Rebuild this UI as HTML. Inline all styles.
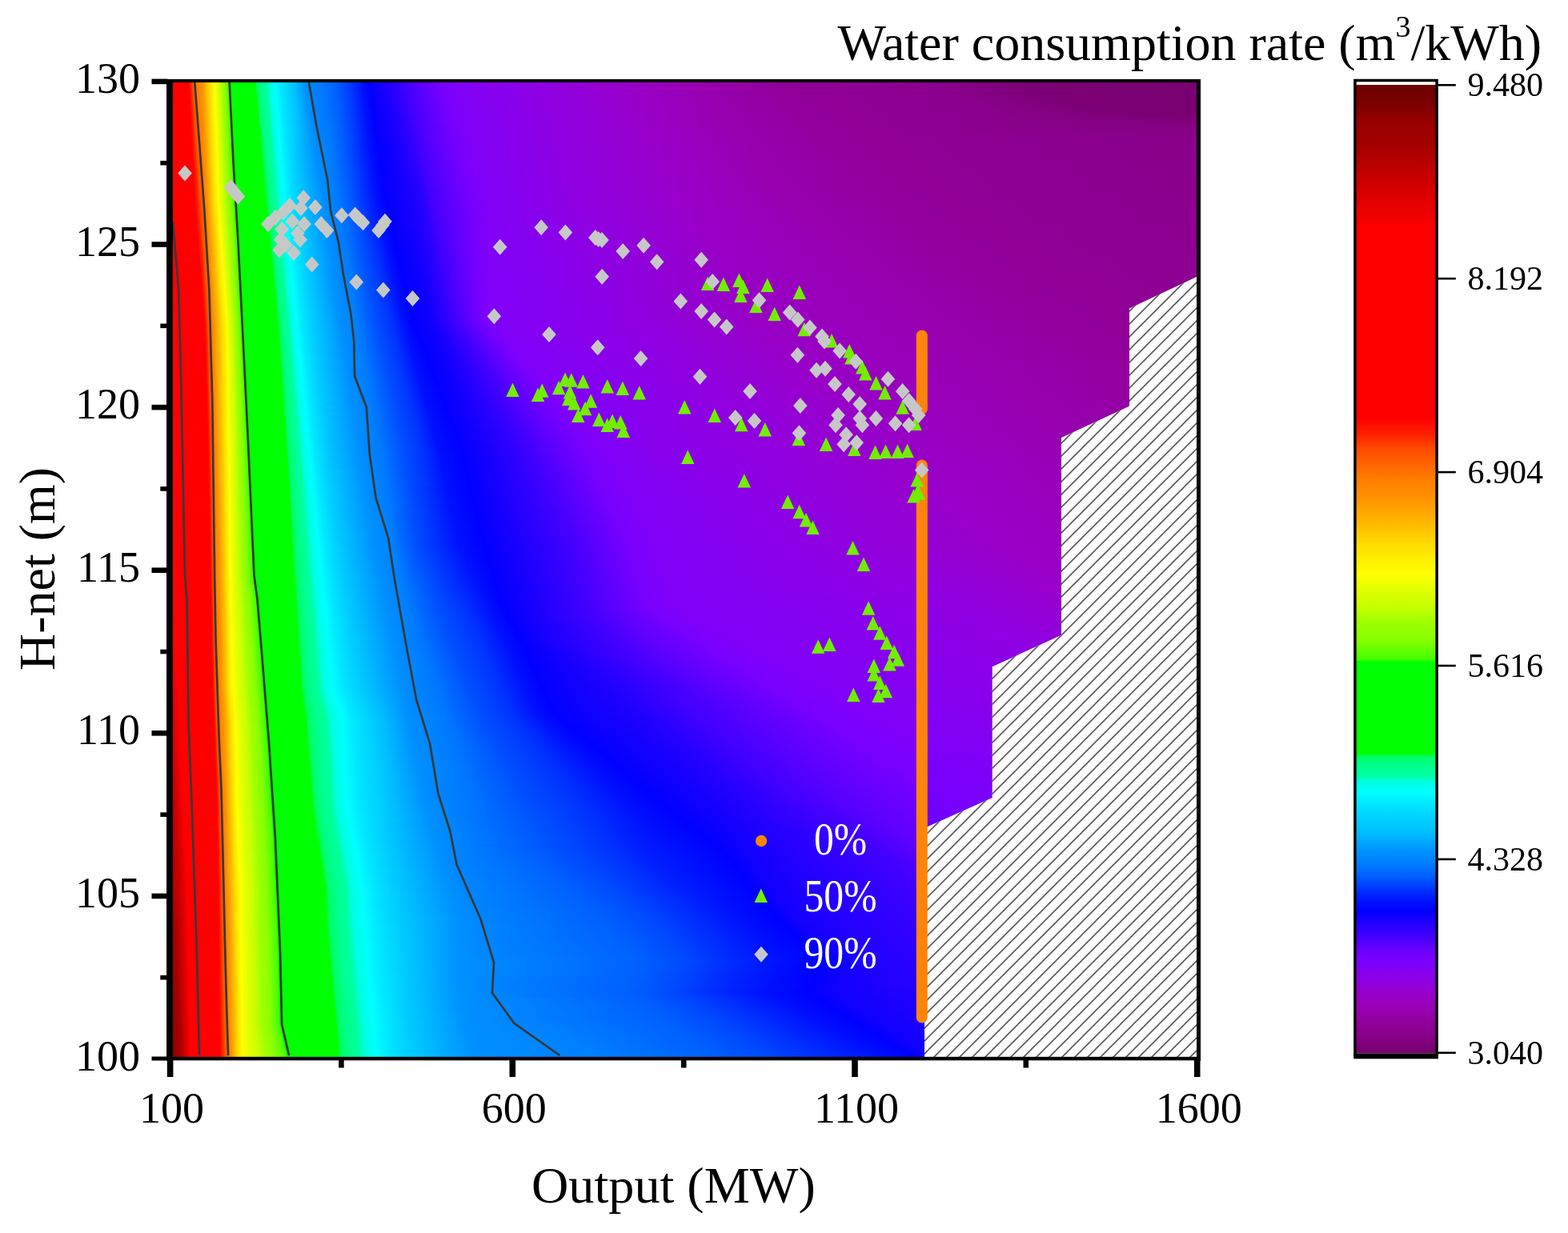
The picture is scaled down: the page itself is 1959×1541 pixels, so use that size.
<!DOCTYPE html>
<html><head><meta charset="utf-8"><title>Water consumption rate contour</title>
<style>
html,body{margin:0;padding:0;background:#fff}
body{width:1959px;height:1541px;position:relative;overflow:hidden}
#fld{position:absolute;left:216px;top:103px;width:1279px;height:1218px}
#fld div{width:100%}
#cb{position:absolute;left:1694px;top:106px;width:100px;height:1210px;background:linear-gradient(180deg,#6c0000 0px,#7c0000 24px,#960000 44px,#a50000 74px,#be0000 104px,#d80000 134px,#ff0000 182px,#ff0000 417px,#ff2000 437px,#ff4800 454px,#ff6600 476px,#ff8000 495px,#ff9000 515px,#ffa800 534px,#ffc000 554px,#ffdd00 575px,#ffff00 612px,#e0ff00 631px,#c8ff00 651px,#a0ff00 670px,#88ff00 693px,#40ff00 719px,#00ff00 721px,#00ff00 836px,#00ff60 839px,#00ff88 849px,#00ffa0 863px,#00ffe0 871px,#00ffff 885px,#00e8ff 898px,#00d0ff 917px,#00c0ff 933px,#00a8ff 946px,#0090ff 958px,#0080ff 972px,#0060ff 989px,#0030ff 1007px,#0010ff 1021px,#0000ff 1033px,#2000ff 1047px,#4000ff 1063px,#6000ff 1077px,#7800ff 1091px,#8000f8 1103px,#9000e0 1121px,#9800c8 1138px,#9800b0 1156px,#900098 1173px,#880088 1191px,#780070 1205px)}
#cbw{position:absolute;left:1694px;top:102px;width:100px;height:4px;background:#fff}
svg{position:absolute;left:0;top:0}
</style></head><body>
<div id="fld">
<div style="height:4px;background:linear-gradient(90deg,#ff0000 0px,#ff0000 19.5px,#ff1900 21.5px,#ff4e00 24.5px,#ff7100 27.5px,#ff8000 30.5px,#ff9300 36.5px,#ffdf00 46.5px,#feff00 52.5px,#e0ff00 55.5px,#c9ff00 58.5px,#a3ff00 61.5px,#87ff00 65.5px,#42ff00 69.5px,#00ff00 70.5px,#00ff00 102.5px,#00ff11 103.5px,#00ff50 104.5px,#00ff66 105.5px,#00ff86 109.5px,#00ff9f 116.5px,#00ffaa 117.5px,#00ffd9 120.5px,#00ffe3 121.5px,#00fdff 128.5px,#00e6ff 135.5px,#00c0ff 152.5px,#0090ff 165.5px,#0087ff 169.5px,#0078ff 186.5px,#0061ff 203.5px,#0034ff 223.5px,#0010ff 236.5px,#0000ff 245.5px,#2e00ff 279.5px,#4000ff 289.5px,#7800ff 334.5px,#8000f8 354.5px,#9000e0 474.5px,#9800c8 575.5px,#9800b0 655.5px,#900098 772.5px,#8b008e 939.5px,#7b0075 1059.5px,#77006f 1279px)"></div>
<div style="height:4px;background:linear-gradient(90deg,#ff0000 0px,#ff0000 19.5px,#ff0800 20.5px,#ff1500 21.5px,#ff2400 22.5px,#ff4b00 24.5px,#ff6e00 27.5px,#ff7f00 30.5px,#ff9200 36.5px,#ffde00 46.5px,#ffff00 52.5px,#e1ff00 55.5px,#caff00 58.5px,#a5ff00 61.5px,#89ff00 65.5px,#46ff00 69.5px,#00ff00 70.5px,#00ff00 103.5px,#00ff39 104.5px,#00ff63 105.5px,#00ff89 110.5px,#00ff9e 116.5px,#00ffa4 117.5px,#00ffe1 121.5px,#00feff 128.5px,#00e7ff 135.5px,#00c1ff 152.5px,#0092ff 165.5px,#0086ff 170.5px,#0079ff 186.5px,#0060ff 204.5px,#0033ff 224.5px,#0011ff 236.5px,#0100ff 246.5px,#2e00ff 280.5px,#4000ff 290.5px,#7800ff 335.5px,#8000f8 355.5px,#9000e0 475.5px,#9800c8 577.5px,#9800b0 658.5px,#900098 777.5px,#8b008e 947.5px,#7b0075 1068.5px,#780070 1279px)"></div>
<div style="height:4px;background:linear-gradient(90deg,#ff0000 0px,#ff0000 19.5px,#ff0500 20.5px,#ff2000 22.5px,#ff4700 24.5px,#ff7300 28.5px,#ff8100 31.5px,#ff9000 36.5px,#ffdd00 46.5px,#fffe00 52.5px,#f6ff00 53.5px,#e2ff00 55.5px,#cbff00 58.5px,#9dff00 62.5px,#8aff00 65.5px,#7cff00 66.5px,#49ff00 69.5px,#00ff00 70.5px,#00ff00 103.5px,#00ff22 104.5px,#00ff60 105.5px,#00ff88 110.5px,#00ffa0 117.5px,#00ffdf 121.5px,#00fffe 128.5px,#00fcff 129.5px,#00e7ff 135.5px,#00beff 153.5px,#0090ff 166.5px,#0085ff 171.5px,#0078ff 187.5px,#0060ff 204.5px,#0034ff 224.5px,#0010ff 237.5px,#0000ff 246.5px,#2e00ff 281.5px,#4000ff 291.5px,#7800ff 337.5px,#8000f8 356.5px,#9000e0 476.5px,#9800c8 579.5px,#9800b0 661.5px,#900098 781.5px,#8b008e 956.5px,#7b0075 1077.5px,#780070 1279px)"></div>
<div style="height:4px;background:linear-gradient(90deg,#ff0000 0px,#ff0200 20.5px,#ff1d00 22.5px,#ff4200 24.5px,#ff7200 28.5px,#ff8100 31.5px,#ff9000 36.5px,#ffdc00 46.5px,#fffe00 52.5px,#f7ff00 53.5px,#c3ff00 59.5px,#9eff00 62.5px,#8bff00 65.5px,#7fff00 66.5px,#4cff00 69.5px,#07ff00 70.5px,#00ff00 71.5px,#00ff00 103.5px,#00ff0a 104.5px,#00ff4a 105.5px,#00ff65 106.5px,#00ff85 110.5px,#00ff9f 117.5px,#00ffa9 118.5px,#00ffd9 121.5px,#00ffe3 122.5px,#00fdff 129.5px,#00e8ff 135.5px,#00bfff 153.5px,#008fff 167.5px,#0085ff 172.5px,#0079ff 187.5px,#0061ff 204.5px,#0033ff 225.5px,#0011ff 237.5px,#0100ff 247.5px,#2e00ff 282.5px,#4000ff 292.5px,#7800ff 338.5px,#8000f8 357.5px,#9000e0 477.5px,#9800c8 581.5px,#9800b0 664.5px,#900098 786.5px,#8b008e 964.5px,#7b0075 1086.5px,#780070 1279px)"></div>
<div style="height:4px;background:linear-gradient(90deg,#ff0000 0px,#ff0000 20.5px,#ff1900 22.5px,#ff4d00 25.5px,#ff6f00 28.5px,#ff8000 31.5px,#ff8f00 36.5px,#ffdb00 46.5px,#fffd00 52.5px,#f8ff00 53.5px,#e5ff00 55.5px,#c5ff00 59.5px,#9fff00 62.5px,#8cff00 65.5px,#82ff00 66.5px,#4fff00 69.5px,#2dff00 70.5px,#00ff00 71.5px,#00ff00 104.5px,#00ff62 106.5px,#00ff89 111.5px,#00ff9d 117.5px,#00ffa4 118.5px,#00ffe1 122.5px,#00feff 129.5px,#00e6ff 136.5px,#00c0ff 153.5px,#008eff 168.5px,#0084ff 173.5px,#0079ff 188.5px,#0060ff 205.5px,#0034ff 225.5px,#0010ff 238.5px,#0000ff 247.5px,#2100ff 274.5px,#4100ff 293.5px,#7800ff 339.5px,#8000f8 358.5px,#9000e0 478.5px,#9800c8 583.5px,#9800b0 667.5px,#900098 790.5px,#8b008e 973.5px,#7b0075 1095.5px,#780070 1279px)"></div>
<div style="height:4px;background:linear-gradient(90deg,#ff0000 0px,#ff0000 20.5px,#ff0900 21.5px,#ff2500 23.5px,#ff4a00 25.5px,#ff7400 29.5px,#ff7e00 31.5px,#ff9400 37.5px,#ffda00 46.5px,#fffc00 52.5px,#faff00 53.5px,#ddff00 56.5px,#c7ff00 59.5px,#a0ff00 62.5px,#85ff00 66.5px,#42ff00 70.5px,#00ff00 71.5px,#00ff00 104.5px,#00ff1b 105.5px,#00ff5b 106.5px,#00ff67 107.5px,#00ff87 111.5px,#00ffa0 118.5px,#00ffde 122.5px,#00ffff 129.5px,#00fcff 130.5px,#00e7ff 136.5px,#00beff 154.5px,#0090ff 168.5px,#0085ff 173.5px,#0078ff 189.5px,#0061ff 205.5px,#0032ff 226.5px,#0011ff 238.5px,#0100ff 248.5px,#2100ff 275.5px,#4100ff 294.5px,#7800ff 340.5px,#8000f8 359.5px,#9000e0 479.5px,#9800c8 585.5px,#9800b0 670.5px,#900098 794.5px,#8b008e 981.5px,#7b0075 1104.5px,#780070 1279px)"></div>
<div style="height:4px;background:linear-gradient(90deg,#ff0000 0px,#ff0000 20.5px,#ff0700 21.5px,#ff2100 23.5px,#ff4600 25.5px,#ff7200 29.5px,#ff8100 32.5px,#ff9200 37.5px,#ffe000 47.5px,#fffc00 52.5px,#fbff00 53.5px,#deff00 56.5px,#c8ff00 59.5px,#a2ff00 62.5px,#88ff00 66.5px,#45ff00 70.5px,#00ff00 71.5px,#00ff00 104.5px,#00ff03 105.5px,#00ff43 106.5px,#00ff64 107.5px,#00ff8a 112.5px,#00ff9e 118.5px,#00ffa9 119.5px,#00ffd9 122.5px,#00ffe3 123.5px,#00fdff 130.5px,#00e8ff 136.5px,#00bfff 154.5px,#008fff 169.5px,#0085ff 174.5px,#0079ff 189.5px,#0060ff 206.5px,#0033ff 226.5px,#0010ff 239.5px,#0000ff 248.5px,#2000ff 275.5px,#4100ff 295.5px,#7800ff 341.5px,#8000f8 360.5px,#9000e0 481.5px,#9800c8 586.5px,#9800b0 673.5px,#900098 799.5px,#8b008e 990.5px,#7b0075 1113.5px,#780070 1279px)"></div>
<div style="height:4px;background:linear-gradient(90deg,#ff0000 0px,#ff0000 20.5px,#ff0400 21.5px,#ff1d00 23.5px,#ff4200 25.5px,#ff4f00 26.5px,#ff7000 29.5px,#ff8000 32.5px,#ff9100 37.5px,#ffdf00 47.5px,#fffb00 52.5px,#fcff00 53.5px,#dfff00 56.5px,#c9ff00 59.5px,#a4ff00 62.5px,#89ff00 66.5px,#48ff00 70.5px,#00ff00 71.5px,#00ff00 105.5px,#00ff2c 106.5px,#00ff61 107.5px,#00ff89 112.5px,#00ffa4 119.5px,#00ffe1 123.5px,#00feff 130.5px,#00e6ff 137.5px,#00c0ff 154.5px,#0090ff 169.5px,#0084ff 175.5px,#0078ff 190.5px,#0061ff 206.5px,#0034ff 226.5px,#0011ff 239.5px,#0000ff 249.5px,#2000ff 276.5px,#4100ff 296.5px,#7800ff 342.5px,#8000f8 361.5px,#9000e0 482.5px,#9800c8 589.5px,#9800b0 676.5px,#900098 803.5px,#8b008e 998.5px,#7b0075 1135.5px,#790071 1279px)"></div>
<div style="height:4px;background:linear-gradient(90deg,#ff0000 0px,#ff0100 21.5px,#ff1a00 23.5px,#ff4c00 26.5px,#ff6c00 29.5px,#ff7f00 32.5px,#ff9000 37.5px,#ffde00 47.5px,#fdff00 53.5px,#e0ff00 56.5px,#caff00 59.5px,#9dff00 63.5px,#8aff00 66.5px,#7dff00 67.5px,#4bff00 70.5px,#00ff00 71.5px,#00ff00 105.5px,#00ff14 106.5px,#00ff54 107.5px,#00ff67 108.5px,#00ff87 112.5px,#00ffa0 119.5px,#00ffde 123.5px,#00ffff 130.5px,#00fcff 131.5px,#00e7ff 137.5px,#00beff 155.5px,#008fff 170.5px,#0084ff 176.5px,#0078ff 191.5px,#0060ff 207.5px,#0033ff 227.5px,#0010ff 240.5px,#0100ff 250.5px,#2000ff 277.5px,#2e00ff 287.5px,#4000ff 296.5px,#7800ff 343.5px,#8000f8 362.5px,#9000e0 483.5px,#9800c8 590.5px,#9800b0 679.5px,#900098 808.5px,#8b008e 1007.5px,#7b0075 1158.5px,#790071 1279px)"></div>
<div style="height:4px;background:linear-gradient(90deg,#ff0000 0px,#ff0000 21.5px,#ff2600 24.5px,#ff4900 26.5px,#ff7300 30.5px,#ff8200 33.5px,#ff8f00 37.5px,#ffdd00 47.5px,#feff00 53.5px,#e1ff00 56.5px,#cbff00 59.5px,#9eff00 63.5px,#8bff00 66.5px,#80ff00 67.5px,#4eff00 70.5px,#24ff00 71.5px,#00ff00 72.5px,#00ff00 106.5px,#00ff3c 107.5px,#00ff64 108.5px,#00ff8a 113.5px,#00ff9e 119.5px,#00ffa9 120.5px,#00ffd9 123.5px,#00ffe2 124.5px,#00fdff 131.5px,#00e8ff 137.5px,#00bfff 155.5px,#008eff 171.5px,#0085ff 176.5px,#0078ff 191.5px,#0060ff 207.5px,#0034ff 227.5px,#0011ff 240.5px,#0000ff 250.5px,#2000ff 278.5px,#2e00ff 288.5px,#4000ff 297.5px,#7800ff 344.5px,#8000f8 363.5px,#9000e0 484.5px,#9800c8 592.5px,#9800b0 682.5px,#900098 812.5px,#8b008e 1015.5px,#7b0075 1182.5px,#790072 1279px)"></div>
<div style="height:4px;background:linear-gradient(90deg,#ff0000 0px,#ff0000 21.5px,#ff0800 22.5px,#ff2100 24.5px,#ff4600 26.5px,#ff7100 30.5px,#ff8100 33.5px,#ff8f00 37.5px,#ffdc00 47.5px,#ffff00 53.5px,#f6ff00 54.5px,#e2ff00 56.5px,#c3ff00 60.5px,#9fff00 63.5px,#8cff00 66.5px,#83ff00 67.5px,#41ff00 71.5px,#00ff00 72.5px,#00ff00 106.5px,#00ff25 107.5px,#00ff61 108.5px,#00ff88 113.5px,#00ffa3 120.5px,#00ffe1 124.5px,#00feff 131.5px,#00e9ff 137.5px,#00bfff 155.5px,#0090ff 171.5px,#0084ff 177.5px,#0078ff 192.5px,#0061ff 207.5px,#0032ff 228.5px,#0010ff 241.5px,#0100ff 251.5px,#2000ff 279.5px,#2e00ff 289.5px,#4000ff 298.5px,#7800ff 345.5px,#8000f8 364.5px,#9000e0 485.5px,#9800c8 594.5px,#9800b0 685.5px,#900098 817.5px,#8b008e 1024.5px,#7b0075 1217.5px,#7a0073 1279px)"></div>
<div style="height:4px;background:linear-gradient(90deg,#ff0000 0px,#ff0000 21.5px,#ff0600 22.5px,#ff1e00 24.5px,#ff4100 26.5px,#ff4e00 27.5px,#ff6d00 30.5px,#ff8000 33.5px,#ff9300 38.5px,#ffdb00 47.5px,#fffe00 53.5px,#f7ff00 54.5px,#e4ff00 56.5px,#c5ff00 60.5px,#a0ff00 63.5px,#85ff00 67.5px,#44ff00 71.5px,#00ff00 72.5px,#00ff00 106.5px,#00ff0d 107.5px,#00ff4e 108.5px,#00ff66 109.5px,#00ff86 113.5px,#00ff9f 120.5px,#00ffde 124.5px,#00ffff 131.5px,#00fcff 132.5px,#00e7ff 138.5px,#00c0ff 155.5px,#008fff 172.5px,#0084ff 178.5px,#0079ff 192.5px,#0060ff 208.5px,#0033ff 228.5px,#0011ff 241.5px,#0000ff 251.5px,#2000ff 280.5px,#2e00ff 290.5px,#4000ff 299.5px,#7800ff 346.5px,#8000f8 365.5px,#9000e0 486.5px,#9800c8 596.5px,#9800b0 688.5px,#900098 821.5px,#8b008e 1032.5px,#850083 1112.5px,#7e0078 1279px)"></div>
<div style="height:4px;background:linear-gradient(90deg,#ff0000 0px,#ff0000 21.5px,#ff0300 22.5px,#ff1b00 24.5px,#ff4c00 27.5px,#ff7300 31.5px,#ff7f00 33.5px,#ff9200 38.5px,#ffda00 47.5px,#fffd00 53.5px,#f8ff00 54.5px,#dcff00 57.5px,#c7ff00 60.5px,#a1ff00 63.5px,#88ff00 67.5px,#47ff00 71.5px,#00ff00 72.5px,#00ff00 107.5px,#00ff36 108.5px,#00ff63 109.5px,#00ff89 114.5px,#00ff9e 120.5px,#00ffa8 121.5px,#00ffd9 124.5px,#00ffe2 125.5px,#00fdff 132.5px,#00e8ff 138.5px,#00beff 156.5px,#0090ff 172.5px,#0085ff 178.5px,#0078ff 193.5px,#0061ff 208.5px,#0034ff 228.5px,#0010ff 242.5px,#0100ff 252.5px,#2000ff 281.5px,#2e00ff 291.5px,#4100ff 300.5px,#7800ff 347.5px,#8000f8 366.5px,#9000e0 487.5px,#9800c8 598.5px,#9800b0 691.5px,#900098 826.5px,#8b008e 1040.5px,#850083 1153.5px,#81007d 1279px)"></div>
<div style="height:4px;background:linear-gradient(90deg,#ff0000 0px,#ff0100 22.5px,#ff2600 25.5px,#ff4900 27.5px,#ff7100 31.5px,#ff8200 34.5px,#ff9000 38.5px,#ffe000 48.5px,#fffd00 53.5px,#f9ff00 54.5px,#ddff00 57.5px,#c8ff00 60.5px,#a3ff00 63.5px,#89ff00 67.5px,#4aff00 71.5px,#00ff00 72.5px,#00ff00 107.5px,#00ff1e 108.5px,#00ff5f 109.5px,#00ff88 114.5px,#00ffa3 121.5px,#00ffe1 125.5px,#00feff 132.5px,#00e9ff 138.5px,#00bfff 156.5px,#008fff 173.5px,#0085ff 179.5px,#0079ff 193.5px,#0060ff 209.5px,#0033ff 229.5px,#0010ff 242.5px,#0000ff 252.5px,#2000ff 282.5px,#2e00ff 292.5px,#4100ff 301.5px,#7800ff 349.5px,#8000f8 367.5px,#9000e0 488.5px,#9800c8 600.5px,#9800b0 694.5px,#900098 830.5px,#82007f 1279px)"></div>
<div style="height:4px;background:linear-gradient(90deg,#ff0000 0px,#ff0000 22.5px,#ff2200 25.5px,#ff4500 27.5px,#ff6e00 31.5px,#ff8100 34.5px,#ff9000 38.5px,#ffdf00 48.5px,#fffc00 53.5px,#faff00 54.5px,#deff00 57.5px,#c9ff00 60.5px,#a5ff00 63.5px,#8aff00 67.5px,#7eff00 68.5px,#4dff00 71.5px,#1bff00 72.5px,#00ff00 73.5px,#00ff00 107.5px,#00ff06 108.5px,#00ff47 109.5px,#00ff65 110.5px,#00ff86 114.5px,#00ff9f 121.5px,#00ffde 125.5px,#00ffff 132.5px,#00e7ff 139.5px,#00c0ff 156.5px,#0090ff 173.5px,#0084ff 180.5px,#0078ff 194.5px,#0061ff 209.5px,#0034ff 229.5px,#000fff 243.5px,#0100ff 253.5px,#2000ff 283.5px,#2e00ff 293.5px,#4100ff 302.5px,#7800ff 350.5px,#8000f8 368.5px,#9000e0 489.5px,#9800c8 602.5px,#9800b0 697.5px,#900098 835.5px,#830081 1279px)"></div>
<div style="height:4px;background:linear-gradient(90deg,#ff0000 0px,#ff0000 22.5px,#ff0700 23.5px,#ff1f00 25.5px,#ff4e00 28.5px,#ff7400 32.5px,#ff8000 34.5px,#ff8f00 38.5px,#ffde00 48.5px,#fffb00 53.5px,#fbff00 54.5px,#dfff00 57.5px,#caff00 60.5px,#9dff00 64.5px,#8bff00 67.5px,#80ff00 68.5px,#3fff00 72.5px,#00ff00 73.5px,#00ff00 108.5px,#00ff62 110.5px,#00ff89 115.5px,#00ff9e 121.5px,#00ffa8 122.5px,#00ffd9 125.5px,#00ffe2 126.5px,#00fffe 132.5px,#00fdff 133.5px,#00e7ff 139.5px,#00c0ff 156.5px,#0090ff 174.5px,#0084ff 181.5px,#0079ff 194.5px,#005fff 210.5px,#0032ff 230.5px,#0010ff 243.5px,#0000ff 253.5px,#2000ff 284.5px,#2e00ff 294.5px,#4000ff 302.5px,#7800ff 351.5px,#8000f8 369.5px,#9000e0 490.5px,#9800c8 604.5px,#9800b0 700.5px,#900098 839.5px,#850084 1279px)"></div>
<div style="height:4px;background:linear-gradient(90deg,#ff0000 0px,#ff0000 22.5px,#ff0500 23.5px,#ff1c00 25.5px,#ff4b00 28.5px,#ff7200 32.5px,#ff7f00 34.5px,#ff9400 39.5px,#ffdd00 48.5px,#fdff00 54.5px,#e0ff00 57.5px,#cbff00 60.5px,#9eff00 64.5px,#83ff00 68.5px,#43ff00 72.5px,#00ff00 73.5px,#00ff00 108.5px,#00ff17 109.5px,#00ff58 110.5px,#00ff67 111.5px,#00ff88 115.5px,#00ffa2 122.5px,#00ffe1 126.5px,#00feff 133.5px,#00e8ff 139.5px,#00bfff 157.5px,#0091ff 174.5px,#0085ff 181.5px,#0078ff 195.5px,#0060ff 210.5px,#0033ff 230.5px,#0012ff 243.5px,#0000ff 254.5px,#2000ff 285.5px,#2e00ff 295.5px,#4000ff 303.5px,#6100ff 330.5px,#7800ff 352.5px,#8000f8 370.5px,#9000e0 492.5px,#9800c8 605.5px,#9800b0 703.5px,#900098 844.5px,#870087 1279px)"></div>
<div style="height:4px;background:linear-gradient(90deg,#ff0000 0px,#ff0200 23.5px,#ff2700 26.5px,#ff4800 28.5px,#ff6f00 32.5px,#ff8200 35.5px,#ff9300 39.5px,#ffdc00 48.5px,#feff00 54.5px,#e1ff00 57.5px,#c3ff00 61.5px,#9fff00 64.5px,#86ff00 68.5px,#46ff00 72.5px,#00ff00 73.5px,#00ff00 109.5px,#00ff40 110.5px,#00ff64 111.5px,#00ff85 115.5px,#00ff9f 122.5px,#00ffde 126.5px,#00ffff 133.5px,#00e6ff 140.5px,#00bfff 157.5px,#0090ff 175.5px,#0085ff 182.5px,#0078ff 196.5px,#0061ff 210.5px,#0034ff 230.5px,#0010ff 244.5px,#0000ff 254.5px,#2000ff 286.5px,#2f00ff 296.5px,#4000ff 304.5px,#6100ff 331.5px,#7800ff 353.5px,#8000f8 371.5px,#9000e0 493.5px,#9800c8 607.5px,#9800b0 706.5px,#900098 848.5px,#880089 1279px)"></div>
<div style="height:4px;background:linear-gradient(90deg,#ff0000 0px,#ff0000 23.5px,#ff2300 26.5px,#ff4400 28.5px,#ff6c00 32.5px,#ff8100 35.5px,#ff9100 39.5px,#ffdb00 48.5px,#ffff00 54.5px,#e3ff00 57.5px,#c5ff00 61.5px,#a1ff00 64.5px,#88ff00 68.5px,#49ff00 72.5px,#00ff00 73.5px,#00ff00 109.5px,#00ff28 110.5px,#00ff61 111.5px,#00ff89 116.5px,#00ff9e 122.5px,#00ffa7 123.5px,#00ffd9 126.5px,#00ffe2 127.5px,#00fffe 133.5px,#00fcff 134.5px,#00e7ff 140.5px,#008fff 176.5px,#0085ff 183.5px,#0079ff 196.5px,#0060ff 211.5px,#0012ff 244.5px,#0000ff 255.5px,#2000ff 287.5px,#2f00ff 297.5px,#4000ff 305.5px,#6100ff 332.5px,#7800ff 354.5px,#8000f8 372.5px,#9000e0 494.5px,#9800c8 609.5px,#9800b0 709.5px,#900098 852.5px,#89008a 1279px)"></div>
<div style="height:4px;background:linear-gradient(90deg,#ff0000 0px,#ff0000 23.5px,#ff1f00 26.5px,#ff4d00 29.5px,#ff7200 33.5px,#ff8000 35.5px,#ff9000 39.5px,#ffe100 49.5px,#fffe00 54.5px,#f7ff00 55.5px,#e4ff00 57.5px,#c7ff00 61.5px,#a3ff00 64.5px,#89ff00 68.5px,#4cff00 72.5px,#13ff00 73.5px,#00ff00 74.5px,#00ff00 109.5px,#00ff10 110.5px,#00ff51 111.5px,#00ff66 112.5px,#00ff87 116.5px,#00ffa2 123.5px,#00ffe1 127.5px,#00feff 134.5px,#00e8ff 140.5px,#0090ff 176.5px,#0084ff 184.5px,#0078ff 197.5px,#0061ff 211.5px,#0010ff 245.5px,#0100ff 256.5px,#2000ff 288.5px,#2f00ff 298.5px,#4000ff 306.5px,#6000ff 332.5px,#7800ff 355.5px,#8000f8 373.5px,#9000e0 495.5px,#9800c8 611.5px,#9800b0 712.5px,#900098 857.5px,#89008a 1279px)"></div>
<div style="height:4px;background:linear-gradient(90deg,#ff0000 0px,#ff0000 23.5px,#ff0600 24.5px,#ff1d00 26.5px,#ff4a00 29.5px,#ff7000 33.5px,#ff7e00 35.5px,#ff8f00 39.5px,#ffe000 49.5px,#fffe00 54.5px,#f8ff00 55.5px,#ddff00 58.5px,#c8ff00 61.5px,#a4ff00 64.5px,#8aff00 68.5px,#7eff00 69.5px,#4fff00 72.5px,#36ff00 73.5px,#00ff00 74.5px,#00ff00 110.5px,#00ff39 111.5px,#00ff63 112.5px,#00ff8a 117.5px,#00ff9f 123.5px,#00ffde 127.5px,#00ffff 134.5px,#00e6ff 141.5px,#0090ff 177.5px,#0079ff 197.5px,#0060ff 212.5px,#0012ff 245.5px,#0000ff 256.5px,#2000ff 289.5px,#2f00ff 299.5px,#4100ff 307.5px,#6000ff 333.5px,#7800ff 356.5px,#8000f8 374.5px,#9000e0 496.5px,#9800c8 613.5px,#9800b0 715.5px,#900098 861.5px,#89008a 1279px)"></div>
<div style="height:4px;background:linear-gradient(90deg,#ff0000 0px,#ff0000 23.5px,#ff0400 24.5px,#ff2700 27.5px,#ff4800 29.5px,#ff6d00 33.5px,#ff7c00 35.5px,#ff9500 40.5px,#ffdf00 49.5px,#fffd00 54.5px,#f9ff00 55.5px,#deff00 58.5px,#c9ff00 61.5px,#9dff00 65.5px,#8bff00 68.5px,#81ff00 69.5px,#42ff00 73.5px,#00ff00 74.5px,#00ff00 110.5px,#00ff21 111.5px,#00ff60 112.5px,#00ff89 117.5px,#00ff9e 123.5px,#00ffa7 124.5px,#00ffd8 127.5px,#00ffe2 128.5px,#00fffe 134.5px,#00fcff 135.5px,#00e7ff 141.5px,#00d0ff 150.5px,#0091ff 177.5px,#0078ff 198.5px,#0061ff 212.5px,#0010ff 246.5px,#0100ff 257.5px,#2000ff 290.5px,#2f00ff 300.5px,#4100ff 308.5px,#6000ff 334.5px,#7800ff 357.5px,#8000f8 375.5px,#9000e0 497.5px,#9800c8 615.5px,#9800b0 718.5px,#900098 866.5px,#89008a 1279px)"></div>
<div style="height:4px;background:linear-gradient(90deg,#ff0000 0px,#ff0200 24.5px,#ff2400 27.5px,#ff4400 29.5px,#ff7300 34.5px,#ff8100 36.5px,#ff9400 40.5px,#ffde00 49.5px,#fffc00 54.5px,#faff00 55.5px,#dfff00 58.5px,#caff00 61.5px,#9eff00 65.5px,#84ff00 69.5px,#45ff00 73.5px,#00ff00 74.5px,#00ff00 110.5px,#00ff08 111.5px,#00ff4b 112.5px,#00ff66 113.5px,#00ff87 117.5px,#00ffa1 124.5px,#00ffe1 128.5px,#00fdff 135.5px,#00e8ff 141.5px,#00d1ff 150.5px,#0090ff 178.5px,#0079ff 198.5px,#005fff 213.5px,#0011ff 246.5px,#0000ff 257.5px,#2000ff 291.5px,#2f00ff 301.5px,#4000ff 308.5px,#6000ff 335.5px,#7800ff 358.5px,#8000f8 376.5px,#9000e0 498.5px,#9800c8 617.5px,#9800b0 721.5px,#900098 870.5px,#89008b 1279px)"></div>
<div style="height:4px;background:linear-gradient(90deg,#ff0000 0px,#ff0000 24.5px,#ff2000 27.5px,#ff4c00 30.5px,#ff7100 34.5px,#ff8000 36.5px,#ff9200 40.5px,#ffde00 49.5px,#fffc00 54.5px,#fbff00 55.5px,#e0ff00 58.5px,#cbff00 61.5px,#9fff00 65.5px,#87ff00 69.5px,#48ff00 73.5px,#00ff00 74.5px,#00ff00 111.5px,#00ff63 113.5px,#00ff8a 118.5px,#00ff9f 124.5px,#00ffac 125.5px,#00ffde 128.5px,#00ffff 135.5px,#00e9ff 141.5px,#00d1ff 150.5px,#0091ff 178.5px,#0078ff 199.5px,#0060ff 213.5px,#0010ff 247.5px,#0100ff 258.5px,#2000ff 292.5px,#2f00ff 302.5px,#4000ff 309.5px,#6000ff 336.5px,#7800ff 359.5px,#8000f8 376.5px,#9000e0 499.5px,#9800c8 619.5px,#9800b0 724.5px,#900098 875.5px,#89008b 1279px)"></div>
<div style="height:4px;background:linear-gradient(90deg,#ff0000 0px,#ff0000 24.5px,#ff1d00 27.5px,#ff4a00 30.5px,#ff6e00 34.5px,#ff7e00 36.5px,#ff9100 40.5px,#ffdd00 49.5px,#fcff00 55.5px,#e1ff00 58.5px,#c3ff00 62.5px,#a0ff00 65.5px,#89ff00 69.5px,#4bff00 73.5px,#0dff00 74.5px,#00ff00 75.5px,#00ff00 111.5px,#00ff1a 112.5px,#00ff5c 113.5px,#00ff68 114.5px,#00ff88 118.5px,#00ff9e 124.5px,#00ffa6 125.5px,#00ffd8 128.5px,#00ffe2 129.5px,#00fffe 135.5px,#00fcff 136.5px,#00e7ff 142.5px,#00d0ff 151.5px,#0090ff 179.5px,#0079ff 199.5px,#0061ff 213.5px,#0011ff 247.5px,#0000ff 258.5px,#2000ff 293.5px,#2f00ff 303.5px,#4000ff 310.5px,#6000ff 337.5px,#7800ff 360.5px,#8000f8 377.5px,#9000e0 500.5px,#9800c8 620.5px,#9800b0 727.5px,#900098 879.5px,#89008b 1279px)"></div>
<div style="height:4px;background:linear-gradient(90deg,#ff0000 0px,#ff0000 24.5px,#ff0600 25.5px,#ff1b00 27.5px,#ff4700 30.5px,#ff7400 35.5px,#ff8200 37.5px,#ff9000 40.5px,#ffdb00 49.5px,#fdff00 55.5px,#e2ff00 58.5px,#c5ff00 62.5px,#a2ff00 65.5px,#8aff00 69.5px,#7dff00 70.5px,#4fff00 73.5px,#36ff00 74.5px,#00ff00 75.5px,#00ff01 112.5px,#00ff44 113.5px,#00ff65 114.5px,#00ff86 118.5px,#00ffa1 125.5px,#00ffe1 129.5px,#00fdff 136.5px,#00e8ff 142.5px,#00d0ff 151.5px,#0092ff 179.5px,#0079ff 200.5px,#0060ff 214.5px,#0010ff 248.5px,#0000ff 259.5px,#2000ff 294.5px,#2f00ff 304.5px,#4000ff 311.5px,#6000ff 338.5px,#7800ff 361.5px,#8000f8 378.5px,#9000e0 501.5px,#9800c8 622.5px,#9800b0 730.5px,#900098 884.5px,#89008b 1279px)"></div>
<div style="height:4px;background:linear-gradient(90deg,#ff0000 0px,#ff0000 24.5px,#ff0300 25.5px,#ff2400 28.5px,#ff4300 30.5px,#ff7200 35.5px,#ff8100 37.5px,#ff8f00 40.5px,#ffda00 49.5px,#feff00 55.5px,#e3ff00 58.5px,#c7ff00 62.5px,#a4ff00 65.5px,#8bff00 69.5px,#80ff00 70.5px,#43ff00 74.5px,#00ff00 75.5px,#00ff00 112.5px,#00ff2b 113.5px,#00ff62 114.5px,#00ff89 119.5px,#00ff9f 125.5px,#00ffac 126.5px,#00ffde 129.5px,#00feff 136.5px,#00e9ff 142.5px,#00d1ff 151.5px,#0091ff 180.5px,#0079ff 200.5px,#0061ff 214.5px,#0011ff 248.5px,#0000ff 259.5px,#2000ff 295.5px,#2d00ff 304.5px,#4000ff 312.5px,#6000ff 339.5px,#7800ff 362.5px,#8000f8 379.5px,#9000e0 503.5px,#9800c8 624.5px,#9800b0 733.5px,#900098 888.5px,#8a008b 1279px)"></div>
<div style="height:4px;background:linear-gradient(90deg,#ff0000 0px,#ff0100 25.5px,#ff2100 28.5px,#ff4c00 31.5px,#ff6f00 35.5px,#ff8000 37.5px,#ff9500 41.5px,#ffe000 50.5px,#ffff00 55.5px,#f6ff00 56.5px,#ddff00 59.5px,#c9ff00 62.5px,#9dff00 66.5px,#83ff00 70.5px,#46ff00 74.5px,#00ff00 75.5px,#00ff00 112.5px,#00ff13 113.5px,#00ff55 114.5px,#00ff67 115.5px,#00ff88 119.5px,#00ff9e 125.5px,#00ffa6 126.5px,#00ffd8 129.5px,#00ffe2 130.5px,#00fffe 136.5px,#00fcff 137.5px,#00e7ff 143.5px,#00cfff 152.5px,#0090ff 181.5px,#0079ff 201.5px,#0060ff 215.5px,#0010ff 249.5px,#0000ff 260.5px,#2000ff 296.5px,#2d00ff 305.5px,#4100ff 313.5px,#6000ff 340.5px,#7700ff 363.5px,#8000f8 380.5px,#9000e0 504.5px,#9800c8 626.5px,#9800b0 736.5px,#900098 893.5px,#8a008b 1279px)"></div>
<div style="height:4px;background:linear-gradient(90deg,#ff0000 0px,#ff0000 25.5px,#ff1e00 28.5px,#ff4a00 31.5px,#ff7500 36.5px,#ff9300 41.5px,#ffdf00 50.5px,#fffe00 55.5px,#f7ff00 56.5px,#ddff00 59.5px,#caff00 62.5px,#9eff00 66.5px,#87ff00 70.5px,#4aff00 74.5px,#01ff00 75.5px,#00ff00 113.5px,#00ff3d 114.5px,#00ff64 115.5px,#00ff85 119.5px,#00ffa0 126.5px,#00ffe1 130.5px,#00fdff 137.5px,#00e8ff 143.5px,#00d0ff 152.5px,#0091ff 181.5px,#007aff 201.5px,#0061ff 215.5px,#0011ff 249.5px,#0000ff 260.5px,#2000ff 297.5px,#2d00ff 306.5px,#4100ff 314.5px,#6000ff 341.5px,#7800ff 365.5px,#8000f8 381.5px,#9000e0 505.5px,#9800c8 628.5px,#9800b0 739.5px,#900098 897.5px,#8a008c 1279px)"></div>
<div style="height:4px;background:linear-gradient(90deg,#ff0000 0px,#ff0000 25.5px,#ff1c00 28.5px,#ff4700 31.5px,#ff7b00 37.5px,#ff9200 41.5px,#ffdf00 50.5px,#fffd00 55.5px,#f8ff00 56.5px,#deff00 59.5px,#cbff00 62.5px,#9fff00 66.5px,#89ff00 70.5px,#4dff00 74.5px,#29ff00 75.5px,#00ff00 76.5px,#00ff00 113.5px,#00ff24 114.5px,#00ff61 115.5px,#00ff89 120.5px,#00ff9f 126.5px,#00ffab 127.5px,#00ffde 130.5px,#00feff 137.5px,#00e8ff 143.5px,#00d1ff 152.5px,#0090ff 182.5px,#0077ff 203.5px,#005fff 216.5px,#0010ff 250.5px,#0000ff 261.5px,#2000ff 298.5px,#2d00ff 307.5px,#4100ff 315.5px,#6000ff 342.5px,#7800ff 366.5px,#8000f8 382.5px,#9000e0 506.5px,#9800c8 630.5px,#9800b0 742.5px,#900098 901.5px,#8a008c 1279px)"></div>
<div style="height:4px;background:linear-gradient(90deg,#ff0000 0px,#ff0000 25.5px,#ff0500 26.5px,#ff1900 28.5px,#ff4e00 32.5px,#ff7900 37.5px,#ff9000 41.5px,#ffde00 50.5px,#fffd00 55.5px,#faff00 56.5px,#dfff00 59.5px,#c3ff00 63.5px,#a1ff00 66.5px,#8aff00 70.5px,#7eff00 71.5px,#42ff00 75.5px,#00ff00 76.5px,#00ff00 113.5px,#00ff0b 114.5px,#00ff4f 115.5px,#00ff66 116.5px,#00ff88 120.5px,#00ff9e 126.5px,#00ffa6 127.5px,#00ffd8 130.5px,#00ffe2 131.5px,#00fffe 137.5px,#00fcff 138.5px,#00e7ff 144.5px,#00d2ff 152.5px,#0091ff 182.5px,#0078ff 203.5px,#0060ff 216.5px,#0011ff 250.5px,#0100ff 262.5px,#2000ff 299.5px,#2d00ff 308.5px,#4000ff 315.5px,#6000ff 343.5px,#7800ff 367.5px,#8000f8 383.5px,#9000e0 507.5px,#9800c8 632.5px,#9800b0 745.5px,#900098 906.5px,#8a008c 1279px)"></div>
<div style="height:4px;background:linear-gradient(90deg,#ff0000 0px,#ff0000 25.5px,#ff0300 26.5px,#ff2100 29.5px,#ff4b00 32.5px,#ff7f00 38.5px,#ff8f00 41.5px,#ffdd00 50.5px,#fffc00 55.5px,#fbff00 56.5px,#e0ff00 59.5px,#c5ff00 63.5px,#a3ff00 66.5px,#8bff00 70.5px,#81ff00 71.5px,#45ff00 75.5px,#00ff00 76.5px,#00ff00 114.5px,#00ff36 115.5px,#00ff63 116.5px,#00ff85 120.5px,#00ffa0 127.5px,#00ffe1 131.5px,#00fdff 138.5px,#00e7ff 144.5px,#00d0ff 153.5px,#0091ff 183.5px,#0078ff 204.5px,#005fff 217.5px,#0010ff 251.5px,#0000ff 262.5px,#2000ff 300.5px,#2d00ff 309.5px,#4000ff 316.5px,#6000ff 344.5px,#7800ff 368.5px,#8000f8 384.5px,#9000e0 508.5px,#9800c8 634.5px,#9800b0 748.5px,#900098 910.5px,#8a008c 1279px)"></div>
<div style="height:4px;background:linear-gradient(90deg,#ff0000 0px,#ff0100 26.5px,#ff1f00 29.5px,#ff4900 32.5px,#ff7d00 38.5px,#ff9600 42.5px,#ffdb00 50.5px,#fffb00 55.5px,#fcff00 56.5px,#e1ff00 59.5px,#c7ff00 63.5px,#9dff00 67.5px,#84ff00 71.5px,#48ff00 75.5px,#00ff00 76.5px,#00ff00 114.5px,#00ff1d 115.5px,#00ff60 116.5px,#00ff89 121.5px,#00ff9f 127.5px,#00ffab 128.5px,#00ffde 131.5px,#00feff 138.5px,#00e8ff 144.5px,#00d1ff 153.5px,#0092ff 183.5px,#0079ff 204.5px,#0060ff 217.5px,#0011ff 251.5px,#0100ff 263.5px,#2000ff 301.5px,#2d00ff 310.5px,#4000ff 317.5px,#6000ff 345.5px,#7800ff 369.5px,#8000f8 385.5px,#9000e0 509.5px,#9800c8 636.5px,#9800b0 751.5px,#900098 915.5px,#8a008c 1279px)"></div>
<div style="height:4px;background:linear-gradient(90deg,#ff0000 0px,#ff0000 26.5px,#ff1c00 29.5px,#ff4600 32.5px,#ff7b00 38.5px,#ff9400 42.5px,#ffda00 50.5px,#fdff00 56.5px,#e3ff00 59.5px,#c8ff00 63.5px,#9eff00 67.5px,#87ff00 71.5px,#4cff00 75.5px,#1dff00 76.5px,#00ff00 77.5px,#00ff00 114.5px,#00ff04 115.5px,#00ff48 116.5px,#00ff65 117.5px,#00ff87 121.5px,#00ff9d 127.5px,#00ffa5 128.5px,#00ffd8 131.5px,#00ffe2 132.5px,#00ffff 138.5px,#00fcff 139.5px,#00e9ff 144.5px,#00d1ff 153.5px,#0091ff 184.5px,#0078ff 205.5px,#005fff 218.5px,#0010ff 252.5px,#0000ff 263.5px,#2000ff 302.5px,#2d00ff 311.5px,#4000ff 318.5px,#6000ff 346.5px,#7800ff 370.5px,#8000f8 386.5px,#9000e0 510.5px,#9800c8 638.5px,#9800b0 754.5px,#900098 919.5px,#8a008c 1279px)"></div>
<div style="height:4px;background:linear-gradient(90deg,#ff0000 0px,#ff0000 26.5px,#ff1a00 29.5px,#ff4d00 33.5px,#ff8100 39.5px,#ff9200 42.5px,#ffe000 51.5px,#feff00 56.5px,#e4ff00 59.5px,#c9ff00 63.5px,#9fff00 67.5px,#89ff00 71.5px,#40ff00 76.5px,#00ff00 77.5px,#00ff00 115.5px,#00ff2f 116.5px,#00ff62 117.5px,#00ff8a 122.5px,#00ffa0 128.5px,#00ffe1 132.5px,#00fdff 139.5px,#00e7ff 145.5px,#00d0ff 154.5px,#0090ff 185.5px,#0079ff 205.5px,#0060ff 218.5px,#0011ff 252.5px,#0000ff 264.5px,#2000ff 303.5px,#2d00ff 312.5px,#4000ff 319.5px,#6100ff 347.5px,#7800ff 371.5px,#8000f8 387.5px,#9000e0 511.5px,#9800c8 639.5px,#9800b0 757.5px,#900098 924.5px,#8a008d 1279px)"></div>
<div style="height:4px;background:linear-gradient(90deg,#ff0000 0px,#ff0000 26.5px,#ff0400 27.5px,#ff2200 30.5px,#ff4b00 33.5px,#ff7f00 39.5px,#ff9100 42.5px,#ffe000 51.5px,#ffff00 56.5px,#ddff00 60.5px,#caff00 63.5px,#a0ff00 67.5px,#8aff00 71.5px,#7eff00 72.5px,#44ff00 76.5px,#00ff00 77.5px,#00ff00 115.5px,#00ff16 116.5px,#00ff5a 117.5px,#00ff68 118.5px,#00ff89 122.5px,#00ff9f 128.5px,#00ffaa 129.5px,#00ffdd 132.5px,#00feff 139.5px,#00e8ff 145.5px,#00c0ff 162.5px,#0090ff 186.5px,#0078ff 206.5px,#005eff 219.5px,#0010ff 253.5px,#0000ff 264.5px,#2000ff 304.5px,#2d00ff 313.5px,#4100ff 320.5px,#6100ff 348.5px,#7800ff 372.5px,#8000f8 388.5px,#9000e0 512.5px,#9800c8 641.5px,#9800b0 760.5px,#900098 928.5px,#8a008d 1279px)"></div>
<div style="height:4px;background:linear-gradient(90deg,#ff0000 0px,#ff0200 27.5px,#ff1f00 30.5px,#ff4900 33.5px,#ff7c00 39.5px,#ff9000 42.5px,#ffdf00 51.5px,#fffe00 56.5px,#f7ff00 57.5px,#deff00 60.5px,#cbff00 63.5px,#a2ff00 67.5px,#8bff00 71.5px,#81ff00 72.5px,#47ff00 76.5px,#00ff00 77.5px,#00ff00 116.5px,#00ff40 117.5px,#00ff65 118.5px,#00ff87 122.5px,#00ff9d 128.5px,#00ffa5 129.5px,#00ffd8 132.5px,#00ffe2 133.5px,#00ffff 139.5px,#00fcff 140.5px,#00e6ff 146.5px,#00c0ff 162.5px,#0090ff 186.5px,#0077ff 207.5px,#005fff 219.5px,#0011ff 253.5px,#0000ff 265.5px,#2000ff 305.5px,#2d00ff 314.5px,#4100ff 321.5px,#7800ff 373.5px,#8000f8 389.5px,#9000e0 513.5px,#9800c8 643.5px,#9800b0 763.5px,#900098 933.5px,#8a008d 1279px)"></div>
<div style="height:4px;background:linear-gradient(90deg,#ff0000 0px,#ff0000 27.5px,#ff1c00 30.5px,#ff4500 33.5px,#ff8200 40.5px,#ff9600 43.5px,#ffdd00 51.5px,#fffd00 56.5px,#f9ff00 57.5px,#e0ff00 60.5px,#c6ff00 64.5px,#a4ff00 67.5px,#85ff00 72.5px,#4bff00 76.5px,#13ff00 77.5px,#00ff00 78.5px,#00ff00 116.5px,#00ff26 117.5px,#00ff61 118.5px,#00ff8a 123.5px,#00ffa0 129.5px,#00ffe1 133.5px,#00fdff 140.5px,#00e7ff 146.5px,#00c1ff 162.5px,#0090ff 187.5px,#0079ff 207.5px,#005fff 220.5px,#0011ff 254.5px,#0100ff 266.5px,#2000ff 306.5px,#2e00ff 315.5px,#4100ff 322.5px,#7700ff 373.5px,#8000f8 389.5px,#9000e0 515.5px,#9800c8 645.5px,#9800b0 768.5px,#900098 938.5px,#8b008d 1279px)"></div>
<div style="height:4px;background:linear-gradient(90deg,#ff0000 0px,#ff0000 27.5px,#ff0600 28.5px,#ff1900 30.5px,#ff4c00 34.5px,#ff8100 40.5px,#ff9400 43.5px,#ffdb00 51.5px,#fffb00 56.5px,#fcff00 57.5px,#e2ff00 60.5px,#c8ff00 64.5px,#9eff00 68.5px,#88ff00 72.5px,#4eff00 76.5px,#3bff00 77.5px,#00ff00 78.5px,#00ff00 116.5px,#00ff0c 117.5px,#00ff50 118.5px,#00ff67 119.5px,#00ff88 123.5px,#00ff9e 129.5px,#00ffa9 130.5px,#00ffdc 133.5px,#00ffe4 134.5px,#00feff 140.5px,#00e6ff 147.5px,#00c0ff 163.5px,#008fff 188.5px,#0078ff 208.5px,#0060ff 220.5px,#0010ff 255.5px,#0100ff 267.5px,#2000ff 307.5px,#2e00ff 316.5px,#4000ff 322.5px,#5f00ff 349.5px,#7800ff 374.5px,#8000f8 390.5px,#9000e0 517.5px,#9800c8 647.5px,#9800b0 772.5px,#900098 943.5px,#8b008d 1279px)"></div>
<div style="height:4px;background:linear-gradient(90deg,#ff0000 0px,#ff0000 27.5px,#ff0300 28.5px,#ff2000 31.5px,#ff4a00 34.5px,#ff7e00 40.5px,#ff9200 43.5px,#ffe000 52.5px,#feff00 57.5px,#ddff00 61.5px,#caff00 64.5px,#a0ff00 68.5px,#8aff00 72.5px,#7eff00 73.5px,#43ff00 77.5px,#00ff00 78.5px,#00ff00 117.5px,#00ff36 118.5px,#00ff63 119.5px,#00ff85 123.5px,#00ffa2 130.5px,#00ffd5 133.5px,#00ffe2 134.5px,#00fffe 140.5px,#00fcff 141.5px,#00e7ff 147.5px,#00c1ff 163.5px,#0090ff 188.5px,#0077ff 209.5px,#0010ff 256.5px,#0000ff 267.5px,#1f00ff 307.5px,#2f00ff 317.5px,#4000ff 323.5px,#6000ff 350.5px,#7800ff 374.5px,#8000f8 390.5px,#9000e0 520.5px,#9800c8 649.5px,#9800b0 777.5px,#900098 949.5px,#8b008e 1279px)"></div>
<div style="height:4px;background:linear-gradient(90deg,#ff0000 0px,#ff0000 28.5px,#ff1d00 31.5px,#ff4700 34.5px,#ff7c00 40.5px,#ff9000 43.5px,#ffde00 52.5px,#fffe00 57.5px,#f8ff00 58.5px,#dfff00 61.5px,#c3ff00 65.5px,#a2ff00 68.5px,#8bff00 72.5px,#81ff00 73.5px,#47ff00 77.5px,#00ff00 78.5px,#00ff00 117.5px,#00ff1c 118.5px,#00ff60 119.5px,#00ff89 124.5px,#00ff9f 130.5px,#00ffad 131.5px,#00ffe0 134.5px,#00feff 141.5px,#00e8ff 147.5px,#00c0ff 164.5px,#008fff 189.5px,#0079ff 209.5px,#0010ff 257.5px,#0000ff 268.5px,#2000ff 308.5px,#2d00ff 317.5px,#4000ff 324.5px,#5f00ff 350.5px,#7800ff 375.5px,#8000f8 390.5px,#9000e0 522.5px,#9800c8 651.5px,#9800b0 781.5px,#900098 954.5px,#8b008e 1279px)"></div>
<div style="height:4px;background:linear-gradient(90deg,#ff0000 0px,#ff0000 28.5px,#ff1a00 31.5px,#ff4d00 35.5px,#ff8200 41.5px,#ff9700 44.5px,#ffdd00 52.5px,#fffc00 57.5px,#fbff00 58.5px,#e1ff00 61.5px,#c6ff00 65.5px,#9dff00 69.5px,#85ff00 73.5px,#4aff00 77.5px,#0dff00 78.5px,#00ff00 79.5px,#00ff02 118.5px,#00ff46 119.5px,#00ff65 120.5px,#00ff87 124.5px,#00ff9e 130.5px,#00ffa6 131.5px,#00ffd9 134.5px,#00ffe3 135.5px,#00ffff 141.5px,#00e6ff 148.5px,#00c1ff 164.5px,#0090ff 189.5px,#0078ff 210.5px,#0010ff 258.5px,#0000ff 269.5px,#2000ff 309.5px,#2e00ff 318.5px,#4100ff 325.5px,#5f00ff 351.5px,#7800ff 375.5px,#8000f8 390.5px,#9000e0 524.5px,#9800c8 653.5px,#9800b0 786.5px,#900098 960.5px,#8b008e 1279px)"></div>
<div style="height:4px;background:linear-gradient(90deg,#ff0000 0px,#ff0000 28.5px,#ff0300 29.5px,#ff2200 32.5px,#ff4b00 35.5px,#ff8100 41.5px,#ff9500 44.5px,#ffda00 52.5px,#fdff00 58.5px,#e3ff00 61.5px,#c9ff00 65.5px,#9eff00 69.5px,#88ff00 73.5px,#4eff00 77.5px,#36ff00 78.5px,#00ff00 79.5px,#00ff00 118.5px,#00ff2c 119.5px,#00ff62 120.5px,#00ff8a 125.5px,#00ffa0 131.5px,#00ffe1 135.5px,#00fffd 141.5px,#00fdff 142.5px,#00e7ff 148.5px,#00c0ff 165.5px,#0090ff 190.5px,#0077ff 211.5px,#0012ff 258.5px,#0000ff 270.5px,#2000ff 310.5px,#2e00ff 319.5px,#4100ff 326.5px,#6000ff 352.5px,#7800ff 375.5px,#8000f8 391.5px,#9000e0 526.5px,#9800c8 655.5px,#9800b0 790.5px,#900098 965.5px,#8b008e 1279px)"></div>
<div style="height:4px;background:linear-gradient(90deg,#ff0000 0px,#ff0000 29.5px,#ff1e00 32.5px,#ff4900 35.5px,#ff7f00 41.5px,#ff9300 44.5px,#ffe000 53.5px,#ffff00 58.5px,#f7ff00 59.5px,#deff00 62.5px,#cbff00 65.5px,#a0ff00 69.5px,#8aff00 73.5px,#7eff00 74.5px,#43ff00 78.5px,#00ff00 79.5px,#00ff00 118.5px,#00ff11 119.5px,#00ff55 120.5px,#00ff67 121.5px,#00ff89 125.5px,#00ff9e 131.5px,#00ffaa 132.5px,#00ffdd 135.5px,#00feff 142.5px,#00e6ff 149.5px,#00c1ff 165.5px,#0091ff 190.5px,#0079ff 211.5px,#0034ff 244.5px,#0011ff 259.5px,#0000ff 271.5px,#1f00ff 310.5px,#2f00ff 320.5px,#3f00ff 326.5px,#5f00ff 352.5px,#7700ff 375.5px,#8000f8 391.5px,#9000e0 528.5px,#9800c8 656.5px,#9800b0 795.5px,#900098 971.5px,#8b008f 1279px)"></div>
<div style="height:4px;background:linear-gradient(90deg,#ff0000 0px,#ff0000 29.5px,#ff1b00 32.5px,#ff4500 35.5px,#ff7c00 41.5px,#ff9100 44.5px,#ffde00 53.5px,#fffd00 58.5px,#f9ff00 59.5px,#dfff00 62.5px,#c4ff00 66.5px,#a3ff00 69.5px,#8bff00 73.5px,#81ff00 74.5px,#46ff00 78.5px,#00ff00 79.5px,#00ff00 119.5px,#00ff3b 120.5px,#00ff64 121.5px,#00ff86 125.5px,#00ffa3 132.5px,#00ffd6 135.5px,#00ffe2 136.5px,#00fffe 142.5px,#00fcff 143.5px,#00e7ff 149.5px,#00c0ff 166.5px,#0090ff 191.5px,#0078ff 212.5px,#0034ff 245.5px,#0011ff 260.5px,#0000ff 272.5px,#2000ff 311.5px,#2d00ff 320.5px,#4000ff 327.5px,#6000ff 353.5px,#7800ff 376.5px,#8000f8 391.5px,#9000e0 530.5px,#9800c8 658.5px,#9800b0 799.5px,#900098 976.5px,#8c008f 1279px)"></div>
<div style="height:4px;background:linear-gradient(90deg,#ff0000 0px,#ff0000 29.5px,#ff0400 30.5px,#ff2300 33.5px,#ff4d00 36.5px,#ff8300 42.5px,#ff9000 44.5px,#ffdc00 53.5px,#fffb00 58.5px,#fcff00 59.5px,#e2ff00 62.5px,#c7ff00 66.5px,#9dff00 70.5px,#85ff00 74.5px,#4aff00 78.5px,#07ff00 79.5px,#00ff00 80.5px,#00ff00 119.5px,#00ff21 120.5px,#00ff61 121.5px,#00ff89 126.5px,#00ff9f 132.5px,#00ffe0 136.5px,#00fdff 143.5px,#00e8ff 149.5px,#00c1ff 166.5px,#008fff 192.5px,#0079ff 212.5px,#0034ff 246.5px,#0011ff 261.5px,#0000ff 273.5px,#2000ff 312.5px,#2e00ff 321.5px,#4000ff 328.5px,#6000ff 354.5px,#7800ff 376.5px,#8000f8 392.5px,#9000e0 532.5px,#9800c8 660.5px,#9800b0 804.5px,#900098 982.5px,#8c008f 1279px)"></div>
<div style="height:4px;background:linear-gradient(90deg,#ff0000 0px,#ff0100 30.5px,#ff1f00 33.5px,#ff4a00 36.5px,#ff8100 42.5px,#ff9600 45.5px,#ffda00 53.5px,#feff00 59.5px,#e4ff00 62.5px,#c9ff00 66.5px,#9fff00 70.5px,#88ff00 74.5px,#4dff00 78.5px,#30ff00 79.5px,#00ff00 80.5px,#00ff00 119.5px,#00ff07 120.5px,#00ff4b 121.5px,#00ff66 122.5px,#00ff88 126.5px,#00ff9e 132.5px,#00ffa7 133.5px,#00ffda 136.5px,#00ffe3 137.5px,#00ffff 143.5px,#00e7ff 150.5px,#00c0ff 167.5px,#0090ff 192.5px,#0079ff 213.5px,#0034ff 247.5px,#0010ff 262.5px,#0000ff 274.5px,#1000ff 296.5px,#2000ff 313.5px,#2e00ff 322.5px,#4000ff 329.5px,#5f00ff 354.5px,#7800ff 376.5px,#8000f8 392.5px,#9000e0 534.5px,#9800c8 662.5px,#9800b0 808.5px,#900098 987.5px,#8c0090 1279px)"></div>
<div style="height:4px;background:linear-gradient(90deg,#ff0000 0px,#ff0000 30.5px,#ff1c00 33.5px,#ff4800 36.5px,#ff7f00 42.5px,#ff9400 45.5px,#ffdf00 54.5px,#fffe00 59.5px,#f8ff00 60.5px,#deff00 63.5px,#cbff00 66.5px,#a0ff00 70.5px,#8aff00 74.5px,#7eff00 75.5px,#42ff00 79.5px,#00ff00 80.5px,#00ff00 120.5px,#00ff63 122.5px,#00ff85 126.5px,#00ffa1 133.5px,#00ffd4 136.5px,#00ffe1 137.5px,#00fffe 143.5px,#00fdff 144.5px,#00e8ff 150.5px,#00c1ff 167.5px,#0090ff 193.5px,#0078ff 214.5px,#0033ff 248.5px,#0010ff 263.5px,#0000ff 275.5px,#1000ff 297.5px,#1f00ff 313.5px,#2d00ff 322.5px,#4100ff 330.5px,#6000ff 355.5px,#7800ff 377.5px,#8000f8 392.5px,#9000e0 536.5px,#9800c8 664.5px,#9800b0 813.5px,#900098 992.5px,#8c0090 1279px)"></div>
<div style="height:4px;background:linear-gradient(90deg,#ff0000 0px,#ff0000 30.5px,#ff0400 31.5px,#ff1900 33.5px,#ff4400 36.5px,#ff7d00 42.5px,#ff9200 45.5px,#ffde00 54.5px,#fffc00 59.5px,#faff00 60.5px,#e0ff00 63.5px,#c5ff00 67.5px,#a3ff00 70.5px,#8bff00 74.5px,#81ff00 75.5px,#46ff00 79.5px,#00ff00 80.5px,#00ff00 120.5px,#00ff16 121.5px,#00ff5b 122.5px,#00ff68 123.5px,#00ff89 127.5px,#00ff9f 133.5px,#00ffab 134.5px,#00ffde 137.5px,#00feff 144.5px,#00e6ff 151.5px,#00c0ff 168.5px,#0091ff 193.5px,#0079ff 214.5px,#0033ff 249.5px,#0010ff 264.5px,#0100ff 276.5px,#1000ff 298.5px,#2000ff 314.5px,#2d00ff 323.5px,#4100ff 331.5px,#5f00ff 355.5px,#7800ff 377.5px,#8000f8 392.5px,#9000e0 538.5px,#9800c8 666.5px,#9800b0 817.5px,#900098 998.5px,#8c0090 1279px)"></div>
<div style="height:4px;background:linear-gradient(90deg,#ff0000 0px,#ff0100 31.5px,#ff2100 34.5px,#ff4c00 37.5px,#ff8300 43.5px,#ff9000 45.5px,#ffdc00 54.5px,#fdff00 60.5px,#e3ff00 63.5px,#c8ff00 67.5px,#9dff00 71.5px,#85ff00 75.5px,#49ff00 79.5px,#00ff00 80.5px,#00ff00 121.5px,#00ff40 122.5px,#00ff65 123.5px,#00ff87 127.5px,#00ff9d 133.5px,#00ffa5 134.5px,#00ffd8 137.5px,#00ffe2 138.5px,#00ffff 144.5px,#00fcff 145.5px,#00e7ff 151.5px,#00bfff 169.5px,#0090ff 194.5px,#0079ff 215.5px,#0033ff 250.5px,#0010ff 265.5px,#0100ff 277.5px,#1000ff 299.5px,#2000ff 315.5px,#2e00ff 324.5px,#4000ff 331.5px,#5f00ff 356.5px,#7800ff 377.5px,#8000f8 393.5px,#9000e0 540.5px,#9800c8 668.5px,#9800b0 822.5px,#900098 1003.5px,#8c0090 1279px)"></div>
<div style="height:4px;background:linear-gradient(90deg,#ff0000 0px,#ff0000 31.5px,#ff1d00 34.5px,#ff4900 37.5px,#ff8200 43.5px,#ff8f00 45.5px,#ffe100 55.5px,#ffff00 60.5px,#f7ff00 61.5px,#ddff00 64.5px,#caff00 67.5px,#9fff00 71.5px,#88ff00 75.5px,#4cff00 79.5px,#23ff00 80.5px,#00ff00 81.5px,#00ff00 121.5px,#00ff26 122.5px,#00ff61 123.5px,#00ff8a 128.5px,#00ffa0 134.5px,#00ffe1 138.5px,#00fdff 145.5px,#00e6ff 152.5px,#00c0ff 169.5px,#0091ff 194.5px,#007aff 215.5px,#0033ff 251.5px,#0010ff 266.5px,#0000ff 277.5px,#1000ff 300.5px,#2000ff 316.5px,#2e00ff 325.5px,#4000ff 332.5px,#6000ff 357.5px,#7800ff 378.5px,#8000f8 393.5px,#9000e0 542.5px,#9800c8 669.5px,#9800b0 826.5px,#900098 1009.5px,#8c0090 1279px)"></div>
<div style="height:4px;background:linear-gradient(90deg,#ff0000 0px,#ff0000 31.5px,#ff0500 32.5px,#ff1a00 34.5px,#ff4600 37.5px,#ff8000 43.5px,#ff9500 46.5px,#ffdf00 55.5px,#fffd00 60.5px,#f9ff00 61.5px,#dfff00 64.5px,#c3ff00 68.5px,#a0ff00 71.5px,#89ff00 75.5px,#41ff00 80.5px,#00ff00 81.5px,#00ff00 121.5px,#00ff0c 122.5px,#00ff50 123.5px,#00ff67 124.5px,#00ff88 128.5px,#00ff9e 134.5px,#00ffa9 135.5px,#00ffdc 138.5px,#00ffe4 139.5px,#00feff 145.5px,#00e7ff 152.5px,#00c1ff 169.5px,#0090ff 195.5px,#0079ff 216.5px,#0033ff 252.5px,#0011ff 266.5px,#0000ff 278.5px,#1000ff 301.5px,#1f00ff 316.5px,#2f00ff 326.5px,#4000ff 333.5px,#5f00ff 357.5px,#7800ff 378.5px,#8000f8 393.5px,#9000e0 545.5px,#9800c8 671.5px,#9800b0 831.5px,#900098 1014.5px,#8c0091 1279px)"></div>
<div style="height:4px;background:linear-gradient(90deg,#ff0000 0px,#ff0200 32.5px,#ff2200 35.5px,#ff4200 37.5px,#ff4d00 38.5px,#ff7d00 43.5px,#ffbb00 51.5px,#ffde00 55.5px,#fffb00 60.5px,#fcff00 61.5px,#e1ff00 64.5px,#c5ff00 68.5px,#a3ff00 71.5px,#8bff00 75.5px,#80ff00 76.5px,#44ff00 80.5px,#00ff00 81.5px,#00ff00 122.5px,#00ff36 123.5px,#00ff63 124.5px,#00ff85 128.5px,#00ffa2 135.5px,#00ffd5 138.5px,#00ffe2 139.5px,#00fffe 145.5px,#00fcff 146.5px,#00e8ff 152.5px,#00c0ff 170.5px,#0090ff 196.5px,#0079ff 217.5px,#0032ff 253.5px,#0011ff 267.5px,#0000ff 279.5px,#1000ff 302.5px,#2000ff 317.5px,#2d00ff 326.5px,#4000ff 334.5px,#6000ff 358.5px,#7800ff 378.5px,#8000f8 394.5px,#9000e0 547.5px,#9800c8 673.5px,#9800b0 835.5px,#900098 1020.5px,#8c0091 1279px)"></div>
<div style="height:4px;background:linear-gradient(90deg,#ff0000 0px,#ff0000 32.5px,#ff1f00 35.5px,#ff4b00 38.5px,#ff8400 44.5px,#ffc100 52.5px,#ffdc00 55.5px,#feff00 61.5px,#e3ff00 64.5px,#c8ff00 68.5px,#9dff00 72.5px,#84ff00 76.5px,#47ff00 80.5px,#00ff00 81.5px,#00ff00 122.5px,#00ff1b 123.5px,#00ff60 124.5px,#00ff89 129.5px,#00ff9f 135.5px,#00ffac 136.5px,#00ffe0 139.5px,#00feff 146.5px,#00e7ff 153.5px,#00c1ff 170.5px,#0091ff 196.5px,#007aff 217.5px,#0032ff 254.5px,#0011ff 268.5px,#0000ff 280.5px,#1000ff 303.5px,#2000ff 318.5px,#2e00ff 327.5px,#4100ff 335.5px,#6000ff 359.5px,#7700ff 378.5px,#8000f8 394.5px,#8800ec 481.5px,#9800c8 675.5px,#9800b0 840.5px,#900098 1025.5px,#8d0091 1279px)"></div>
<div style="height:4px;background:linear-gradient(90deg,#ff0000 0px,#ff0000 32.5px,#ff0600 33.5px,#ff1b00 35.5px,#ff4800 38.5px,#ff8200 44.5px,#ffe000 56.5px,#fffe00 61.5px,#f8ff00 62.5px,#deff00 65.5px,#caff00 68.5px,#9fff00 72.5px,#87ff00 76.5px,#4aff00 80.5px,#05ff00 81.5px,#00ff00 82.5px,#00ff01 123.5px,#00ff45 124.5px,#00ff65 125.5px,#00ff87 129.5px,#00ff9e 135.5px,#00ffa6 136.5px,#00ffd9 139.5px,#00ffe3 140.5px,#00ffff 146.5px,#00e8ff 153.5px,#00c0ff 171.5px,#0090ff 197.5px,#0079ff 218.5px,#004eff 239.5px,#0032ff 255.5px,#0011ff 269.5px,#0000ff 281.5px,#1000ff 304.5px,#1f00ff 318.5px,#2e00ff 328.5px,#4100ff 336.5px,#6100ff 360.5px,#7800ff 379.5px,#8000f8 394.5px,#8800ec 482.5px,#9800c8 677.5px,#9800b0 845.5px,#900098 1031.5px,#8d0091 1279px)"></div>
<div style="height:4px;background:linear-gradient(90deg,#ff0000 0px,#ff0200 33.5px,#ff2400 36.5px,#ff4400 38.5px,#ff8000 44.5px,#ffdf00 56.5px,#fffc00 61.5px,#faff00 62.5px,#dfff00 65.5px,#c3ff00 69.5px,#a0ff00 72.5px,#89ff00 76.5px,#4dff00 80.5px,#29ff00 81.5px,#00ff00 82.5px,#00ff00 123.5px,#00ff2b 124.5px,#00ff62 125.5px,#00ff8a 130.5px,#00ffa0 136.5px,#00ffe1 140.5px,#00fffd 146.5px,#00fdff 147.5px,#00e6ff 154.5px,#00c1ff 171.5px,#0091ff 197.5px,#0079ff 219.5px,#004eff 240.5px,#0034ff 255.5px,#0010ff 270.5px,#0000ff 282.5px,#1000ff 305.5px,#1f00ff 319.5px,#2f00ff 329.5px,#4000ff 336.5px,#6000ff 360.5px,#7800ff 379.5px,#8000f8 394.5px,#8800ec 484.5px,#9800c8 679.5px,#9800b0 849.5px,#900098 1036.5px,#8d0092 1279px)"></div>
<div style="height:4px;background:linear-gradient(90deg,#ff0000 0px,#ff0000 33.5px,#ff2000 36.5px,#ff4d00 39.5px,#ff7e00 44.5px,#ffbb00 52.5px,#ffdd00 56.5px,#fdff00 62.5px,#e2ff00 65.5px,#c6ff00 69.5px,#a3ff00 72.5px,#8aff00 76.5px,#7fff00 77.5px,#41ff00 81.5px,#00ff00 82.5px,#00ff00 123.5px,#00ff11 124.5px,#00ff55 125.5px,#00ff67 126.5px,#00ff89 130.5px,#00ff9e 136.5px,#00ffaa 137.5px,#00ffdd 140.5px,#00feff 147.5px,#00e7ff 154.5px,#00c0ff 172.5px,#0090ff 198.5px,#007aff 219.5px,#004dff 241.5px,#0034ff 256.5px,#0010ff 271.5px,#0000ff 283.5px,#1000ff 306.5px,#2000ff 320.5px,#2d00ff 329.5px,#4000ff 337.5px,#7800ff 379.5px,#8000f8 395.5px,#8800ec 486.5px,#9800c8 681.5px,#9800b0 854.5px,#900098 1042.5px,#8d0092 1279px)"></div>
<div style="height:4px;background:linear-gradient(90deg,#ff0000 0px,#ff0000 33.5px,#ff0600 34.5px,#ff1c00 36.5px,#ff4a00 39.5px,#ff8400 45.5px,#ffc100 53.5px,#ffdb00 56.5px,#ffff00 62.5px,#f6ff00 63.5px,#dcff00 66.5px,#c8ff00 69.5px,#9dff00 73.5px,#8cff00 76.5px,#82ff00 77.5px,#44ff00 81.5px,#00ff00 82.5px,#00ff00 124.5px,#00ff3b 125.5px,#00ff64 126.5px,#00ff86 130.5px,#00ffa3 137.5px,#00ffd6 140.5px,#00ffe2 141.5px,#00fffe 147.5px,#00fcff 148.5px,#00e8ff 154.5px,#00c1ff 172.5px,#0090ff 199.5px,#0079ff 220.5px,#004dff 242.5px,#0033ff 257.5px,#0010ff 272.5px,#0000ff 284.5px,#1000ff 307.5px,#2000ff 321.5px,#2e00ff 330.5px,#4000ff 338.5px,#7700ff 379.5px,#8000f8 395.5px,#8800ec 487.5px,#9800c8 683.5px,#9800b0 858.5px,#900098 1047.5px,#8d0092 1279px)"></div>
<div style="height:4px;background:linear-gradient(90deg,#ff0000 0px,#ff0000 33.5px,#ff0300 34.5px,#ff2600 37.5px,#ff4700 39.5px,#ff8200 45.5px,#ffe000 57.5px,#fffd00 62.5px,#f9ff00 63.5px,#deff00 66.5px,#caff00 69.5px,#9eff00 73.5px,#86ff00 77.5px,#48ff00 81.5px,#00ff00 82.5px,#00ff00 124.5px,#00ff21 125.5px,#00ff61 126.5px,#00ff89 131.5px,#00ff9f 137.5px,#00ffe0 141.5px,#00fdff 148.5px,#00e7ff 155.5px,#00c0ff 173.5px,#0090ff 199.5px,#0079ff 221.5px,#004eff 242.5px,#0033ff 258.5px,#0010ff 273.5px,#0000ff 285.5px,#1100ff 309.5px,#2d00ff 330.5px,#4100ff 339.5px,#7700ff 379.5px,#8000f8 395.5px,#8800ec 489.5px,#9800c8 684.5px,#9800b0 863.5px,#900098 1052.5px,#8d0092 1279px)"></div>
<div style="height:4px;background:linear-gradient(90deg,#ff0000 0px,#ff0000 34.5px,#ff2200 37.5px,#ff4300 39.5px,#ff4e00 40.5px,#ff8100 45.5px,#ffdf00 57.5px,#fffb00 62.5px,#fcff00 63.5px,#e0ff00 66.5px,#c3ff00 70.5px,#a0ff00 73.5px,#88ff00 77.5px,#4bff00 81.5px,#0aff00 82.5px,#00ff00 83.5px,#00ff00 124.5px,#00ff06 125.5px,#00ff4b 126.5px,#00ff66 127.5px,#00ff88 131.5px,#00ff9e 137.5px,#00ffa7 138.5px,#00ffda 141.5px,#00ffe3 142.5px,#00ffff 148.5px,#00e8ff 155.5px,#00c1ff 173.5px,#0090ff 200.5px,#007aff 221.5px,#004dff 243.5px,#0033ff 259.5px,#0010ff 274.5px,#0100ff 286.5px,#1100ff 310.5px,#2d00ff 331.5px,#4100ff 340.5px,#7800ff 380.5px,#8000f8 396.5px,#8800ec 491.5px,#9800c8 686.5px,#9800b0 867.5px,#900098 1058.5px,#8d0092 1279px)"></div>
<div style="height:4px;background:linear-gradient(90deg,#ff0000 0px,#ff0000 34.5px,#ff0700 35.5px,#ff1e00 37.5px,#ff4c00 40.5px,#ff7f00 45.5px,#ffdd00 57.5px,#feff00 63.5px,#e3ff00 66.5px,#c6ff00 70.5px,#a2ff00 73.5px,#8aff00 77.5px,#4eff00 81.5px,#30ff00 82.5px,#00ff00 83.5px,#00ff00 125.5px,#00ff63 127.5px,#00ff85 131.5px,#00ffa1 138.5px,#00ffd4 141.5px,#00ffe1 142.5px,#00fffe 148.5px,#00fdff 149.5px,#00e6ff 156.5px,#00c1ff 174.5px,#0091ff 200.5px,#0079ff 222.5px,#004dff 244.5px,#0033ff 260.5px,#0011ff 274.5px,#0000ff 286.5px,#1000ff 310.5px,#2100ff 324.5px,#2d00ff 332.5px,#4100ff 341.5px,#7700ff 380.5px,#8000f8 396.5px,#8800ec 492.5px,#9800c8 688.5px,#9800b0 872.5px,#900098 1064.5px,#8d0093 1279px)"></div>
<div style="height:4px;background:linear-gradient(90deg,#ff0000 0px,#ff0000 34.5px,#ff0300 35.5px,#ff1a00 37.5px,#ff4900 40.5px,#ff8500 46.5px,#ffdb00 57.5px,#fffe00 63.5px,#f8ff00 64.5px,#ddff00 67.5px,#c9ff00 70.5px,#9dff00 74.5px,#8bff00 77.5px,#80ff00 78.5px,#42ff00 82.5px,#00ff00 83.5px,#00ff00 125.5px,#00ff16 126.5px,#00ff5a 127.5px,#00ff68 128.5px,#00ff89 132.5px,#00ff9f 138.5px,#00ffab 139.5px,#00ffde 142.5px,#00feff 149.5px,#00e7ff 156.5px,#00ceff 167.5px,#0090ff 201.5px,#0079ff 223.5px,#004eff 244.5px,#0033ff 261.5px,#0011ff 275.5px,#0000ff 287.5px,#1000ff 311.5px,#2000ff 324.5px,#2e00ff 333.5px,#4000ff 341.5px,#7700ff 380.5px,#8000f8 396.5px,#8800ec 494.5px,#9800c8 690.5px,#9800b0 876.5px,#900098 1069.5px,#8d0093 1279px)"></div>
<div style="height:4px;background:linear-gradient(90deg,#ff0000 0px,#ff0000 35.5px,#ff2300 38.5px,#ff4500 40.5px,#ff8300 46.5px,#ffe000 58.5px,#fffc00 63.5px,#faff00 64.5px,#dfff00 67.5px,#caff00 70.5px,#9eff00 74.5px,#84ff00 78.5px,#45ff00 82.5px,#00ff00 83.5px,#00ff00 126.5px,#00ff40 127.5px,#00ff65 128.5px,#00ff87 132.5px,#00ff9d 138.5px,#00ffa5 139.5px,#00ffd8 142.5px,#00ffe2 143.5px,#00ffff 149.5px,#00fcff 150.5px,#00e6ff 157.5px,#00c1ff 175.5px,#0090ff 202.5px,#007aff 223.5px,#004eff 245.5px,#0033ff 262.5px,#0011ff 276.5px,#0000ff 288.5px,#1000ff 312.5px,#2000ff 325.5px,#2e00ff 334.5px,#4000ff 342.5px,#7800ff 381.5px,#8000f8 396.5px,#8800ec 495.5px,#9800c8 692.5px,#9800b0 881.5px,#900098 1074.5px,#8d0093 1279px)"></div>
<div style="height:4px;background:linear-gradient(90deg,#ff0000 0px,#ff0000 35.5px,#ff0800 36.5px,#ff1f00 38.5px,#ff4100 40.5px,#ff4e00 41.5px,#ff8100 46.5px,#ffde00 58.5px,#fdff00 64.5px,#e1ff00 67.5px,#c3ff00 71.5px,#a0ff00 74.5px,#88ff00 78.5px,#48ff00 82.5px,#00ff00 83.5px,#00ff00 126.5px,#00ff26 127.5px,#00ff61 128.5px,#00ff8a 133.5px,#00ffa0 139.5px,#00ffe1 143.5px,#00fdff 150.5px,#00e7ff 157.5px,#00ceff 168.5px,#0090ff 202.5px,#0079ff 224.5px,#004dff 246.5px,#0032ff 263.5px,#0010ff 277.5px,#0000ff 289.5px,#1000ff 313.5px,#2100ff 326.5px,#2f00ff 335.5px,#4000ff 343.5px,#7700ff 381.5px,#8000f8 397.5px,#8800ec 497.5px,#9800c8 694.5px,#9800b0 885.5px,#900098 1080.5px,#8e0093 1279px)"></div>
<div style="height:4px;background:linear-gradient(90deg,#ff0000 0px,#ff0000 35.5px,#ff0400 36.5px,#ff1c00 38.5px,#ff4b00 41.5px,#ff7f00 46.5px,#ffdd00 58.5px,#ffff00 64.5px,#f6ff00 65.5px,#e3ff00 67.5px,#c6ff00 71.5px,#a2ff00 74.5px,#89ff00 78.5px,#4cff00 82.5px,#10ff00 83.5px,#00ff00 84.5px,#00ff00 126.5px,#00ff0b 127.5px,#00ff50 128.5px,#00ff66 129.5px,#00ff88 133.5px,#00ff9e 139.5px,#00ffa8 140.5px,#00ffdc 143.5px,#00ffe3 144.5px,#00feff 150.5px,#00e8ff 157.5px,#00cfff 168.5px,#0090ff 203.5px,#0081ff 220.5px,#0079ff 225.5px,#004dff 247.5px,#0032ff 264.5px,#0010ff 278.5px,#0000ff 290.5px,#1000ff 314.5px,#2100ff 327.5px,#4100ff 344.5px,#7700ff 381.5px,#8000f8 397.5px,#8800ec 499.5px,#9800c8 696.5px,#9800b0 890.5px,#900098 1086.5px,#8e0093 1279px)"></div>
<div style="height:4px;background:linear-gradient(90deg,#ff0000 0px,#ff0000 36.5px,#ff2600 39.5px,#ff4900 41.5px,#ff7e00 46.5px,#ffda00 58.5px,#fffd00 64.5px,#f9ff00 65.5px,#ddff00 68.5px,#c9ff00 71.5px,#a5ff00 74.5px,#8bff00 78.5px,#7fff00 79.5px,#4fff00 82.5px,#36ff00 83.5px,#00ff00 84.5px,#00ff00 127.5px,#00ff35 128.5px,#00ff63 129.5px,#00ff85 133.5px,#00ffa2 140.5px,#00ffd5 143.5px,#00ffe2 144.5px,#00fffe 150.5px,#00fdff 151.5px,#00e7ff 158.5px,#00d0ff 168.5px,#0091ff 203.5px,#007fff 222.5px,#004eff 247.5px,#0034ff 264.5px,#0010ff 279.5px,#0000ff 291.5px,#1000ff 315.5px,#2100ff 328.5px,#4100ff 345.5px,#7800ff 382.5px,#8000f8 397.5px,#8800ec 500.5px,#9800c8 698.5px,#9800b0 894.5px,#900098 1092.5px,#8e0093 1279px)"></div>
<div style="height:4px;background:linear-gradient(90deg,#ff0000 0px,#ff0000 36.5px,#ff0900 37.5px,#ff2200 39.5px,#ff4600 41.5px,#ff7c00 46.5px,#ffdf00 59.5px,#fffc00 64.5px,#fbff00 65.5px,#dfff00 68.5px,#cbff00 71.5px,#9eff00 75.5px,#8cff00 78.5px,#82ff00 79.5px,#42ff00 83.5px,#00ff00 84.5px,#00ff00 127.5px,#00ff1b 128.5px,#00ff5f 129.5px,#00ff89 134.5px,#00ff9f 140.5px,#00ffac 141.5px,#00ffdf 144.5px,#00feff 151.5px,#00e8ff 158.5px,#00cfff 169.5px,#0090ff 204.5px,#0080ff 222.5px,#004dff 248.5px,#0034ff 265.5px,#0010ff 280.5px,#0000ff 292.5px,#1000ff 316.5px,#2d00ff 336.5px,#4000ff 345.5px,#7800ff 382.5px,#8000f8 398.5px,#8800ec 502.5px,#9800c8 700.5px,#9800b0 899.5px,#900098 1099.5px,#8e0094 1279px)"></div>
<div style="height:4px;background:linear-gradient(90deg,#ff0000 0px,#ff0000 36.5px,#ff0500 37.5px,#ff1e00 39.5px,#ff4200 41.5px,#ff4f00 42.5px,#ff8300 47.5px,#ffde00 59.5px,#feff00 65.5px,#e2ff00 68.5px,#c3ff00 72.5px,#9fff00 75.5px,#86ff00 79.5px,#46ff00 83.5px,#00ff00 84.5px,#00ff01 128.5px,#00ff45 129.5px,#00ff65 130.5px,#00ff87 134.5px,#00ff9e 140.5px,#00ffa6 141.5px,#00ffd9 144.5px,#00ffe3 145.5px,#00ffff 151.5px,#00e9ff 158.5px,#00d0ff 169.5px,#0091ff 204.5px,#007fff 223.5px,#004dff 249.5px,#0033ff 266.5px,#0010ff 281.5px,#0000ff 293.5px,#1000ff 317.5px,#2d00ff 337.5px,#4000ff 346.5px,#7700ff 382.5px,#8000f8 398.5px,#8800ec 503.5px,#9800c8 701.5px,#9800b0 903.5px,#900098 1106.5px,#8e0094 1279px)"></div>
<div style="height:4px;background:linear-gradient(90deg,#ff0000 0px,#ff0100 37.5px,#ff1b00 39.5px,#ff4d00 42.5px,#ff8200 47.5px,#ffbb00 55.5px,#ffdc00 59.5px,#fffe00 65.5px,#f7ff00 66.5px,#dcff00 69.5px,#c7ff00 72.5px,#a2ff00 75.5px,#89ff00 79.5px,#49ff00 83.5px,#00ff00 84.5px,#00ff00 128.5px,#00ff2b 129.5px,#00ff62 130.5px,#00ff8a 135.5px,#00ffa0 141.5px,#00ffe1 145.5px,#00fffd 151.5px,#00fdff 152.5px,#00e7ff 159.5px,#00d1ff 169.5px,#0090ff 205.5px,#007fff 224.5px,#004eff 249.5px,#0033ff 267.5px,#000fff 282.5px,#0000ff 294.5px,#1000ff 318.5px,#2e00ff 338.5px,#4000ff 347.5px,#7800ff 383.5px,#8000f8 398.5px,#8800ec 505.5px,#9800c8 703.5px,#9800b0 908.5px,#900098 1112.5px,#8e0094 1279px)"></div>
<div style="height:4px;background:linear-gradient(90deg,#ff0000 0px,#ff0000 37.5px,#ff1700 39.5px,#ff4b00 42.5px,#ff8100 47.5px,#ff9400 50.5px,#ffda00 59.5px,#fffc00 65.5px,#faff00 66.5px,#deff00 69.5px,#c9ff00 72.5px,#a5ff00 75.5px,#8aff00 79.5px,#7dff00 80.5px,#4dff00 83.5px,#16ff00 84.5px,#00ff00 85.5px,#00ff00 128.5px,#00ff11 129.5px,#00ff55 130.5px,#00ff67 131.5px,#00ff89 135.5px,#00ff9e 141.5px,#00ffaa 142.5px,#00ffdd 145.5px,#00feff 152.5px,#00e8ff 159.5px,#00d0ff 170.5px,#0091ff 205.5px,#0080ff 224.5px,#004eff 250.5px,#0033ff 268.5px,#0011ff 282.5px,#0000ff 295.5px,#1000ff 319.5px,#2e00ff 339.5px,#4000ff 348.5px,#7800ff 383.5px,#8000f8 398.5px,#8800ec 507.5px,#9800c8 705.5px,#9800b0 913.5px,#900098 1119.5px,#8e0094 1279px)"></div>
<div style="height:4px;background:linear-gradient(90deg,#ff0000 0px,#ff0000 37.5px,#ff0600 38.5px,#ff2200 40.5px,#ff4900 42.5px,#ff8000 47.5px,#ff9300 50.5px,#ffdf00 60.5px,#fdff00 66.5px,#e0ff00 69.5px,#cbff00 72.5px,#9eff00 76.5px,#8bff00 79.5px,#81ff00 80.5px,#3dff00 84.5px,#00ff00 85.5px,#00ff00 129.5px,#00ff3b 130.5px,#00ff64 131.5px,#00ff86 135.5px,#00ffa3 142.5px,#00ffd6 145.5px,#00ffe2 146.5px,#00fffe 152.5px,#00fcff 153.5px,#00e7ff 160.5px,#00d1ff 170.5px,#0091ff 206.5px,#0080ff 225.5px,#004dff 251.5px,#0033ff 269.5px,#0011ff 283.5px,#0100ff 296.5px,#1000ff 320.5px,#7700ff 383.5px,#8000f8 399.5px,#8800ec 508.5px,#9800c8 707.5px,#9800b0 917.5px,#900098 1126.5px,#8e0094 1279px)"></div>
<div style="height:4px;background:linear-gradient(90deg,#ff0000 0px,#ff0200 38.5px,#ff1e00 40.5px,#ff4500 42.5px,#ff7f00 47.5px,#ff9100 50.5px,#ffde00 60.5px,#ffff00 66.5px,#f6ff00 67.5px,#e3ff00 69.5px,#c4ff00 73.5px,#9fff00 76.5px,#84ff00 80.5px,#43ff00 84.5px,#00ff00 85.5px,#00ff00 129.5px,#00ff20 130.5px,#00ff61 131.5px,#00ff89 136.5px,#00ff9f 142.5px,#00ffe0 146.5px,#00feff 153.5px,#00e8ff 160.5px,#00d0ff 171.5px,#0090ff 207.5px,#007fff 226.5px,#0065ff 238.5px,#004dff 252.5px,#0033ff 270.5px,#0010ff 284.5px,#0000ff 296.5px,#1000ff 321.5px,#7700ff 383.5px,#8000f8 399.5px,#8800ec 510.5px,#9800c8 709.5px,#9800b0 922.5px,#900098 1132.5px,#8e0094 1279px)"></div>
<div style="height:4px;background:linear-gradient(90deg,#ff0000 0px,#ff0000 38.5px,#ff1a00 40.5px,#ff4100 42.5px,#ff5000 43.5px,#ff7d00 47.5px,#ff9000 50.5px,#ffdc00 60.5px,#fffd00 66.5px,#f8ff00 67.5px,#ddff00 70.5px,#c7ff00 73.5px,#a2ff00 76.5px,#88ff00 80.5px,#47ff00 84.5px,#00ff00 85.5px,#00ff00 129.5px,#00ff06 130.5px,#00ff4a 131.5px,#00ff66 132.5px,#00ff88 136.5px,#00ff9e 142.5px,#00ffa7 143.5px,#00ffda 146.5px,#00ffe3 147.5px,#00ffff 153.5px,#00e9ff 160.5px,#00cfff 172.5px,#0091ff 207.5px,#007fff 227.5px,#004eff 252.5px,#0033ff 271.5px,#0010ff 285.5px,#0000ff 297.5px,#1000ff 322.5px,#7800ff 384.5px,#8000f8 399.5px,#8800ec 511.5px,#9800c8 711.5px,#9800b0 926.5px,#900098 1139.5px,#8e0094 1279px)"></div>
<div style="height:4px;background:linear-gradient(90deg,#ff0000 0px,#ff0000 38.5px,#ff0700 39.5px,#ff1600 40.5px,#ff4e00 43.5px,#ff7c00 47.5px,#ff9500 51.5px,#ffda00 60.5px,#fffc00 66.5px,#fbff00 67.5px,#dfff00 70.5px,#c9ff00 73.5px,#a5ff00 76.5px,#89ff00 80.5px,#4aff00 84.5px,#00ff00 85.5px,#00ff00 130.5px,#00ff63 132.5px,#00ff85 136.5px,#00ffa1 143.5px,#00ffd4 146.5px,#00ffe1 147.5px,#00fffe 153.5px,#00fdff 154.5px,#00e8ff 161.5px,#00cfff 172.5px,#0090ff 208.5px,#0080ff 227.5px,#0066ff 239.5px,#004dff 253.5px,#0032ff 272.5px,#0010ff 286.5px,#0000ff 298.5px,#1000ff 323.5px,#7700ff 384.5px,#8000f8 400.5px,#8800ec 513.5px,#9800c8 713.5px,#9800b0 931.5px,#900098 1146.5px,#8e0095 1279px)"></div>
<div style="height:4px;background:linear-gradient(90deg,#ff0000 0px,#ff0000 38.5px,#ff0300 39.5px,#ff2100 41.5px,#ff4b00 43.5px,#ff7100 46.5px,#ff7b00 47.5px,#ff9400 51.5px,#ffdf00 61.5px,#feff00 67.5px,#e1ff00 70.5px,#cbff00 73.5px,#9eff00 77.5px,#8bff00 80.5px,#7fff00 81.5px,#4dff00 84.5px,#1dff00 85.5px,#00ff00 86.5px,#00ff00 130.5px,#00ff16 131.5px,#00ff5a 132.5px,#00ff68 133.5px,#00ff89 137.5px,#00ff9f 143.5px,#00ffab 144.5px,#00ffde 147.5px,#00feff 154.5px,#00e9ff 161.5px,#00cfff 173.5px,#0090ff 209.5px,#007fff 228.5px,#0065ff 240.5px,#004dff 254.5px,#0032ff 273.5px,#0010ff 287.5px,#0000ff 299.5px,#1000ff 324.5px,#7700ff 385.5px,#8000f8 401.5px,#8800ec 515.5px,#9800c8 716.5px,#9800b0 935.5px,#900098 1152.5px,#8e0095 1279px)"></div>
<div style="height:4px;background:linear-gradient(90deg,#ff0000 0px,#ff0000 39.5px,#ff1d00 41.5px,#ff4900 43.5px,#ff7000 46.5px,#ff7900 47.5px,#ff9200 51.5px,#ffdd00 61.5px,#fffe00 67.5px,#f7ff00 68.5px,#e3ff00 70.5px,#c4ff00 74.5px,#9fff00 77.5px,#83ff00 81.5px,#40ff00 85.5px,#00ff00 86.5px,#00ff00 131.5px,#00ff40 132.5px,#00ff64 133.5px,#00ff87 137.5px,#00ff9d 143.5px,#00ffa4 144.5px,#00ffd8 147.5px,#00ffe2 148.5px,#00ffff 154.5px,#00fcff 155.5px,#00e7ff 162.5px,#00cfff 173.5px,#0091ff 209.5px,#0080ff 228.5px,#004dff 255.5px,#0032ff 274.5px,#0010ff 288.5px,#0000ff 301.5px,#1100ff 326.5px,#7800ff 389.5px,#8000f8 405.5px,#9000e0 596.5px,#9800c8 721.5px,#9800b0 940.5px,#900098 1159.5px,#8e0095 1279px)"></div>
<div style="height:4px;background:linear-gradient(90deg,#ff0000 0px,#ff0000 39.5px,#ff0900 40.5px,#ff1900 41.5px,#ff4400 43.5px,#ff5300 44.5px,#ff6f00 46.5px,#ff7800 47.5px,#ff9000 51.5px,#ffdc00 61.5px,#fffc00 67.5px,#faff00 68.5px,#ddff00 71.5px,#c7ff00 74.5px,#a1ff00 77.5px,#87ff00 81.5px,#44ff00 85.5px,#00ff00 86.5px,#00ff00 131.5px,#00ff25 132.5px,#00ff61 133.5px,#00ff8a 138.5px,#00ffa0 144.5px,#00ffe1 148.5px,#00fdff 155.5px,#00e8ff 162.5px,#00d0ff 173.5px,#0090ff 210.5px,#007fff 229.5px,#004eff 255.5px,#0032ff 275.5px,#0010ff 289.5px,#0000ff 302.5px,#1000ff 327.5px,#7800ff 392.5px,#8000f8 408.5px,#9000e0 600.5px,#9800c8 726.5px,#9800b0 945.5px,#900098 1166.5px,#8f0095 1279px)"></div>
<div style="height:4px;background:linear-gradient(90deg,#ff0000 0px,#ff0000 39.5px,#ff0700 40.5px,#ff1700 41.5px,#ff4100 43.5px,#ff5200 44.5px,#ff6d00 46.5px,#ff8000 48.5px,#ff9000 51.5px,#ffdb00 61.5px,#fffc00 67.5px,#fbff00 68.5px,#deff00 71.5px,#c8ff00 74.5px,#a3ff00 77.5px,#89ff00 81.5px,#47ff00 85.5px,#00ff00 86.5px,#00ff00 131.5px,#00ff12 132.5px,#00ff56 133.5px,#00ff67 134.5px,#00ff88 138.5px,#00ff9e 144.5px,#00ffa9 145.5px,#00ffdc 148.5px,#00ffe4 149.5px,#00ffff 155.5px,#00e7ff 163.5px,#00d1ff 173.5px,#0091ff 210.5px,#007fff 230.5px,#004eff 256.5px,#0032ff 276.5px,#0011ff 290.5px,#0000ff 304.5px,#1100ff 329.5px,#7700ff 395.5px,#8000f8 412.5px,#9000e0 603.5px,#9800c8 731.5px,#9800b0 950.5px,#900098 1172.5px,#8f0095 1279px)"></div>
<div style="height:4px;background:linear-gradient(90deg,#ff0000 0px,#ff0000 39.5px,#ff0500 40.5px,#ff1500 41.5px,#ff5000 44.5px,#ff6c00 46.5px,#ff7f00 48.5px,#ff8f00 51.5px,#ffda00 61.5px,#fffc00 67.5px,#fbff00 68.5px,#dfff00 71.5px,#c9ff00 74.5px,#a5ff00 77.5px,#89ff00 81.5px,#4aff00 85.5px,#00ff00 86.5px,#00ff00 132.5px,#00ff43 133.5px,#00ff65 134.5px,#00ff87 138.5px,#00ffa3 145.5px,#00ffd6 148.5px,#00ffe2 149.5px,#00fffe 155.5px,#00fdff 156.5px,#00e8ff 163.5px,#00d0ff 174.5px,#0090ff 211.5px,#0079ff 234.5px,#0066ff 243.5px,#004eff 257.5px,#0032ff 277.5px,#0011ff 291.5px,#0000ff 305.5px,#1000ff 330.5px,#7700ff 398.5px,#8000f8 415.5px,#9000e0 607.5px,#9800c8 736.5px,#9800b0 955.5px,#900098 1179.5px,#8f0095 1279px)"></div>
<div style="height:4px;background:linear-gradient(90deg,#ff0000 0px,#ff0000 39.5px,#ff0300 40.5px,#ff2500 42.5px,#ff4f00 44.5px,#ff7500 47.5px,#ff9600 52.5px,#ffda00 61.5px,#fffb00 67.5px,#fcff00 68.5px,#dfff00 71.5px,#caff00 74.5px,#9dff00 78.5px,#8aff00 81.5px,#7eff00 82.5px,#4dff00 85.5px,#1dff00 86.5px,#00ff00 87.5px,#00ff00 132.5px,#00ff63 134.5px,#00ff8a 139.5px,#00ffa0 145.5px,#00ffe0 149.5px,#00feff 156.5px,#00e9ff 163.5px,#00d1ff 174.5px,#0091ff 211.5px,#0079ff 235.5px,#0065ff 244.5px,#004eff 258.5px,#0032ff 278.5px,#0011ff 292.5px,#0000ff 307.5px,#1000ff 331.5px,#2d00ff 353.5px,#7800ff 402.5px,#8000f8 419.5px,#9000e0 610.5px,#9800c8 741.5px,#9800b0 960.5px,#900098 1186.5px,#8f0096 1279px)"></div>
<div style="height:4px;background:linear-gradient(90deg,#ff0000 0px,#ff0100 40.5px,#ff2200 42.5px,#ff4d00 44.5px,#ff7400 47.5px,#ff9500 52.5px,#ffe000 62.5px,#fcff00 68.5px,#e0ff00 71.5px,#cbff00 74.5px,#9eff00 78.5px,#8bff00 81.5px,#81ff00 82.5px,#40ff00 86.5px,#00ff00 87.5px,#00ff00 132.5px,#00ff1f 133.5px,#00ff60 134.5px,#00ff89 139.5px,#00ff9e 145.5px,#00ffa9 146.5px,#00ffdb 149.5px,#00ffe3 150.5px,#00ffff 156.5px,#00e7ff 164.5px,#00cfff 175.5px,#0091ff 212.5px,#0078ff 236.5px,#0067ff 244.5px,#004dff 259.5px,#0032ff 279.5px,#000fff 294.5px,#0000ff 308.5px,#1000ff 333.5px,#2d00ff 355.5px,#7800ff 405.5px,#8000f8 422.5px,#9000e0 614.5px,#9800c8 746.5px,#9800b0 965.5px,#900098 1192.5px,#8f0096 1279px)"></div>
<div style="height:4px;background:linear-gradient(90deg,#ff0000 0px,#ff0000 40.5px,#ff2000 42.5px,#ff4c00 44.5px,#ff7300 47.5px,#ff8300 49.5px,#ff9400 52.5px,#ffe000 62.5px,#fdff00 68.5px,#e0ff00 71.5px,#cbff00 74.5px,#9eff00 78.5px,#83ff00 82.5px,#43ff00 86.5px,#00ff00 87.5px,#00ff00 132.5px,#00ff0d 133.5px,#00ff50 134.5px,#00ff66 135.5px,#00ff87 139.5px,#00ffa3 146.5px,#00ffd5 149.5px,#00ffe2 150.5px,#00fdff 157.5px,#00e8ff 164.5px,#00d0ff 175.5px,#0090ff 213.5px,#0079ff 236.5px,#004dff 260.5px,#0034ff 279.5px,#0010ff 295.5px,#0000ff 310.5px,#1100ff 335.5px,#2d00ff 357.5px,#7800ff 408.5px,#8000f8 426.5px,#9000e0 617.5px,#9800c8 751.5px,#9800b0 970.5px,#900098 1199.5px,#8f0096 1279px)"></div>
<div style="height:4px;background:linear-gradient(90deg,#ff0000 0px,#ff0000 40.5px,#ff1e00 42.5px,#ff4a00 44.5px,#ff7200 47.5px,#ff8300 49.5px,#ff9400 52.5px,#ffdf00 62.5px,#fdff00 68.5px,#e1ff00 71.5px,#c3ff00 75.5px,#9fff00 78.5px,#86ff00 82.5px,#46ff00 86.5px,#00ff00 87.5px,#00ff00 133.5px,#00ff3e 134.5px,#00ff64 135.5px,#00ff85 139.5px,#00ff9f 146.5px,#00ffe0 150.5px,#00feff 157.5px,#00e9ff 164.5px,#00d1ff 175.5px,#0091ff 213.5px,#0079ff 237.5px,#004dff 261.5px,#0034ff 280.5px,#0010ff 296.5px,#0000ff 311.5px,#1000ff 336.5px,#2d00ff 359.5px,#7700ff 411.5px,#8000f8 429.5px,#9000e0 621.5px,#9800c8 756.5px,#9800b0 975.5px,#900098 1206.5px,#8f0096 1279px)"></div>
<div style="height:4px;background:linear-gradient(90deg,#ff0000 0px,#ff0000 40.5px,#ff1c00 42.5px,#ff4900 44.5px,#ff7100 47.5px,#ff7a00 48.5px,#ff9300 52.5px,#ffdf00 62.5px,#feff00 68.5px,#e2ff00 71.5px,#c4ff00 75.5px,#a0ff00 78.5px,#88ff00 82.5px,#49ff00 86.5px,#00ff00 87.5px,#00ff00 133.5px,#00ff2c 134.5px,#00ff62 135.5px,#00ff89 140.5px,#00ff9e 146.5px,#00ffa9 147.5px,#00ffda 150.5px,#00ffe3 151.5px,#00fffe 157.5px,#00fdff 158.5px,#00e7ff 165.5px,#00d0ff 176.5px,#0090ff 214.5px,#0079ff 238.5px,#0066ff 247.5px,#004dff 262.5px,#0034ff 281.5px,#0010ff 297.5px,#0000ff 313.5px,#1000ff 337.5px,#2d00ff 361.5px,#7800ff 415.5px,#8000f8 433.5px,#9000e0 625.5px,#9800c8 761.5px,#9800b0 980.5px,#900098 1212.5px,#8f0096 1279px)"></div>
<div style="height:4px;background:linear-gradient(90deg,#ff0000 0px,#ff0000 40.5px,#ff0a00 41.5px,#ff1a00 42.5px,#ff4700 44.5px,#ff7000 47.5px,#ff7900 48.5px,#ff9200 52.5px,#ffde00 62.5px,#feff00 68.5px,#e2ff00 71.5px,#c5ff00 75.5px,#a2ff00 78.5px,#89ff00 82.5px,#4cff00 86.5px,#15ff00 87.5px,#00ff00 88.5px,#00ff00 133.5px,#00ff1a 134.5px,#00ff5c 135.5px,#00ff68 136.5px,#00ff88 140.5px,#00ffa3 147.5px,#00ffe1 151.5px,#00feff 158.5px,#00e8ff 165.5px,#00d0ff 176.5px,#0091ff 214.5px,#0078ff 239.5px,#004dff 263.5px,#0033ff 282.5px,#0010ff 298.5px,#0000ff 314.5px,#1100ff 339.5px,#2d00ff 363.5px,#7800ff 418.5px,#8000f8 436.5px,#9000e0 628.5px,#9800c8 766.5px,#9800b0 985.5px,#900098 1219.5px,#8f0096 1279px)"></div>
<div style="height:4px;background:linear-gradient(90deg,#ff0000 0px,#ff0000 40.5px,#ff0900 41.5px,#ff1900 42.5px,#ff4400 44.5px,#ff5300 45.5px,#ff7800 48.5px,#ff9200 52.5px,#ffde00 62.5px,#ffff00 68.5px,#e3ff00 71.5px,#c7ff00 75.5px,#a3ff00 78.5px,#8aff00 82.5px,#7eff00 83.5px,#4fff00 86.5px,#37ff00 87.5px,#00ff00 88.5px,#00ff00 133.5px,#00ff09 134.5px,#00ff4a 135.5px,#00ff65 136.5px,#00ff86 140.5px,#00ff9f 147.5px,#00ffdf 151.5px,#00ffff 158.5px,#00e7ff 166.5px,#00cfff 177.5px,#0091ff 215.5px,#0079ff 239.5px,#004eff 263.5px,#0033ff 283.5px,#0010ff 299.5px,#0000ff 316.5px,#1000ff 340.5px,#2f00ff 366.5px,#7800ff 421.5px,#8000f8 440.5px,#9000e0 632.5px,#9800c8 771.5px,#9800b0 990.5px,#900098 1226.5px,#8f0097 1279px)"></div>
<div style="height:4px;background:linear-gradient(90deg,#ff0000 0px,#ff0000 40.5px,#ff0700 41.5px,#ff1700 42.5px,#ff4100 44.5px,#ff5200 45.5px,#ff6d00 47.5px,#ff8000 49.5px,#ff9100 52.5px,#ffde00 62.5px,#ffff00 68.5px,#f6ff00 69.5px,#dcff00 72.5px,#c8ff00 75.5px,#a5ff00 78.5px,#8bff00 82.5px,#80ff00 83.5px,#42ff00 87.5px,#00ff00 88.5px,#00ff00 134.5px,#00ff38 135.5px,#00ff63 136.5px,#00ff8a 141.5px,#00ff9e 147.5px,#00ffa8 148.5px,#00ffd9 151.5px,#00ffe2 152.5px,#00fdff 159.5px,#00e8ff 166.5px,#00d0ff 177.5px,#0090ff 216.5px,#0079ff 240.5px,#004eff 264.5px,#0033ff 284.5px,#0011ff 300.5px,#0000ff 317.5px,#1100ff 342.5px,#2f00ff 368.5px,#7800ff 424.5px,#8000f8 443.5px,#9000e0 635.5px,#9800c8 776.5px,#9800b0 995.5px,#900098 1232.5px,#8f0097 1279px)"></div>
<div style="height:4px;background:linear-gradient(90deg,#ff0000 0px,#ff0000 40.5px,#ff0500 41.5px,#ff1500 42.5px,#ff5000 45.5px,#ff6b00 47.5px,#ff8000 49.5px,#ff9000 52.5px,#ffdd00 62.5px,#ffff00 68.5px,#f7ff00 69.5px,#ddff00 72.5px,#c9ff00 75.5px,#9dff00 79.5px,#83ff00 83.5px,#45ff00 87.5px,#00ff00 88.5px,#00ff00 134.5px,#00ff27 135.5px,#00ff61 136.5px,#00ff88 141.5px,#00ffa3 148.5px,#00ffe1 152.5px,#00feff 159.5px,#00e9ff 166.5px,#00d1ff 177.5px,#0091ff 216.5px,#0078ff 241.5px,#004eff 265.5px,#0033ff 285.5px,#0011ff 301.5px,#0000ff 319.5px,#1000ff 343.5px,#2f00ff 370.5px,#7700ff 427.5px,#8000f8 447.5px,#9000e0 639.5px,#9800c8 781.5px,#9800b0 1000.5px,#8f0097 1279px)"></div>
<div style="height:4px;background:linear-gradient(90deg,#ff0000 0px,#ff0000 40.5px,#ff0400 41.5px,#ff2500 43.5px,#ff4f00 45.5px,#ff6a00 47.5px,#ff7f00 49.5px,#ff9000 52.5px,#ffdd00 62.5px,#fffe00 68.5px,#f7ff00 69.5px,#ddff00 72.5px,#c9ff00 75.5px,#9eff00 79.5px,#85ff00 83.5px,#48ff00 87.5px,#00ff00 88.5px,#00ff00 134.5px,#00ff15 135.5px,#00ff55 136.5px,#00ff67 137.5px,#00ff87 141.5px,#00ff9f 148.5px,#00ffdd 152.5px,#00fffe 159.5px,#00fcff 160.5px,#00e7ff 167.5px,#00cfff 178.5px,#0090ff 217.5px,#0079ff 241.5px,#004dff 266.5px,#0033ff 286.5px,#0011ff 302.5px,#0000ff 320.5px,#1100ff 345.5px,#2f00ff 372.5px,#7800ff 431.5px,#8000f8 450.5px,#9000e0 642.5px,#9800c8 786.5px,#9800b0 1005.5px,#900097 1279px)"></div>
<div style="height:4px;background:linear-gradient(90deg,#ff0000 0px,#ff0200 41.5px,#ff2200 43.5px,#ff4d00 45.5px,#ff6800 47.5px,#ff7e00 49.5px,#ff8f00 52.5px,#ffdc00 62.5px,#fffe00 68.5px,#f8ff00 69.5px,#deff00 72.5px,#caff00 75.5px,#9fff00 79.5px,#88ff00 83.5px,#4bff00 87.5px,#0eff00 88.5px,#00ff00 89.5px,#00ff00 134.5px,#00ff04 135.5px,#00ff44 136.5px,#00ff64 137.5px,#00ff8a 142.5px,#00ff9e 148.5px,#00ffa8 149.5px,#00ffd8 152.5px,#00ffe2 153.5px,#00feff 160.5px,#00e8ff 167.5px,#00d0ff 178.5px,#0091ff 217.5px,#0085ff 226.5px,#0079ff 242.5px,#004dff 267.5px,#0033ff 287.5px,#0010ff 304.5px,#0000ff 322.5px,#1000ff 346.5px,#2e00ff 374.5px,#7800ff 434.5px,#8000f8 454.5px,#9000e0 646.5px,#9800c8 791.5px,#9800b0 1010.5px,#900097 1279px)"></div>
<div style="height:4px;background:linear-gradient(90deg,#ff0000 0px,#ff0000 41.5px,#ff2000 43.5px,#ff4c00 45.5px,#ff7300 48.5px,#ff7d00 49.5px,#ff9600 53.5px,#ffdc00 62.5px,#fffe00 68.5px,#f8ff00 69.5px,#deff00 72.5px,#cbff00 75.5px,#9fff00 79.5px,#89ff00 83.5px,#4eff00 87.5px,#2fff00 88.5px,#00ff00 89.5px,#00ff00 135.5px,#00ff62 137.5px,#00ff89 142.5px,#00ffa3 149.5px,#00ffe1 153.5px,#00ffff 160.5px,#00e7ff 168.5px,#00cfff 179.5px,#0091ff 218.5px,#0084ff 227.5px,#0078ff 243.5px,#004dff 268.5px,#0033ff 288.5px,#0010ff 305.5px,#0000ff 323.5px,#1100ff 348.5px,#2e00ff 376.5px,#7800ff 437.5px,#8000f8 457.5px,#9000e0 650.5px,#9800c8 796.5px,#9800b0 1015.5px,#900097 1279px)"></div>
<div style="height:4px;background:linear-gradient(90deg,#ff0000 0px,#ff0000 41.5px,#ff1e00 43.5px,#ff4a00 45.5px,#ff7200 48.5px,#ff7c00 49.5px,#ff9500 53.5px,#ffdb00 62.5px,#fffd00 68.5px,#f9ff00 69.5px,#dfff00 72.5px,#cbff00 75.5px,#a0ff00 79.5px,#8aff00 83.5px,#7dff00 84.5px,#41ff00 88.5px,#00ff00 89.5px,#00ff00 135.5px,#00ff22 136.5px,#00ff60 137.5px,#00ff88 142.5px,#00ff9f 149.5px,#00ffdc 153.5px,#00ffe3 154.5px,#00fffe 160.5px,#00fdff 161.5px,#00e8ff 168.5px,#00d0ff 179.5px,#0090ff 219.5px,#0084ff 227.5px,#0078ff 244.5px,#004dff 269.5px,#0033ff 289.5px,#0010ff 306.5px,#0000ff 325.5px,#1000ff 349.5px,#2d00ff 377.5px,#7700ff 440.5px,#8000f8 461.5px,#9000e0 653.5px,#9800c8 801.5px,#9800b0 1020.5px,#900098 1279px)"></div>
<div style="height:4px;background:linear-gradient(90deg,#ff0000 0px,#ff0000 41.5px,#ff1c00 43.5px,#ff4900 45.5px,#ff7100 48.5px,#ff7b00 49.5px,#ff9500 53.5px,#ffdb00 62.5px,#fffd00 68.5px,#f9ff00 69.5px,#dfff00 72.5px,#c4ff00 76.5px,#a2ff00 79.5px,#8aff00 83.5px,#80ff00 84.5px,#44ff00 88.5px,#00ff00 89.5px,#00ff00 135.5px,#00ff11 136.5px,#00ff4f 137.5px,#00ff66 138.5px,#00ff85 142.5px,#00ff9e 149.5px,#00ffa8 150.5px,#00ffd7 153.5px,#00ffe2 154.5px,#00feff 161.5px,#00e9ff 168.5px,#00d0ff 179.5px,#0091ff 219.5px,#0085ff 228.5px,#0079ff 244.5px,#004dff 270.5px,#0033ff 290.5px,#0010ff 307.5px,#0000ff 326.5px,#1000ff 350.5px,#2d00ff 379.5px,#5f00ff 420.5px,#7700ff 443.5px,#8000f8 464.5px,#9000e0 657.5px,#9800c8 806.5px,#9800b0 1025.5px,#900098 1279px)"></div>
<div style="height:4px;background:linear-gradient(90deg,#ff0000 0px,#ff0000 41.5px,#ff1b00 43.5px,#ff4700 45.5px,#ff7000 48.5px,#ff7a00 49.5px,#ff9400 53.5px,#ffda00 62.5px,#fffd00 68.5px,#faff00 69.5px,#e0ff00 72.5px,#c5ff00 76.5px,#a3ff00 79.5px,#8bff00 83.5px,#82ff00 84.5px,#47ff00 88.5px,#00ff00 89.5px,#00ff00 136.5px,#00ff3e 137.5px,#00ff64 138.5px,#00ff89 143.5px,#00ffa3 150.5px,#00ffe0 154.5px,#00ffff 161.5px,#00fcff 162.5px,#00e7ff 169.5px,#00cfff 180.5px,#0090ff 220.5px,#0085ff 229.5px,#0079ff 245.5px,#004eff 270.5px,#0033ff 291.5px,#0010ff 308.5px,#0000ff 328.5px,#1000ff 352.5px,#2e00ff 382.5px,#6000ff 423.5px,#7800ff 447.5px,#8000f8 468.5px,#9000e0 660.5px,#9800c8 811.5px,#9800b0 1030.5px,#900098 1279px)"></div>
<div style="height:4px;background:linear-gradient(90deg,#ff0000 0px,#ff0000 41.5px,#ff0900 42.5px,#ff1900 43.5px,#ff4400 45.5px,#ff6e00 48.5px,#ff7900 49.5px,#ff9300 53.5px,#ffe000 63.5px,#fffc00 68.5px,#faff00 69.5px,#e0ff00 72.5px,#c6ff00 76.5px,#a5ff00 79.5px,#84ff00 84.5px,#4aff00 88.5px,#07ff00 89.5px,#00ff00 90.5px,#00ff00 136.5px,#00ff2e 137.5px,#00ff61 138.5px,#00ff88 143.5px,#00ff9f 150.5px,#00ffdb 154.5px,#00ffe3 155.5px,#00fdff 162.5px,#00e8ff 169.5px,#00d0ff 180.5px,#0091ff 220.5px,#0078ff 246.5px,#004eff 271.5px,#0033ff 292.5px,#0010ff 309.5px,#0000ff 329.5px,#1000ff 353.5px,#2e00ff 384.5px,#6000ff 426.5px,#7800ff 450.5px,#8000f8 471.5px,#9000e0 664.5px,#9800c8 815.5px,#9800b0 1035.5px,#900099 1279px)"></div>
<div style="height:4px;background:linear-gradient(90deg,#ff0000 0px,#ff0000 41.5px,#ff0800 42.5px,#ff1700 43.5px,#ff4200 45.5px,#ff5200 46.5px,#ff6c00 48.5px,#ff8100 50.5px,#ff9300 53.5px,#ffe000 63.5px,#fffc00 68.5px,#fbff00 69.5px,#e1ff00 72.5px,#c7ff00 76.5px,#9dff00 80.5px,#87ff00 84.5px,#4cff00 88.5px,#00ff00 90.5px,#00ff00 136.5px,#00ff1d 137.5px,#00ff5b 138.5px,#00ff67 139.5px,#00ff86 143.5px,#00ff9e 150.5px,#00ffa8 151.5px,#00ffd6 154.5px,#00ffe1 155.5px,#00ffff 162.5px,#00e7ff 170.5px,#00cfff 181.5px,#0091ff 221.5px,#0079ff 246.5px,#004eff 272.5px,#0033ff 293.5px,#0011ff 310.5px,#0000ff 331.5px,#1000ff 354.5px,#2e00ff 386.5px,#5f00ff 428.5px,#7800ff 453.5px,#8000f8 475.5px,#9000e0 667.5px,#9800c8 820.5px,#9800b0 1040.5px,#900099 1279px)"></div>
<div style="height:4px;background:linear-gradient(90deg,#ff0000 0px,#ff0000 41.5px,#ff0600 42.5px,#ff1600 43.5px,#ff5000 46.5px,#ff6b00 48.5px,#ff8000 50.5px,#ff9200 53.5px,#ffe000 63.5px,#fffc00 68.5px,#fbff00 69.5px,#e2ff00 72.5px,#c8ff00 76.5px,#9eff00 80.5px,#88ff00 84.5px,#41ff00 89.5px,#00ff00 90.5px,#00ff00 136.5px,#00ff0c 137.5px,#00ff4a 138.5px,#00ff65 139.5px,#00ff89 144.5px,#00ffa2 151.5px,#00ffe0 155.5px,#00fffe 162.5px,#00fdff 163.5px,#00e8ff 170.5px,#00cfff 181.5px,#0090ff 222.5px,#0079ff 247.5px,#004dff 273.5px,#0033ff 294.5px,#000fff 312.5px,#0000ff 332.5px,#1000ff 356.5px,#2e00ff 388.5px,#6000ff 431.5px,#7700ff 456.5px,#8000f8 478.5px,#9000e0 671.5px,#9800c8 825.5px,#9800b0 1045.5px,#91009a 1279px)"></div>
<div style="height:4px;background:linear-gradient(90deg,#ff0000 0px,#ff0000 41.5px,#ff0400 42.5px,#ff2500 44.5px,#ff4f00 46.5px,#ff7f00 50.5px,#ff9100 53.5px,#ffdf00 63.5px,#fffc00 68.5px,#fcff00 69.5px,#e2ff00 72.5px,#c9ff00 76.5px,#9fff00 80.5px,#89ff00 84.5px,#43ff00 89.5px,#00ff00 90.5px,#00ff00 137.5px,#00ff39 138.5px,#00ff63 139.5px,#00ff88 144.5px,#00ff9f 151.5px,#00ffda 155.5px,#00ffe3 156.5px,#00feff 163.5px,#00e8ff 170.5px,#00d0ff 181.5px,#0091ff 222.5px,#0078ff 248.5px,#004dff 274.5px,#0033ff 295.5px,#000fff 313.5px,#0000ff 334.5px,#1000ff 357.5px,#2e00ff 390.5px,#6000ff 434.5px,#7800ff 460.5px,#8000f8 482.5px,#9000e0 674.5px,#9800c8 830.5px,#9800b0 1050.5px,#91009a 1279px)"></div>
<div style="height:4px;background:linear-gradient(90deg,#ff0000 0px,#ff0000 41.5px,#ff0300 42.5px,#ff2300 44.5px,#ff4d00 46.5px,#ff7e00 50.5px,#ff9100 53.5px,#ffdf00 63.5px,#fcff00 69.5px,#e3ff00 72.5px,#c9ff00 76.5px,#a0ff00 80.5px,#8aff00 84.5px,#7fff00 85.5px,#46ff00 89.5px,#00ff00 90.5px,#00ff00 137.5px,#00ff29 138.5px,#00ff61 139.5px,#00ff87 144.5px,#00ff9e 151.5px,#00ffa7 152.5px,#00ffe1 156.5px,#00ffff 163.5px,#00fcff 164.5px,#00e7ff 171.5px,#00cfff 182.5px,#0090ff 223.5px,#0079ff 248.5px,#004dff 275.5px,#0033ff 296.5px,#0010ff 314.5px,#0000ff 335.5px,#1000ff 359.5px,#2e00ff 392.5px,#6000ff 437.5px,#7800ff 463.5px,#8000f8 485.5px,#9000e0 678.5px,#9800c8 835.5px,#9800b0 1055.5px,#91009b 1279px)"></div>
<div style="height:4px;background:linear-gradient(90deg,#ff0000 0px,#ff0100 42.5px,#ff2000 44.5px,#ff4c00 46.5px,#ff7d00 50.5px,#ff9000 53.5px,#ffdf00 63.5px,#fdff00 69.5px,#e4ff00 72.5px,#caff00 76.5px,#a0ff00 80.5px,#8bff00 84.5px,#81ff00 85.5px,#49ff00 89.5px,#01ff00 90.5px,#00ff00 91.5px,#00ff00 137.5px,#00ff18 138.5px,#00ff55 139.5px,#00ff66 140.5px,#00ff8a 145.5px,#00ffa2 152.5px,#00ffdf 156.5px,#00fdff 164.5px,#00e8ff 171.5px,#00d0ff 182.5px,#0091ff 223.5px,#0079ff 249.5px,#004dff 276.5px,#0033ff 297.5px,#0010ff 315.5px,#0000ff 337.5px,#1000ff 360.5px,#2e00ff 394.5px,#6000ff 439.5px,#7800ff 466.5px,#8000f8 489.5px,#9000e0 681.5px,#9800c8 840.5px,#9800b0 1060.5px,#91009c 1279px)"></div>
<div style="height:4px;background:linear-gradient(90deg,#ff0000 0px,#ff0000 42.5px,#ff1f00 44.5px,#ff4b00 46.5px,#ff7c00 50.5px,#ff8f00 53.5px,#ffde00 63.5px,#fdff00 69.5px,#ddff00 73.5px,#cbff00 76.5px,#a2ff00 80.5px,#84ff00 85.5px,#4bff00 89.5px,#20ff00 90.5px,#00ff00 91.5px,#00ff00 137.5px,#00ff08 138.5px,#00ff44 139.5px,#00ff64 140.5px,#00ff89 145.5px,#00ff9f 152.5px,#00ffd9 156.5px,#00ffe2 157.5px,#00ffff 164.5px,#00e7ff 172.5px,#00bfff 192.5px,#0090ff 224.5px,#0080ff 245.5px,#004dff 277.5px,#0033ff 298.5px,#0010ff 316.5px,#0000ff 338.5px,#1000ff 362.5px,#2e00ff 396.5px,#6000ff 442.5px,#7800ff 469.5px,#8000f8 492.5px,#9000e0 685.5px,#9800c8 845.5px,#9800b0 1065.5px,#91009c 1279px)"></div>
<div style="height:4px;background:linear-gradient(90deg,#ff0000 0px,#ff0000 42.5px,#ff1d00 44.5px,#ff4a00 46.5px,#ff7200 49.5px,#ff7c00 50.5px,#ff9600 54.5px,#ffde00 63.5px,#feff00 69.5px,#ddff00 73.5px,#c3ff00 77.5px,#a3ff00 80.5px,#86ff00 85.5px,#3fff00 90.5px,#00ff00 91.5px,#00ff00 138.5px,#00ff34 139.5px,#00ff62 140.5px,#00ff88 145.5px,#00ff9e 152.5px,#00ffa7 153.5px,#00ffe1 157.5px,#00fffe 164.5px,#00fdff 165.5px,#00e7ff 172.5px,#00cfff 183.5px,#0090ff 225.5px,#0080ff 246.5px,#004eff 277.5px,#0033ff 299.5px,#0010ff 317.5px,#0000ff 340.5px,#1000ff 363.5px,#2e00ff 398.5px,#6000ff 445.5px,#7700ff 472.5px,#8000f8 496.5px,#9000e0 688.5px,#9800c8 850.5px,#9800b0 1070.5px,#92009d 1279px)"></div>
<div style="height:4px;background:linear-gradient(90deg,#ff0000 0px,#ff0000 42.5px,#ff1c00 44.5px,#ff4900 46.5px,#ff7100 49.5px,#ff7b00 50.5px,#ff9600 54.5px,#ffdd00 63.5px,#feff00 69.5px,#deff00 73.5px,#c4ff00 77.5px,#9dff00 81.5px,#88ff00 85.5px,#43ff00 90.5px,#00ff00 91.5px,#00ff00 138.5px,#00ff24 139.5px,#00ff60 140.5px,#00ff85 145.5px,#00ffa2 153.5px,#00ffde 157.5px,#00feff 165.5px,#00e6ff 173.5px,#00c0ff 192.5px,#0091ff 225.5px,#007fff 247.5px,#004eff 278.5px,#0033ff 300.5px,#0010ff 318.5px,#0000ff 341.5px,#2e00ff 400.5px,#6000ff 447.5px,#7800ff 476.5px,#8000f8 499.5px,#9000e0 692.5px,#9800c8 855.5px,#9800b0 1075.5px,#92009d 1279px)"></div>
<div style="height:4px;background:linear-gradient(90deg,#ff0000 0px,#ff0000 42.5px,#ff0a00 43.5px,#ff1a00 44.5px,#ff4700 46.5px,#ff7100 49.5px,#ff7b00 50.5px,#ff9500 54.5px,#ffdd00 63.5px,#feff00 69.5px,#deff00 73.5px,#c5ff00 77.5px,#9eff00 81.5px,#89ff00 85.5px,#45ff00 90.5px,#00ff00 91.5px,#00ff00 138.5px,#00ff14 139.5px,#00ff4f 140.5px,#00ff65 141.5px,#00ff89 146.5px,#00ff9f 153.5px,#00ffd9 157.5px,#00ffe2 158.5px,#00ffff 165.5px,#00fcff 166.5px,#00e7ff 173.5px,#00cfff 184.5px,#0090ff 226.5px,#0080ff 247.5px,#004eff 279.5px,#0033ff 301.5px,#0010ff 319.5px,#0000ff 343.5px,#2e00ff 402.5px,#6000ff 450.5px,#7800ff 479.5px,#8000f8 503.5px,#9000e0 695.5px,#9800c8 860.5px,#9800b0 1080.5px,#92009e 1279px)"></div>
<div style="height:4px;background:linear-gradient(90deg,#ff0000 0px,#ff0000 42.5px,#ff0900 43.5px,#ff1900 44.5px,#ff4500 46.5px,#ff7000 49.5px,#ff7a00 50.5px,#ff9400 54.5px,#ffdc00 63.5px,#ffff00 69.5px,#dfff00 73.5px,#c6ff00 77.5px,#9eff00 81.5px,#8aff00 85.5px,#7fff00 86.5px,#48ff00 90.5px,#00ff00 91.5px,#00ff00 138.5px,#00ff04 139.5px,#00ff3f 140.5px,#00ff63 141.5px,#00ff88 146.5px,#00ff9e 153.5px,#00ffa7 154.5px,#00ffe1 158.5px,#00fdff 166.5px,#00e8ff 173.5px,#00c0ff 193.5px,#0090ff 227.5px,#007fff 248.5px,#004dff 280.5px,#0033ff 302.5px,#0010ff 320.5px,#0000ff 344.5px,#2e00ff 404.5px,#6000ff 453.5px,#7800ff 482.5px,#8000f8 506.5px,#8800ec 582.5px,#9000e0 699.5px,#9800c8 865.5px,#9800b0 1085.5px,#92009e 1279px)"></div>
<div style="height:4px;background:linear-gradient(90deg,#ff0000 0px,#ff0000 42.5px,#ff0700 43.5px,#ff2b00 45.5px,#ff4400 46.5px,#ff7000 49.5px,#ff7a00 50.5px,#ff9400 54.5px,#ffdc00 63.5px,#ffff00 69.5px,#f7ff00 70.5px,#dfff00 73.5px,#c8ff00 77.5px,#9fff00 81.5px,#8aff00 85.5px,#81ff00 86.5px,#4aff00 90.5px,#19ff00 91.5px,#00ff00 92.5px,#00ff00 139.5px,#00ff61 141.5px,#00ff86 146.5px,#00ffa2 154.5px,#00ffdd 158.5px,#00feff 166.5px,#00e6ff 174.5px,#00bfff 194.5px,#0090ff 227.5px,#0080ff 248.5px,#004dff 281.5px,#0033ff 303.5px,#0011ff 321.5px,#0000ff 346.5px,#2e00ff 406.5px,#6000ff 455.5px,#7700ff 485.5px,#8000f8 510.5px,#8800ec 584.5px,#9000e0 702.5px,#9800c8 870.5px,#9800b0 1090.5px,#92009f 1279px)"></div>
<div style="height:4px;background:linear-gradient(90deg,#ff0000 0px,#ff0000 42.5px,#ff0500 43.5px,#ff1600 44.5px,#ff4200 46.5px,#ff5200 47.5px,#ff6f00 49.5px,#ff7900 50.5px,#ff9300 54.5px,#ffdb00 63.5px,#fffe00 69.5px,#f8ff00 70.5px,#e0ff00 73.5px,#c8ff00 77.5px,#a0ff00 81.5px,#83ff00 86.5px,#4dff00 90.5px,#37ff00 91.5px,#00ff00 92.5px,#00ff00 139.5px,#00ff1f 140.5px,#00ff5a 141.5px,#00ff67 142.5px,#00ff89 147.5px,#00ff9f 154.5px,#00ffd8 158.5px,#00ffe2 159.5px,#00fffe 166.5px,#00fdff 167.5px,#00e7ff 174.5px,#00c0ff 194.5px,#0090ff 228.5px,#0079ff 254.5px,#004dff 282.5px,#0033ff 304.5px,#0010ff 323.5px,#0000ff 347.5px,#2e00ff 408.5px,#6000ff 458.5px,#7700ff 488.5px,#8000f8 513.5px,#8800ec 586.5px,#9000e0 706.5px,#9800c8 875.5px,#9800b0 1095.5px,#92009f 1279px)"></div>
<div style="height:4px;background:linear-gradient(90deg,#ff0000 0px,#ff0000 42.5px,#ff0300 43.5px,#ff2700 45.5px,#ff4000 46.5px,#ff5100 47.5px,#ff6e00 49.5px,#ff7800 50.5px,#ff9200 54.5px,#ffdb00 63.5px,#fffe00 69.5px,#f8ff00 70.5px,#e0ff00 73.5px,#c9ff00 77.5px,#a1ff00 81.5px,#85ff00 86.5px,#42ff00 91.5px,#00ff00 92.5px,#00ff00 139.5px,#00ff10 140.5px,#00ff4a 141.5px,#00ff65 142.5px,#00ff88 147.5px,#00ff9e 154.5px,#00ffa7 155.5px,#00ffe0 159.5px,#00feff 167.5px,#00e8ff 174.5px,#00c0ff 194.5px,#0091ff 228.5px,#0078ff 255.5px,#004dff 283.5px,#0033ff 305.5px,#0010ff 324.5px,#0000ff 349.5px,#2e00ff 410.5px,#6000ff 461.5px,#7800ff 492.5px,#8000f8 517.5px,#8800ec 589.5px,#9000e0 709.5px,#9800c8 880.5px,#9800b0 1100.5px,#9300a0 1279px)"></div>
<div style="height:4px;background:linear-gradient(90deg,#ff0000 0px,#ff0200 43.5px,#ff2500 45.5px,#ff3e00 46.5px,#ff5000 47.5px,#ff7800 50.5px,#ff9200 54.5px,#ffda00 63.5px,#fffe00 69.5px,#f9ff00 70.5px,#e1ff00 73.5px,#caff00 77.5px,#a2ff00 81.5px,#87ff00 86.5px,#44ff00 91.5px,#00ff00 92.5px,#00ff00 140.5px,#00ff3a 141.5px,#00ff63 142.5px,#00ff87 147.5px,#00ffa2 155.5px,#00ffdc 159.5px,#00ffe3 160.5px,#00ffff 167.5px,#00e7ff 175.5px,#00bfff 195.5px,#0090ff 229.5px,#0079ff 255.5px,#004dff 284.5px,#0033ff 306.5px,#0010ff 325.5px,#0000ff 350.5px,#2e00ff 412.5px,#6000ff 464.5px,#7800ff 495.5px,#8000f8 520.5px,#8800ec 591.5px,#9000e0 714.5px,#9800c8 885.5px,#9800b0 1105.5px,#9300a0 1279px)"></div>
<div style="height:4px;background:linear-gradient(90deg,#ff0000 0px,#ff0000 43.5px,#ff2300 45.5px,#ff3c00 46.5px,#ff4f00 47.5px,#ff7700 50.5px,#ff8000 51.5px,#ff9100 54.5px,#ffe100 64.5px,#fffe00 69.5px,#f9ff00 70.5px,#e2ff00 73.5px,#caff00 77.5px,#a3ff00 81.5px,#89ff00 86.5px,#47ff00 91.5px,#00ff00 92.5px,#00ff00 140.5px,#00ff2a 141.5px,#00ff61 142.5px,#00ff8a 148.5px,#00ff9f 155.5px,#00ffd7 159.5px,#00ffe1 160.5px,#00fdff 168.5px,#00e8ff 175.5px,#00c0ff 195.5px,#0090ff 230.5px,#0079ff 256.5px,#004eff 284.5px,#0033ff 307.5px,#0010ff 326.5px,#0000ff 352.5px,#2e00ff 414.5px,#6100ff 467.5px,#7800ff 499.5px,#8000f8 524.5px,#8800ec 594.5px,#9000e0 717.5px,#9800c8 890.5px,#9800b0 1110.5px,#9300a1 1279px)"></div>
<div style="height:4px;background:linear-gradient(90deg,#ff0000 0px,#ff0000 43.5px,#ff2100 45.5px,#ff4e00 47.5px,#ff7700 50.5px,#ff8000 51.5px,#ff9000 54.5px,#ffe000 64.5px,#fffd00 69.5px,#faff00 70.5px,#e2ff00 73.5px,#cbff00 77.5px,#9dff00 82.5px,#89ff00 86.5px,#49ff00 91.5px,#10ff00 92.5px,#00ff00 93.5px,#00ff00 140.5px,#00ff1b 141.5px,#00ff54 142.5px,#00ff66 143.5px,#00ff89 148.5px,#00ff9e 155.5px,#00ffa7 156.5px,#00ffe0 160.5px,#00feff 168.5px,#00e6ff 176.5px,#00bfff 196.5px,#0090ff 230.5px,#0078ff 257.5px,#004eff 285.5px,#0033ff 308.5px,#0010ff 327.5px,#0000ff 353.5px,#2e00ff 416.5px,#6000ff 469.5px,#7800ff 502.5px,#8000f8 527.5px,#8800ec 596.5px,#9000e0 721.5px,#9800c8 895.5px,#9800b0 1115.5px,#9300a1 1279px)"></div>
<div style="height:4px;background:linear-gradient(90deg,#ff0000 0px,#ff0000 43.5px,#ff1f00 45.5px,#ff4d00 47.5px,#ff7600 50.5px,#ff7f00 51.5px,#ff9000 54.5px,#ffe000 64.5px,#fffd00 69.5px,#faff00 70.5px,#e3ff00 73.5px,#c4ff00 78.5px,#9eff00 82.5px,#8aff00 86.5px,#80ff00 87.5px,#4bff00 91.5px,#2bff00 92.5px,#00ff00 93.5px,#00ff00 140.5px,#00ff0b 141.5px,#00ff45 142.5px,#00ff64 143.5px,#00ff88 148.5px,#00ffa2 156.5px,#00ffdb 160.5px,#00ffe3 161.5px,#00fffe 168.5px,#00fcff 169.5px,#00e7ff 176.5px,#00bfff 196.5px,#0090ff 231.5px,#0078ff 258.5px,#004eff 286.5px,#0033ff 309.5px,#0010ff 328.5px,#0000ff 355.5px,#2e00ff 418.5px,#6000ff 472.5px,#7800ff 505.5px,#8000f8 531.5px,#8800ec 598.5px,#9000e0 724.5px,#9800c8 900.5px,#9800b0 1120.5px,#9300a2 1279px)"></div>
<div style="height:4px;background:linear-gradient(90deg,#ff0000 0px,#ff0000 43.5px,#ff0c00 44.5px,#ff1d00 45.5px,#ff4c00 47.5px,#ff7600 50.5px,#ff7f00 51.5px,#ff8f00 54.5px,#ffdf00 64.5px,#fffd00 69.5px,#faff00 70.5px,#e3ff00 73.5px,#c5ff00 78.5px,#9eff00 82.5px,#8bff00 86.5px,#82ff00 87.5px,#40ff00 92.5px,#00ff00 93.5px,#00ff00 141.5px,#00ff35 142.5px,#00ff62 143.5px,#00ff85 148.5px,#00ff9f 156.5px,#00ffe1 161.5px,#00feff 169.5px,#00e8ff 176.5px,#00c0ff 196.5px,#0090ff 232.5px,#0079ff 258.5px,#004dff 287.5px,#0032ff 310.5px,#0010ff 329.5px,#0000ff 356.5px,#2e00ff 420.5px,#6100ff 475.5px,#7800ff 508.5px,#8000f8 534.5px,#8800ec 600.5px,#9000e0 728.5px,#9800c8 905.5px,#9800b0 1125.5px,#9300a2 1279px)"></div>
<div style="height:4px;background:linear-gradient(90deg,#ff0000 0px,#ff0000 43.5px,#ff0a00 44.5px,#ff1c00 45.5px,#ff4b00 47.5px,#ff7500 50.5px,#ff9600 55.5px,#ffdf00 64.5px,#fffc00 69.5px,#fbff00 70.5px,#ddff00 74.5px,#c6ff00 78.5px,#9fff00 82.5px,#84ff00 87.5px,#43ff00 92.5px,#00ff00 93.5px,#00ff00 141.5px,#00ff26 142.5px,#00ff5f 143.5px,#00ff89 149.5px,#00ff9e 156.5px,#00ffa6 157.5px,#00ffdf 161.5px,#00ffff 169.5px,#00e7ff 177.5px,#00bfff 197.5px,#0090ff 232.5px,#0079ff 259.5px,#004dff 288.5px,#0032ff 311.5px,#0010ff 330.5px,#0009ff 338.5px,#0000ff 358.5px,#2e00ff 422.5px,#6000ff 477.5px,#7800ff 511.5px,#8000f8 538.5px,#8800ec 603.5px,#9000e0 731.5px,#9800c8 910.5px,#9800b0 1130.5px,#9400a3 1279px)"></div>
<div style="height:4px;background:linear-gradient(90deg,#ff0000 0px,#ff0000 43.5px,#ff0800 44.5px,#ff1a00 45.5px,#ff4a00 47.5px,#ff7500 50.5px,#ff9500 55.5px,#ffdf00 64.5px,#fffc00 69.5px,#fbff00 70.5px,#deff00 74.5px,#c7ff00 78.5px,#a0ff00 82.5px,#86ff00 87.5px,#45ff00 92.5px,#00ff00 93.5px,#00ff00 141.5px,#00ff17 142.5px,#00ff50 143.5px,#00ff65 144.5px,#00ff88 149.5px,#00ffa2 157.5px,#00ffda 161.5px,#00ffe2 162.5px,#00fdff 170.5px,#00e7ff 177.5px,#00c0ff 197.5px,#0090ff 233.5px,#0078ff 260.5px,#004dff 289.5px,#0033ff 311.5px,#0011ff 331.5px,#0009ff 339.5px,#0000ff 359.5px,#2e00ff 424.5px,#6100ff 480.5px,#7800ff 514.5px,#8000f8 541.5px,#8800ec 605.5px,#9000e0 735.5px,#9800c8 915.5px,#9800b0 1135.5px,#9400a3 1279px)"></div>
<div style="height:4px;background:linear-gradient(90deg,#ff0000 0px,#ff0000 43.5px,#ff0700 44.5px,#ff1900 45.5px,#ff4900 47.5px,#ff7400 50.5px,#ff9500 55.5px,#ffde00 64.5px,#fffc00 69.5px,#fcff00 70.5px,#deff00 74.5px,#c7ff00 78.5px,#a0ff00 82.5px,#88ff00 87.5px,#47ff00 92.5px,#00ff00 93.5px,#00ff00 141.5px,#00ff0a 142.5px,#00ff42 143.5px,#00ff63 144.5px,#00ff86 149.5px,#00ff9f 157.5px,#00ffe1 162.5px,#00feff 170.5px,#00e6ff 178.5px,#00bfff 198.5px,#0090ff 233.5px,#0079ff 260.5px,#004eff 289.5px,#0033ff 312.5px,#0010ff 332.5px,#0000ff 360.5px,#2e00ff 425.5px,#6100ff 482.5px,#7800ff 516.5px,#8000f8 543.5px,#8800ec 610.5px,#9000e0 738.5px,#9800c8 919.5px,#9800b0 1140.5px,#9400a4 1279px)"></div>
<div style="height:4px;background:linear-gradient(90deg,#ff0000 0px,#ff0000 43.5px,#ff0600 44.5px,#ff1700 45.5px,#ff4800 47.5px,#ff7400 50.5px,#ff9400 55.5px,#ffde00 64.5px,#fcff00 70.5px,#deff00 74.5px,#c8ff00 78.5px,#a1ff00 82.5px,#89ff00 87.5px,#49ff00 92.5px,#17ff00 93.5px,#00ff00 94.5px,#00ff00 142.5px,#00ff34 143.5px,#00ff61 144.5px,#00ff89 150.5px,#00ff9e 157.5px,#00ffa6 158.5px,#00ffde 162.5px,#00fffe 170.5px,#00fcff 171.5px,#00e7ff 178.5px,#00c2ff 197.5px,#0090ff 234.5px,#0079ff 261.5px,#004dff 290.5px,#0033ff 312.5px,#0010ff 333.5px,#0000ff 361.5px,#2e00ff 427.5px,#6100ff 484.5px,#7800ff 518.5px,#8000f8 545.5px,#8800ec 614.5px,#9000e0 742.5px,#9800c8 923.5px,#9400a4 1279px)"></div>
<div style="height:4px;background:linear-gradient(90deg,#ff0000 0px,#ff0000 43.5px,#ff0400 44.5px,#ff2c00 46.5px,#ff4700 47.5px,#ff7300 50.5px,#ff8300 52.5px,#ff9300 55.5px,#ffde00 64.5px,#fcff00 70.5px,#dfff00 74.5px,#c9ff00 78.5px,#a2ff00 82.5px,#89ff00 87.5px,#4bff00 92.5px,#31ff00 93.5px,#00ff00 94.5px,#00ff00 142.5px,#00ff26 143.5px,#00ff5e 144.5px,#00ff67 145.5px,#00ff89 150.5px,#00ffa2 158.5px,#00ffd9 162.5px,#00ffe2 163.5px,#00feff 171.5px,#00e8ff 178.5px,#00cfff 190.5px,#00bfff 199.5px,#0091ff 234.5px,#0078ff 262.5px,#004eff 290.5px,#0033ff 313.5px,#0010ff 334.5px,#0000ff 362.5px,#2e00ff 428.5px,#6000ff 485.5px,#7800ff 519.5px,#8000f8 547.5px,#8800ec 618.5px,#9000e0 746.5px,#9800c8 926.5px,#9400a5 1279px)"></div>
<div style="height:4px;background:linear-gradient(90deg,#ff0000 0px,#ff0000 43.5px,#ff0300 44.5px,#ff2a00 46.5px,#ff4500 47.5px,#ff7300 50.5px,#ff8200 52.5px,#ff9300 55.5px,#ffdd00 64.5px,#fdff00 70.5px,#dfff00 74.5px,#c9ff00 78.5px,#a4ff00 82.5px,#8aff00 87.5px,#80ff00 88.5px,#41ff00 93.5px,#00ff00 94.5px,#00ff00 142.5px,#00ff19 143.5px,#00ff50 144.5px,#00ff65 145.5px,#00ff87 150.5px,#00ff9f 158.5px,#00ffe1 163.5px,#00ffff 171.5px,#00e7ff 179.5px,#00cfff 190.5px,#00c0ff 199.5px,#0090ff 235.5px,#0079ff 262.5px,#004dff 291.5px,#0033ff 313.5px,#0010ff 335.5px,#0000ff 363.5px,#2e00ff 429.5px,#6000ff 487.5px,#7800ff 521.5px,#8000f8 549.5px,#8800ec 622.5px,#9000e0 749.5px,#9800c8 930.5px,#9400a5 1279px)"></div>
<div style="height:4px;background:linear-gradient(90deg,#ff0000 0px,#ff0100 44.5px,#ff2800 46.5px,#ff4300 47.5px,#ff7200 50.5px,#ff8200 52.5px,#ff9200 55.5px,#ffdd00 64.5px,#fdff00 70.5px,#e0ff00 74.5px,#caff00 78.5px,#9eff00 83.5px,#8bff00 87.5px,#82ff00 88.5px,#43ff00 93.5px,#00ff00 94.5px,#00ff00 142.5px,#00ff0c 143.5px,#00ff42 144.5px,#00ff63 145.5px,#00ff85 150.5px,#00ff9e 158.5px,#00ffa6 159.5px,#00ffdd 163.5px,#00ffe3 164.5px,#00fdff 172.5px,#00e8ff 179.5px,#00cfff 191.5px,#00c0ff 200.5px,#0091ff 235.5px,#0078ff 263.5px,#004eff 291.5px,#0033ff 314.5px,#0010ff 336.5px,#0000ff 364.5px,#2e00ff 431.5px,#6000ff 489.5px,#7800ff 523.5px,#8000f8 551.5px,#8800ec 625.5px,#9000e0 752.5px,#9800c8 934.5px,#9500a6 1279px)"></div>
<div style="height:4px;background:linear-gradient(90deg,#ff0000 0px,#ff0000 44.5px,#ff2600 46.5px,#ff4100 47.5px,#ff7200 50.5px,#ff8200 52.5px,#ff9100 55.5px,#ffdc00 64.5px,#fdff00 70.5px,#e0ff00 74.5px,#caff00 78.5px,#9eff00 83.5px,#84ff00 88.5px,#45ff00 93.5px,#00ff00 94.5px,#00ff00 143.5px,#00ff35 144.5px,#00ff61 145.5px,#00ff89 151.5px,#00ffa2 159.5px,#00ffd8 163.5px,#00ffe2 164.5px,#00feff 172.5px,#00e7ff 180.5px,#00d0ff 191.5px,#00c0ff 200.5px,#0090ff 236.5px,#0078ff 264.5px,#004dff 292.5px,#0033ff 314.5px,#0010ff 337.5px,#0000ff 365.5px,#2e00ff 432.5px,#6000ff 491.5px,#7700ff 524.5px,#8000f8 553.5px,#8800ec 630.5px,#9000e0 756.5px,#9800c8 938.5px,#9500a6 1279px)"></div>
<div style="height:4px;background:linear-gradient(90deg,#ff0000 0px,#ff0000 44.5px,#ff2500 46.5px,#ff4000 47.5px,#ff5300 48.5px,#ff7200 50.5px,#ff8100 52.5px,#ff9100 55.5px,#ffdc00 64.5px,#feff00 70.5px,#e0ff00 74.5px,#cbff00 78.5px,#9fff00 83.5px,#86ff00 88.5px,#47ff00 93.5px,#04ff00 94.5px,#00ff00 95.5px,#00ff00 143.5px,#00ff28 144.5px,#00ff5e 145.5px,#00ff66 146.5px,#00ff88 151.5px,#00ff9f 159.5px,#00ffe0 164.5px,#00fffe 172.5px,#00fdff 173.5px,#00e8ff 180.5px,#00cfff 192.5px,#0090ff 237.5px,#0079ff 264.5px,#004eff 292.5px,#0033ff 315.5px,#0010ff 338.5px,#0000ff 366.5px,#2e00ff 433.5px,#6000ff 493.5px,#7800ff 526.5px,#8000f8 555.5px,#8800ec 634.5px,#9000e0 759.5px,#9800c8 942.5px,#9500a7 1279px)"></div>
<div style="height:4px;background:linear-gradient(90deg,#ff0000 0px,#ff0000 44.5px,#ff2300 46.5px,#ff3e00 47.5px,#ff5200 48.5px,#ff7100 50.5px,#ff8100 52.5px,#ff9000 55.5px,#ffdb00 64.5px,#feff00 70.5px,#e1ff00 74.5px,#c4ff00 79.5px,#9fff00 83.5px,#87ff00 88.5px,#49ff00 93.5px,#1dff00 94.5px,#00ff00 95.5px,#00ff00 143.5px,#00ff1a 144.5px,#00ff50 145.5px,#00ff65 146.5px,#00ff86 151.5px,#00ff9e 159.5px,#00ffa6 160.5px,#00ffdc 164.5px,#00ffe3 165.5px,#00feff 173.5px,#00e7ff 181.5px,#00d0ff 192.5px,#0091ff 237.5px,#0078ff 265.5px,#004dff 293.5px,#0033ff 315.5px,#0011ff 338.5px,#0000ff 367.5px,#2f00ff 435.5px,#7800ff 528.5px,#8000f8 557.5px,#8800ec 638.5px,#9000e0 763.5px,#9800c8 946.5px,#9500a7 1279px)"></div>
<div style="height:4px;background:linear-gradient(90deg,#ff0000 0px,#ff0000 44.5px,#ff2100 46.5px,#ff3c00 47.5px,#ff5100 48.5px,#ff7000 50.5px,#ff8100 52.5px,#ff9000 55.5px,#ffdb00 64.5px,#feff00 70.5px,#e1ff00 74.5px,#c5ff00 79.5px,#a0ff00 83.5px,#88ff00 88.5px,#4bff00 93.5px,#36ff00 94.5px,#00ff00 95.5px,#00ff00 143.5px,#00ff0d 144.5px,#00ff43 145.5px,#00ff63 146.5px,#00ff89 152.5px,#00ffa2 160.5px,#00ffd7 164.5px,#00ffe1 165.5px,#00ffff 173.5px,#00e8ff 181.5px,#00cfff 193.5px,#0090ff 238.5px,#0079ff 265.5px,#004dff 294.5px,#0033ff 316.5px,#0010ff 339.5px,#0000ff 368.5px,#2e00ff 436.5px,#7800ff 530.5px,#8000f8 559.5px,#9000e0 766.5px,#9800c8 950.5px,#9500a7 1279px)"></div>
<div style="height:4px;background:linear-gradient(90deg,#ff0000 0px,#ff0000 44.5px,#ff0c00 45.5px,#ff1f00 46.5px,#ff3a00 47.5px,#ff5000 48.5px,#ff7000 50.5px,#ff8100 52.5px,#ff8f00 55.5px,#ffda00 64.5px,#ffff00 70.5px,#e2ff00 74.5px,#c6ff00 79.5px,#a0ff00 83.5px,#89ff00 88.5px,#41ff00 94.5px,#00ff00 95.5px,#00ff01 144.5px,#00ff36 145.5px,#00ff61 146.5px,#00ff89 152.5px,#00ff9f 160.5px,#00ffe0 165.5px,#00fdff 174.5px,#00e9ff 181.5px,#00d0ff 193.5px,#0091ff 238.5px,#0079ff 266.5px,#004eff 294.5px,#0033ff 316.5px,#0010ff 340.5px,#0000ff 369.5px,#2e00ff 437.5px,#7800ff 532.5px,#8000f8 561.5px,#9000e0 770.5px,#9800c8 953.5px,#9500a8 1279px)"></div>
<div style="height:4px;background:linear-gradient(90deg,#ff0000 0px,#ff0000 44.5px,#ff0b00 45.5px,#ff1e00 46.5px,#ff4f00 48.5px,#ff6f00 50.5px,#ff8000 52.5px,#ff9600 56.5px,#ffe100 65.5px,#ffff00 70.5px,#f8ff00 71.5px,#e2ff00 74.5px,#c7ff00 79.5px,#a2ff00 83.5px,#8aff00 88.5px,#80ff00 89.5px,#43ff00 94.5px,#00ff00 95.5px,#00ff00 144.5px,#00ff29 145.5px,#00ff5e 146.5px,#00ff66 147.5px,#00ff87 152.5px,#00ff9e 160.5px,#00ffa6 161.5px,#00ffdb 165.5px,#00ffe2 166.5px,#00ffff 174.5px,#00e8ff 182.5px,#00cfff 194.5px,#0090ff 239.5px,#0078ff 267.5px,#004dff 295.5px,#0033ff 317.5px,#0010ff 341.5px,#0000ff 370.5px,#2e00ff 438.5px,#7800ff 533.5px,#8000f8 563.5px,#9000e0 774.5px,#9800c8 957.5px,#9500a8 1279px)"></div>
<div style="height:4px;background:linear-gradient(90deg,#ff0000 0px,#ff0000 44.5px,#ff0a00 45.5px,#ff1c00 46.5px,#ff4e00 48.5px,#ff6e00 50.5px,#ff7800 51.5px,#ff9500 56.5px,#ffe000 65.5px,#ffff00 70.5px,#f8ff00 71.5px,#e3ff00 74.5px,#c8ff00 79.5px,#a3ff00 83.5px,#8aff00 88.5px,#82ff00 89.5px,#45ff00 94.5px,#00ff00 95.5px,#00ff00 144.5px,#00ff1c 145.5px,#00ff51 146.5px,#00ff65 147.5px,#00ff86 152.5px,#00ffa2 161.5px,#00ffe1 166.5px,#00fdff 175.5px,#00e9ff 182.5px,#00d0ff 194.5px,#0090ff 240.5px,#0079ff 267.5px,#004eff 295.5px,#0010ff 342.5px,#0000ff 370.5px,#2e00ff 440.5px,#7800ff 535.5px,#8000f8 565.5px,#9000e0 777.5px,#9800c8 961.5px,#9600a9 1279px)"></div>
<div style="height:4px;background:linear-gradient(90deg,#ff0000 0px,#ff0000 44.5px,#ff0800 45.5px,#ff1b00 46.5px,#ff4d00 48.5px,#ff6d00 50.5px,#ff7700 51.5px,#ff9500 56.5px,#ffe000 65.5px,#fffe00 70.5px,#f9ff00 71.5px,#ddff00 75.5px,#c8ff00 79.5px,#a4ff00 83.5px,#84ff00 89.5px,#47ff00 94.5px,#0bff00 95.5px,#00ff00 96.5px,#00ff00 144.5px,#00ff0f 145.5px,#00ff44 146.5px,#00ff63 147.5px,#00ff89 153.5px,#00ff9f 161.5px,#00ffdf 166.5px,#00feff 175.5px,#00e7ff 183.5px,#00cfff 195.5px,#0091ff 240.5px,#0079ff 268.5px,#004dff 296.5px,#0010ff 343.5px,#0000ff 371.5px,#2e00ff 441.5px,#7800ff 537.5px,#8000f8 567.5px,#9000e0 781.5px,#9800c8 965.5px,#9600a9 1279px)"></div>
<div style="height:4px;background:linear-gradient(90deg,#ff0000 0px,#ff0000 44.5px,#ff0700 45.5px,#ff1a00 46.5px,#ff4c00 48.5px,#ff6c00 50.5px,#ff7700 51.5px,#ff9400 56.5px,#ffe000 65.5px,#fffe00 70.5px,#f9ff00 71.5px,#deff00 75.5px,#c9ff00 79.5px,#9eff00 84.5px,#86ff00 89.5px,#4aff00 94.5px,#00ff00 96.5px,#00ff00 144.5px,#00ff03 145.5px,#00ff37 146.5px,#00ff61 147.5px,#00ff88 153.5px,#00ff9e 161.5px,#00ffa6 162.5px,#00ffda 166.5px,#00ffe2 167.5px,#00ffff 175.5px,#00fcff 176.5px,#00e8ff 183.5px,#00d0ff 195.5px,#0090ff 241.5px,#0078ff 269.5px,#004eff 296.5px,#0010ff 344.5px,#0000ff 372.5px,#2e00ff 442.5px,#7800ff 539.5px,#8000f8 569.5px,#9000e0 784.5px,#9800c8 969.5px,#9600aa 1279px)"></div>
<div style="height:4px;background:linear-gradient(90deg,#ff0000 0px,#ff0000 44.5px,#ff0500 45.5px,#ff1800 46.5px,#ff4b00 48.5px,#ff6b00 50.5px,#ff7600 51.5px,#ff9300 56.5px,#ffdf00 65.5px,#fffe00 70.5px,#f9ff00 71.5px,#deff00 75.5px,#c9ff00 79.5px,#9eff00 84.5px,#87ff00 89.5px,#4cff00 94.5px,#3bff00 95.5px,#00ff00 96.5px,#00ff00 145.5px,#00ff2a 146.5px,#00ff5e 147.5px,#00ff66 148.5px,#00ff87 153.5px,#00ffa2 162.5px,#00ffe1 167.5px,#00feff 176.5px,#00e7ff 184.5px,#00cfff 196.5px,#0091ff 241.5px,#0079ff 269.5px,#004dff 297.5px,#0010ff 345.5px,#0000ff 373.5px,#2e00ff 444.5px,#7700ff 540.5px,#8000f8 571.5px,#9000e0 788.5px,#9800c8 973.5px,#9600aa 1279px)"></div>
<div style="height:4px;background:linear-gradient(90deg,#ff0000 0px,#ff0000 44.5px,#ff0400 45.5px,#ff1700 46.5px,#ff4a00 48.5px,#ff6b00 50.5px,#ff7600 51.5px,#ff9300 56.5px,#ffdf00 65.5px,#fffe00 70.5px,#faff00 71.5px,#deff00 75.5px,#caff00 79.5px,#9fff00 84.5px,#88ff00 89.5px,#42ff00 95.5px,#00ff00 96.5px,#00ff00 145.5px,#00ff1d 146.5px,#00ff51 147.5px,#00ff65 148.5px,#00ff89 154.5px,#00ff9f 162.5px,#00ffde 167.5px,#00ffff 176.5px,#00e8ff 184.5px,#00d0ff 196.5px,#0090ff 242.5px,#0079ff 270.5px,#004dff 298.5px,#0011ff 345.5px,#0000ff 374.5px,#2e00ff 445.5px,#7800ff 542.5px,#8000f8 573.5px,#9000e0 791.5px,#9800c8 977.5px,#9600aa 1279px)"></div>
<div style="height:4px;background:linear-gradient(90deg,#ff0000 0px,#ff0200 45.5px,#ff2d00 47.5px,#ff4900 48.5px,#ff6a00 50.5px,#ff7500 51.5px,#ff9200 56.5px,#ffdf00 65.5px,#fffd00 70.5px,#faff00 71.5px,#dfff00 75.5px,#caff00 79.5px,#9fff00 84.5px,#89ff00 89.5px,#44ff00 95.5px,#00ff00 96.5px,#00ff00 145.5px,#00ff11 146.5px,#00ff44 147.5px,#00ff63 148.5px,#00ff89 154.5px,#00ff9f 162.5px,#00ffa6 163.5px,#00ffd9 167.5px,#00ffe2 168.5px,#00fdff 177.5px,#00e7ff 185.5px,#00cfff 197.5px,#0090ff 243.5px,#0078ff 271.5px,#004dff 298.5px,#0011ff 346.5px,#0000ff 375.5px,#4000ff 471.5px,#7800ff 544.5px,#8000f8 575.5px,#9000e0 795.5px,#9800c8 981.5px,#9600ab 1279px)"></div>
<div style="height:4px;background:linear-gradient(90deg,#ff0000 0px,#ff0100 45.5px,#ff2b00 47.5px,#ff4700 48.5px,#ff6900 50.5px,#ff7500 51.5px,#ff8300 53.5px,#ff9100 56.5px,#ffde00 65.5px,#fffd00 70.5px,#faff00 71.5px,#dfff00 75.5px,#cbff00 79.5px,#a0ff00 84.5px,#8aff00 89.5px,#81ff00 90.5px,#46ff00 95.5px,#00ff00 96.5px,#00ff00 145.5px,#00ff05 146.5px,#00ff38 147.5px,#00ff61 148.5px,#00ff88 154.5px,#00ffa2 163.5px,#00ffe0 168.5px,#00feff 177.5px,#00e8ff 185.5px,#00d0ff 197.5px,#0091ff 243.5px,#0079ff 271.5px,#004dff 299.5px,#0010ff 347.5px,#0000ff 376.5px,#4000ff 473.5px,#7800ff 546.5px,#8000f8 577.5px,#9000e0 799.5px,#9800c8 984.5px,#9600ab 1279px)"></div>
<div style="height:4px;background:linear-gradient(90deg,#ff0000 0px,#ff0000 45.5px,#ff2900 47.5px,#ff4600 48.5px,#ff6800 50.5px,#ff7500 51.5px,#ff8200 53.5px,#ff9000 56.5px,#ffde00 65.5px,#fffd00 70.5px,#fbff00 71.5px,#dfff00 75.5px,#c4ff00 80.5px,#a1ff00 84.5px,#8aff00 89.5px,#82ff00 90.5px,#48ff00 95.5px,#11ff00 96.5px,#00ff00 97.5px,#00ff00 146.5px,#00ff2b 147.5px,#00ff5e 148.5px,#00ff66 149.5px,#00ff86 154.5px,#00ff9f 163.5px,#00ffdd 168.5px,#00ffe3 169.5px,#00ffff 177.5px,#00fdff 178.5px,#00e7ff 186.5px,#00cfff 198.5px,#0090ff 244.5px,#0078ff 272.5px,#0066ff 282.5px,#004eff 299.5px,#0010ff 348.5px,#0000ff 377.5px,#3f00ff 474.5px,#7800ff 548.5px,#8000f8 579.5px,#9000e0 802.5px,#9800c8 988.5px,#9700ac 1279px)"></div>
<div style="height:4px;background:linear-gradient(90deg,#ff0000 0px,#ff0000 45.5px,#ff2700 47.5px,#ff4400 48.5px,#ff6700 50.5px,#ff7400 51.5px,#ff8200 53.5px,#ff9000 56.5px,#ffdd00 65.5px,#fffc00 70.5px,#fbff00 71.5px,#e0ff00 75.5px,#c5ff00 80.5px,#a2ff00 84.5px,#84ff00 90.5px,#4aff00 95.5px,#28ff00 96.5px,#00ff00 97.5px,#00ff00 146.5px,#00ff1f 147.5px,#00ff51 148.5px,#00ff64 149.5px,#00ff89 155.5px,#00ff9f 163.5px,#00ffa6 164.5px,#00ffd8 168.5px,#00ffe1 169.5px,#00feff 178.5px,#00e8ff 186.5px,#00d0ff 198.5px,#0091ff 244.5px,#0079ff 272.5px,#0065ff 283.5px,#004dff 300.5px,#0010ff 349.5px,#0000ff 378.5px,#4000ff 476.5px,#7800ff 549.5px,#8000f8 582.5px,#9000e0 806.5px,#9800c8 992.5px,#9700ac 1279px)"></div>
<div style="height:4px;background:linear-gradient(90deg,#ff0000 0px,#ff0000 45.5px,#ff1000 46.5px,#ff2500 47.5px,#ff4200 48.5px,#ff5500 49.5px,#ff7400 51.5px,#ff8200 53.5px,#ff8f00 56.5px,#ffdd00 65.5px,#fffc00 70.5px,#fbff00 71.5px,#e0ff00 75.5px,#c6ff00 80.5px,#a3ff00 84.5px,#86ff00 90.5px,#3fff00 96.5px,#00ff00 97.5px,#00ff00 146.5px,#00ff13 147.5px,#00ff45 148.5px,#00ff63 149.5px,#00ff88 155.5px,#00ffa2 164.5px,#00ffe0 169.5px,#00ffff 178.5px,#00e9ff 186.5px,#00cfff 199.5px,#0090ff 245.5px,#0079ff 273.5px,#0066ff 283.5px,#004eff 300.5px,#0010ff 350.5px,#0000ff 379.5px,#4000ff 478.5px,#7800ff 551.5px,#8000f8 584.5px,#9000e0 809.5px,#9800c8 996.5px,#9700ad 1279px)"></div>
<div style="height:4px;background:linear-gradient(90deg,#ff0000 0px,#ff0000 45.5px,#ff0e00 46.5px,#ff2300 47.5px,#ff4000 48.5px,#ff5400 49.5px,#ff7300 51.5px,#ff8200 53.5px,#ff8f00 56.5px,#ffdc00 65.5px,#fffc00 70.5px,#fcff00 71.5px,#e0ff00 75.5px,#c7ff00 80.5px,#9dff00 85.5px,#87ff00 90.5px,#42ff00 96.5px,#00ff00 97.5px,#00ff00 146.5px,#00ff06 147.5px,#00ff38 148.5px,#00ff61 149.5px,#00ff87 155.5px,#00ff9f 164.5px,#00ffdc 169.5px,#00ffe2 170.5px,#00fdff 179.5px,#00e8ff 187.5px,#00d0ff 199.5px,#0090ff 246.5px,#007aff 273.5px,#0065ff 284.5px,#004dff 301.5px,#0010ff 351.5px,#0000ff 380.5px,#4000ff 479.5px,#7800ff 553.5px,#8000f8 586.5px,#9000e0 813.5px,#9800c8 1000.5px,#9700ad 1279px)"></div>
<div style="height:4px;background:linear-gradient(90deg,#ff0000 0px,#ff0000 45.5px,#ff0d00 46.5px,#ff2100 47.5px,#ff3e00 48.5px,#ff5300 49.5px,#ff7300 51.5px,#ff8100 53.5px,#ff8f00 56.5px,#ffdc00 65.5px,#fcff00 71.5px,#e1ff00 75.5px,#c8ff00 80.5px,#9eff00 85.5px,#88ff00 90.5px,#44ff00 96.5px,#00ff00 97.5px,#00ff00 147.5px,#00ff2c 148.5px,#00ff5e 149.5px,#00ff66 150.5px,#00ff89 156.5px,#00ff9f 164.5px,#00ffa6 165.5px,#00ffe1 170.5px,#00feff 179.5px,#00e9ff 187.5px,#00cfff 200.5px,#0091ff 246.5px,#0080ff 269.5px,#004eff 301.5px,#0010ff 352.5px,#0000ff 381.5px,#4000ff 481.5px,#7800ff 555.5px,#8000f8 588.5px,#9000e0 816.5px,#9800c8 1004.5px,#9700ad 1279px)"></div>
<div style="height:4px;background:linear-gradient(90deg,#ff0000 0px,#ff0000 45.5px,#ff0b00 46.5px,#ff1f00 47.5px,#ff3c00 48.5px,#ff5200 49.5px,#ff7200 51.5px,#ff8100 53.5px,#ff8e00 56.5px,#ffdb00 65.5px,#fcff00 71.5px,#e1ff00 75.5px,#c8ff00 80.5px,#9eff00 85.5px,#89ff00 90.5px,#46ff00 96.5px,#00ff00 97.5px,#00ff00 147.5px,#00ff20 148.5px,#00ff51 149.5px,#00ff64 150.5px,#00ff89 156.5px,#00ffa2 165.5px,#00ffdf 170.5px,#00ffff 179.5px,#00fdff 180.5px,#00e7ff 188.5px,#00d0ff 200.5px,#0090ff 247.5px,#0080ff 270.5px,#004dff 302.5px,#0011ff 352.5px,#0000ff 382.5px,#4000ff 483.5px,#7800ff 557.5px,#8000f8 590.5px,#9000e0 820.5px,#9800c8 1008.5px,#9700ae 1279px)"></div>
<div style="height:4px;background:linear-gradient(90deg,#ff0000 0px,#ff0000 45.5px,#ff0900 46.5px,#ff1e00 47.5px,#ff3a00 48.5px,#ff5100 49.5px,#ff7200 51.5px,#ff8100 53.5px,#ff9500 57.5px,#ffdb00 65.5px,#fdff00 71.5px,#e2ff00 75.5px,#c9ff00 80.5px,#9fff00 85.5px,#8aff00 90.5px,#81ff00 91.5px,#48ff00 96.5px,#16ff00 97.5px,#00ff00 98.5px,#00ff00 147.5px,#00ff14 148.5px,#00ff45 149.5px,#00ff63 150.5px,#00ff88 156.5px,#00ff9f 165.5px,#00ffdb 170.5px,#00ffe2 171.5px,#00feff 180.5px,#00e8ff 188.5px,#00cfff 201.5px,#0091ff 247.5px,#007fff 271.5px,#0066ff 285.5px,#004dff 303.5px,#0011ff 353.5px,#0000ff 383.5px,#4000ff 484.5px,#7800ff 558.5px,#8000f8 592.5px,#9000e0 823.5px,#9800c8 1011.5px,#9700ae 1279px)"></div>
<div style="height:4px;background:linear-gradient(90deg,#ff0000 0px,#ff0000 45.5px,#ff0800 46.5px,#ff1c00 47.5px,#ff5000 49.5px,#ff7200 51.5px,#ff8000 53.5px,#ff9400 57.5px,#ffda00 65.5px,#fdff00 71.5px,#e2ff00 75.5px,#c9ff00 80.5px,#9fff00 85.5px,#8aff00 90.5px,#82ff00 91.5px,#4aff00 96.5px,#2dff00 97.5px,#00ff00 98.5px,#00ff00 147.5px,#00ff08 148.5px,#00ff39 149.5px,#00ff61 150.5px,#00ff86 156.5px,#00ff9f 165.5px,#00ffa6 166.5px,#00ffe1 171.5px,#00ffff 180.5px,#00e7ff 189.5px,#00d0ff 201.5px,#0090ff 248.5px,#007fff 272.5px,#0066ff 286.5px,#004dff 303.5px,#0010ff 354.5px,#0000ff 384.5px,#4000ff 486.5px,#7800ff 560.5px,#8000f8 594.5px,#9000e0 827.5px,#9800c8 1015.5px,#9800af 1279px)"></div>
<div style="height:4px;background:linear-gradient(90deg,#ff0000 0px,#ff0000 45.5px,#ff0600 46.5px,#ff1b00 47.5px,#ff4f00 49.5px,#ff7100 51.5px,#ff8000 53.5px,#ff9300 57.5px,#ffda00 65.5px,#fdff00 71.5px,#e3ff00 75.5px,#caff00 80.5px,#a0ff00 85.5px,#84ff00 91.5px,#40ff00 97.5px,#00ff00 98.5px,#00ff00 148.5px,#00ff5e 150.5px,#00ff66 151.5px,#00ff89 157.5px,#00ffa2 166.5px,#00ffde 171.5px,#00fdff 181.5px,#00e8ff 189.5px,#00d0ff 202.5px,#0090ff 249.5px,#0080ff 272.5px,#0067ff 286.5px,#004dff 304.5px,#0010ff 355.5px,#0000ff 385.5px,#4000ff 488.5px,#7800ff 562.5px,#8000f8 596.5px,#9000e0 831.5px,#9800c8 1019.5px,#9800af 1279px)"></div>
<div style="height:4px;background:linear-gradient(90deg,#ff0000 0px,#ff0000 45.5px,#ff0500 46.5px,#ff1900 47.5px,#ff4e00 49.5px,#ff7100 51.5px,#ff8000 53.5px,#ff9200 57.5px,#ffd900 65.5px,#feff00 71.5px,#e3ff00 75.5px,#caff00 80.5px,#a1ff00 85.5px,#86ff00 91.5px,#42ff00 97.5px,#00ff00 98.5px,#00ff00 148.5px,#00ff21 149.5px,#00ff52 150.5px,#00ff64 151.5px,#00ff88 157.5px,#00ff9f 166.5px,#00ffda 171.5px,#00ffe2 172.5px,#00feff 181.5px,#00e7ff 190.5px,#00d0ff 202.5px,#0091ff 249.5px,#0080ff 273.5px,#0066ff 287.5px,#004dff 304.5px,#0010ff 356.5px,#0000ff 386.5px,#4000ff 489.5px,#7800ff 564.5px,#8000f8 598.5px,#9000e0 834.5px,#9800c8 1023.5px,#9800af 1279px)"></div>
<div style="height:4px;background:linear-gradient(90deg,#ff0000 0px,#ff0000 45.5px,#ff0300 46.5px,#ff1800 47.5px,#ff4d00 49.5px,#ff7000 51.5px,#ff7f00 53.5px,#ff9200 57.5px,#ffe000 66.5px,#feff00 71.5px,#deff00 76.5px,#caff00 80.5px,#a2ff00 85.5px,#87ff00 91.5px,#44ff00 97.5px,#00ff00 98.5px,#00ff00 148.5px,#00ff16 149.5px,#00ff46 150.5px,#00ff63 151.5px,#00ff87 157.5px,#00ff9f 166.5px,#00ffa6 167.5px,#00ffe0 172.5px,#00fdff 182.5px,#00e8ff 190.5px,#00c1ff 213.5px,#0090ff 250.5px,#0080ff 274.5px,#0065ff 288.5px,#0031ff 327.5px,#0010ff 357.5px,#0000ff 387.5px,#4000ff 491.5px,#7800ff 565.5px,#8000f8 600.5px,#9000e0 838.5px,#9800c8 1027.5px,#9800b0 1279px)"></div>
<div style="height:4px;background:linear-gradient(90deg,#ff0000 0px,#ff0100 46.5px,#ff1600 47.5px,#ff4c00 49.5px,#ff6f00 51.5px,#ff7f00 53.5px,#ff9100 57.5px,#ffe000 66.5px,#feff00 71.5px,#deff00 76.5px,#c5ff00 81.5px,#a3ff00 85.5px,#88ff00 91.5px,#46ff00 97.5px,#06ff00 98.5px,#00ff00 99.5px,#00ff00 148.5px,#00ff0a 149.5px,#00ff3a 150.5px,#00ff61 151.5px,#00ff89 158.5px,#00ffa2 167.5px,#00ffdd 172.5px,#00ffe3 173.5px,#00feff 182.5px,#00e7ff 191.5px,#00c0ff 214.5px,#0090ff 251.5px,#0081ff 274.5px,#0066ff 288.5px,#0033ff 326.5px,#0010ff 358.5px,#0000ff 388.5px,#4000ff 493.5px,#7800ff 567.5px,#8000f8 602.5px,#9000e0 841.5px,#9800c8 1031.5px,#9800b0 1279px)"></div>
<div style="height:4px;background:linear-gradient(90deg,#ff0000 0px,#ff0000 46.5px,#ff1500 47.5px,#ff4b00 49.5px,#ff6e00 51.5px,#ff7e00 53.5px,#ff9000 57.5px,#ffe000 66.5px,#feff00 71.5px,#deff00 76.5px,#c5ff00 81.5px,#9eff00 86.5px,#89ff00 91.5px,#48ff00 97.5px,#1cff00 98.5px,#00ff00 99.5px,#00ff00 149.5px,#00ff5e 151.5px,#00ff66 152.5px,#00ff89 158.5px,#00ff9f 167.5px,#00ffd9 172.5px,#00ffe1 173.5px,#00ffff 182.5px,#00e8ff 191.5px,#00d0ff 204.5px,#0090ff 251.5px,#0080ff 275.5px,#0066ff 289.5px,#004dff 306.5px,#0010ff 359.5px,#0000ff 389.5px,#4000ff 494.5px,#7800ff 569.5px,#8000f8 604.5px,#9000e0 846.5px,#9800c8 1036.5px,#9800b1 1279px)"></div>
<div style="height:4px;background:linear-gradient(90deg,#ff0000 0px,#ff0000 46.5px,#ff1300 47.5px,#ff2c00 48.5px,#ff4900 49.5px,#ff6d00 51.5px,#ff7e00 53.5px,#ff9000 57.5px,#ffdf00 66.5px,#ffff00 71.5px,#dfff00 76.5px,#c6ff00 81.5px,#9eff00 86.5px,#89ff00 91.5px,#81ff00 92.5px,#4aff00 97.5px,#32ff00 98.5px,#00ff00 99.5px,#00ff00 149.5px,#00ff23 150.5px,#00ff52 151.5px,#00ff64 152.5px,#00ff88 158.5px,#00ff9f 167.5px,#00ffa6 168.5px,#00ffe0 173.5px,#00fdff 183.5px,#00e9ff 191.5px,#00d1ff 204.5px,#0090ff 252.5px,#0080ff 276.5px,#0066ff 290.5px,#004dff 308.5px,#0010ff 361.5px,#0000ff 390.5px,#4000ff 495.5px,#7800ff 570.5px,#8000f8 605.5px,#9000e0 855.5px,#9800c8 1043.5px,#9800b1 1279px)"></div>
<div style="height:4px;background:linear-gradient(90deg,#ff0000 0px,#ff0000 46.5px,#ff1100 47.5px,#ff2a00 48.5px,#ff4800 49.5px,#ff6c00 51.5px,#ff7600 52.5px,#ff8f00 57.5px,#ffdf00 66.5px,#ffff00 71.5px,#f9ff00 72.5px,#dfff00 76.5px,#c7ff00 81.5px,#9fff00 86.5px,#8aff00 91.5px,#82ff00 92.5px,#41ff00 98.5px,#00ff00 99.5px,#00ff00 149.5px,#00ff17 150.5px,#00ff46 151.5px,#00ff63 152.5px,#00ff86 158.5px,#00ffa2 168.5px,#00ffdc 173.5px,#00ffff 183.5px,#00e8ff 192.5px,#00d0ff 205.5px,#0091ff 252.5px,#0080ff 277.5px,#0066ff 291.5px,#004dff 309.5px,#0010ff 363.5px,#0000ff 391.5px,#4000ff 496.5px,#7800ff 571.5px,#8000f8 607.5px,#9000e0 863.5px,#9800c8 1050.5px,#9800b2 1279px)"></div>
<div style="height:4px;background:linear-gradient(90deg,#ff0000 0px,#ff0000 46.5px,#ff1000 47.5px,#ff2700 48.5px,#ff4600 49.5px,#ff6b00 51.5px,#ff7600 52.5px,#ff8200 54.5px,#ff8f00 57.5px,#ffde00 66.5px,#ffff00 71.5px,#f9ff00 72.5px,#dfff00 76.5px,#c8ff00 81.5px,#9fff00 86.5px,#84ff00 92.5px,#43ff00 98.5px,#00ff00 99.5px,#00ff00 149.5px,#00ff0c 150.5px,#00ff3b 151.5px,#00ff61 152.5px,#00ff89 159.5px,#00ffa0 168.5px,#00ffe1 174.5px,#00fdff 184.5px,#00e9ff 192.5px,#00d1ff 205.5px,#0090ff 253.5px,#0080ff 278.5px,#0065ff 293.5px,#004dff 311.5px,#0010ff 365.5px,#0000ff 393.5px,#4000ff 497.5px,#7800ff 572.5px,#8000f8 609.5px,#9000e0 871.5px,#9800c8 1056.5px,#9800b3 1279px)"></div>
<div style="height:4px;background:linear-gradient(90deg,#ff0000 0px,#ff0000 46.5px,#ff0e00 47.5px,#ff2500 48.5px,#ff4400 49.5px,#ff5800 50.5px,#ff6a00 51.5px,#ff7500 52.5px,#ff8200 54.5px,#ff8f00 57.5px,#ffde00 66.5px,#fffe00 71.5px,#f9ff00 72.5px,#e0ff00 76.5px,#c8ff00 81.5px,#a0ff00 86.5px,#86ff00 92.5px,#44ff00 98.5px,#00ff00 99.5px,#00ff00 150.5px,#00ff5e 152.5px,#00ff66 153.5px,#00ff88 159.5px,#00ff9f 168.5px,#00ffa5 169.5px,#00ffe0 174.5px,#00feff 184.5px,#00e7ff 193.5px,#00d0ff 206.5px,#0091ff 253.5px,#0080ff 278.5px,#0065ff 294.5px,#004dff 312.5px,#0010ff 367.5px,#0000ff 394.5px,#4000ff 498.5px,#7800ff 573.5px,#8000f8 610.5px,#9000e0 879.5px,#9800c8 1063.5px,#9800b3 1279px)"></div>
<div style="height:4px;background:linear-gradient(90deg,#ff0000 0px,#ff0000 46.5px,#ff0d00 47.5px,#ff2300 48.5px,#ff4200 49.5px,#ff5700 50.5px,#ff6900 51.5px,#ff7500 52.5px,#ff8200 54.5px,#ff8e00 57.5px,#ffc100 63.5px,#ffde00 66.5px,#fffe00 71.5px,#faff00 72.5px,#e0ff00 76.5px,#c9ff00 81.5px,#a0ff00 86.5px,#87ff00 92.5px,#46ff00 98.5px,#0bff00 99.5px,#00ff00 100.5px,#00ff00 150.5px,#00ff24 151.5px,#00ff52 152.5px,#00ff64 153.5px,#00ff87 159.5px,#00ffa2 169.5px,#00ffdc 174.5px,#00ffe2 175.5px,#00ffff 184.5px,#00e8ff 193.5px,#00cfff 207.5px,#0091ff 254.5px,#0080ff 279.5px,#0066ff 295.5px,#004dff 314.5px,#0011ff 368.5px,#0000ff 395.5px,#4000ff 499.5px,#7800ff 575.5px,#8000f8 612.5px,#9000e0 888.5px,#9800c8 1070.5px,#9800b4 1279px)"></div>
<div style="height:4px;background:linear-gradient(90deg,#ff0000 0px,#ff0000 46.5px,#ff0b00 47.5px,#ff2100 48.5px,#ff4000 49.5px,#ff5600 50.5px,#ff6800 51.5px,#ff7500 52.5px,#ff9500 58.5px,#ffdd00 66.5px,#fffe00 71.5px,#faff00 72.5px,#e1ff00 76.5px,#c9ff00 81.5px,#a1ff00 86.5px,#88ff00 92.5px,#48ff00 98.5px,#21ff00 99.5px,#00ff00 100.5px,#00ff00 150.5px,#00ff18 151.5px,#00ff47 152.5px,#00ff63 153.5px,#00ff89 160.5px,#00ffa0 169.5px,#00ffe1 175.5px,#00feff 185.5px,#00e7ff 194.5px,#00d0ff 207.5px,#0091ff 255.5px,#0080ff 280.5px,#0066ff 296.5px,#004dff 315.5px,#0011ff 370.5px,#0000ff 396.5px,#4000ff 500.5px,#7800ff 576.5px,#8000f8 613.5px,#9000e0 896.5px,#9800c8 1077.5px,#9800b5 1279px)"></div>
<div style="height:4px;background:linear-gradient(90deg,#ff0000 0px,#ff0000 46.5px,#ff0900 47.5px,#ff1f00 48.5px,#ff3e00 49.5px,#ff5500 50.5px,#ff6700 51.5px,#ff7400 52.5px,#ff8100 54.5px,#ff9400 58.5px,#ffdd00 66.5px,#fffd00 71.5px,#faff00 72.5px,#e1ff00 76.5px,#caff00 81.5px,#a2ff00 86.5px,#89ff00 92.5px,#4aff00 98.5px,#37ff00 99.5px,#00ff00 100.5px,#00ff00 150.5px,#00ff0d 151.5px,#00ff3b 152.5px,#00ff61 153.5px,#00ff89 160.5px,#00ff9f 169.5px,#00ffa5 170.5px,#00ffdf 175.5px,#00ffff 185.5px,#00e8ff 194.5px,#00cfff 208.5px,#0090ff 256.5px,#0080ff 281.5px,#0066ff 297.5px,#004eff 316.5px,#0011ff 372.5px,#0000ff 398.5px,#4000ff 501.5px,#7800ff 577.5px,#8000f8 615.5px,#9000e0 904.5px,#9800c8 1084.5px,#9800b5 1279px)"></div>
<div style="height:4px;background:linear-gradient(90deg,#ff0000 0px,#ff0000 46.5px,#ff0800 47.5px,#ff1e00 48.5px,#ff3c00 49.5px,#ff5400 50.5px,#ff7400 52.5px,#ff8100 54.5px,#ff9300 58.5px,#ffdc00 66.5px,#fffd00 71.5px,#fbff00 72.5px,#e2ff00 76.5px,#caff00 81.5px,#a3ff00 86.5px,#89ff00 92.5px,#81ff00 93.5px,#41ff00 99.5px,#00ff00 100.5px,#00ff01 151.5px,#00ff5d 153.5px,#00ff65 154.5px,#00ff88 160.5px,#00ffa2 170.5px,#00ffdb 175.5px,#00ffe2 176.5px,#00fdff 186.5px,#00e7ff 195.5px,#00d0ff 208.5px,#0090ff 257.5px,#0080ff 282.5px,#0065ff 299.5px,#004dff 318.5px,#0010ff 374.5px,#0000ff 399.5px,#4000ff 502.5px,#7800ff 578.5px,#8000f8 616.5px,#9000e0 912.5px,#9800c8 1091.5px,#9800b6 1279px)"></div>
<div style="height:4px;background:linear-gradient(90deg,#ff0000 0px,#ff0000 46.5px,#ff0600 47.5px,#ff1c00 48.5px,#ff3a00 49.5px,#ff5300 50.5px,#ff7300 52.5px,#ff8100 54.5px,#ff9300 58.5px,#ffdb00 66.5px,#fffc00 71.5px,#fbff00 72.5px,#e3ff00 76.5px,#c5ff00 82.5px,#9eff00 87.5px,#84ff00 93.5px,#45ff00 99.5px,#00ff00 100.5px,#00ff00 151.5px,#00ff23 152.5px,#00ff51 153.5px,#00ff64 154.5px,#00ff86 160.5px,#00ffa0 170.5px,#00ffe1 176.5px,#00feff 186.5px,#00e8ff 195.5px,#00d0ff 209.5px,#0090ff 258.5px,#007fff 283.5px,#0065ff 300.5px,#004dff 320.5px,#0010ff 376.5px,#0000ff 400.5px,#4000ff 504.5px,#7800ff 579.5px,#8000f8 618.5px,#9000e0 921.5px,#9800c8 1098.5px,#9800b7 1279px)"></div>
<div style="height:4px;background:linear-gradient(90deg,#ff0000 0px,#ff0000 46.5px,#ff0500 47.5px,#ff1b00 48.5px,#ff5100 50.5px,#ff7300 52.5px,#ff8100 54.5px,#ff9200 58.5px,#ffda00 66.5px,#fffc00 71.5px,#fcff00 72.5px,#deff00 77.5px,#c7ff00 82.5px,#a0ff00 87.5px,#88ff00 93.5px,#4aff00 99.5px,#3cff00 100.5px,#00ff00 101.5px,#00ff00 151.5px,#00ff18 152.5px,#00ff45 153.5px,#00ff62 154.5px,#00ff89 161.5px,#00ff9f 170.5px,#00ffa5 171.5px,#00ffde 176.5px,#00ffff 186.5px,#00e7ff 196.5px,#00d1ff 209.5px,#0091ff 258.5px,#007fff 284.5px,#0066ff 301.5px,#004dff 321.5px,#0010ff 378.5px,#0000ff 401.5px,#4000ff 505.5px,#7800ff 580.5px,#8000f8 620.5px,#9000e0 929.5px,#9800c8 1105.5px,#9800b7 1279px)"></div>
<div style="height:4px;background:linear-gradient(90deg,#ff0000 0px,#ff0000 46.5px,#ff0300 47.5px,#ff1900 48.5px,#ff5000 50.5px,#ff7200 52.5px,#ff8000 54.5px,#ff9200 58.5px,#ffda00 66.5px,#fdff00 72.5px,#dfff00 77.5px,#c9ff00 82.5px,#a2ff00 87.5px,#8aff00 93.5px,#82ff00 94.5px,#45ff00 100.5px,#02ff00 101.5px,#00ff00 102.5px,#00ff00 151.5px,#00ff0c 152.5px,#00ff39 153.5px,#00ff61 154.5px,#00ff88 161.5px,#00ffa2 171.5px,#00ffda 176.5px,#00ffe2 177.5px,#00feff 187.5px,#00e8ff 196.5px,#00d0ff 210.5px,#0091ff 259.5px,#0080ff 284.5px,#004dff 323.5px,#0010ff 380.5px,#0000ff 402.5px,#4000ff 506.5px,#7800ff 582.5px,#8000f8 621.5px,#9000e0 937.5px,#9800c8 1112.5px,#9800b8 1279px)"></div>
<div style="height:4px;background:linear-gradient(90deg,#ff0000 0px,#ff0200 47.5px,#ff1700 48.5px,#ff4f00 50.5px,#ff7200 52.5px,#ff8000 54.5px,#ff9100 58.5px,#ffd900 66.5px,#fdff00 72.5px,#e0ff00 77.5px,#caff00 82.5px,#9eff00 88.5px,#87ff00 94.5px,#3fff00 101.5px,#00ff00 102.5px,#00ff01 152.5px,#00ff5b 154.5px,#00ff65 155.5px,#00ff87 161.5px,#00ffa0 171.5px,#00ffe0 177.5px,#00ffff 187.5px,#00e7ff 197.5px,#00cfff 211.5px,#0090ff 260.5px,#0080ff 285.5px,#004dff 324.5px,#0010ff 382.5px,#0000ff 404.5px,#4000ff 507.5px,#7800ff 583.5px,#8000f8 623.5px,#9000e0 946.5px,#9800c8 1119.5px,#9800b9 1279px)"></div>
<div style="height:4px;background:linear-gradient(90deg,#ff0000 0px,#ff0000 47.5px,#ff1600 48.5px,#ff4d00 50.5px,#ff7100 52.5px,#ff8000 54.5px,#ff9000 58.5px,#ffe000 67.5px,#feff00 72.5px,#e0ff00 77.5px,#c5ff00 83.5px,#a0ff00 88.5px,#89ff00 94.5px,#45ff00 101.5px,#07ff00 102.5px,#00ff00 103.5px,#00ff00 152.5px,#00ff22 153.5px,#00ff4f 154.5px,#00ff63 155.5px,#00ff89 162.5px,#00ff9f 171.5px,#00ffa5 172.5px,#00ffde 177.5px,#00ffe2 178.5px,#00fdff 188.5px,#00e8ff 197.5px,#00d0ff 211.5px,#0090ff 261.5px,#0080ff 286.5px,#004dff 326.5px,#0010ff 384.5px,#0000ff 405.5px,#4000ff 508.5px,#7800ff 584.5px,#8000f8 624.5px,#9000e0 954.5px,#9800c8 1126.5px,#9800b9 1279px)"></div>
<div style="height:4px;background:linear-gradient(90deg,#ff0000 0px,#ff0000 47.5px,#ff1400 48.5px,#ff4c00 50.5px,#ff7100 52.5px,#ff7f00 54.5px,#ff9000 58.5px,#ffe000 67.5px,#feff00 72.5px,#e1ff00 77.5px,#c7ff00 83.5px,#a1ff00 88.5px,#85ff00 95.5px,#40ff00 102.5px,#00ff00 103.5px,#00ff00 152.5px,#00ff17 153.5px,#00ff43 154.5px,#00ff62 155.5px,#00ff88 162.5px,#00ffa2 172.5px,#00ffda 177.5px,#00ffe1 178.5px,#00feff 188.5px,#00e7ff 198.5px,#00d0ff 212.5px,#0090ff 262.5px,#0080ff 287.5px,#004dff 327.5px,#0010ff 386.5px,#0000ff 406.5px,#4000ff 509.5px,#7800ff 585.5px,#8000f8 626.5px,#9000e0 962.5px,#9800c8 1133.5px,#9800ba 1279px)"></div>
<div style="height:4px;background:linear-gradient(90deg,#ff0000 0px,#ff0000 47.5px,#ff1300 48.5px,#ff4b00 50.5px,#ff7000 52.5px,#ff7f00 54.5px,#ff9000 58.5px,#ffdf00 67.5px,#ffff00 72.5px,#e2ff00 77.5px,#c8ff00 83.5px,#9eff00 89.5px,#88ff00 95.5px,#45ff00 102.5px,#0bff00 103.5px,#00ff00 104.5px,#00ff00 152.5px,#00ff0b 153.5px,#00ff61 155.5px,#00ff87 162.5px,#00ffa0 172.5px,#00ffe0 178.5px,#00ffff 188.5px,#00e8ff 198.5px,#00d1ff 212.5px,#0091ff 262.5px,#0080ff 288.5px,#004eff 328.5px,#0032ff 357.5px,#0011ff 387.5px,#0000ff 407.5px,#4000ff 510.5px,#7800ff 586.5px,#8000f8 627.5px,#9000e0 970.5px,#9800c8 1139.5px,#9800bb 1279px)"></div>
<div style="height:4px;background:linear-gradient(90deg,#ff0000 0px,#ff0000 47.5px,#ff1100 48.5px,#ff2a00 49.5px,#ff4900 50.5px,#ff6e00 52.5px,#ff7e00 54.5px,#ff8f00 58.5px,#ffdf00 67.5px,#ffff00 72.5px,#f9ff00 73.5px,#deff00 78.5px,#c9ff00 83.5px,#9fff00 89.5px,#8aff00 95.5px,#83ff00 96.5px,#40ff00 103.5px,#00ff00 104.5px,#00ff00 153.5px,#00ff59 155.5px,#00ff65 156.5px,#00ff86 162.5px,#00ff9f 172.5px,#00ffa5 173.5px,#00ffdd 178.5px,#00ffe2 179.5px,#00feff 189.5px,#00e7ff 199.5px,#00d0ff 213.5px,#0091ff 263.5px,#007fff 289.5px,#004dff 330.5px,#0033ff 358.5px,#0011ff 389.5px,#0000ff 409.5px,#4000ff 511.5px,#7800ff 587.5px,#8000f8 629.5px,#8800ec 841.5px,#9000e0 979.5px,#9800c8 1146.5px,#9800bb 1279px)"></div>
<div style="height:4px;background:linear-gradient(90deg,#ff0000 0px,#ff0000 47.5px,#ff1000 48.5px,#ff2800 49.5px,#ff4800 50.5px,#ff6d00 52.5px,#ff7e00 54.5px,#ff8f00 58.5px,#ffde00 67.5px,#fffe00 72.5px,#faff00 73.5px,#dfff00 78.5px,#caff00 83.5px,#a0ff00 89.5px,#86ff00 96.5px,#43ff00 103.5px,#00ff00 104.5px,#00ff00 153.5px,#00ff21 154.5px,#00ff4d 155.5px,#00ff63 156.5px,#00ff89 163.5px,#00ffa2 173.5px,#00ffe1 179.5px,#00ffff 189.5px,#00e8ff 199.5px,#00d0ff 214.5px,#0090ff 264.5px,#007fff 290.5px,#004eff 331.5px,#0000ff 410.5px,#4000ff 512.5px,#7800ff 588.5px,#8000f8 631.5px,#8800ec 848.5px,#9000e0 987.5px,#9800c8 1153.5px,#9800bc 1279px)"></div>
<div style="height:4px;background:linear-gradient(90deg,#ff0000 0px,#ff0000 47.5px,#ff0e00 48.5px,#ff2500 49.5px,#ff4500 50.5px,#ff6c00 52.5px,#ff7600 53.5px,#ff8200 55.5px,#ff8f00 58.5px,#ffde00 67.5px,#fffe00 72.5px,#faff00 73.5px,#dfff00 78.5px,#c5ff00 84.5px,#a2ff00 89.5px,#88ff00 96.5px,#46ff00 103.5px,#19ff00 104.5px,#00ff00 105.5px,#00ff00 153.5px,#00ff16 154.5px,#00ff42 155.5px,#00ff62 156.5px,#00ff88 163.5px,#00ffa0 173.5px,#00ffe0 179.5px,#00fdff 190.5px,#00e9ff 199.5px,#00d0ff 214.5px,#0090ff 265.5px,#0079ff 297.5px,#0065ff 311.5px,#004dff 333.5px,#0033ff 362.5px,#0000ff 411.5px,#4000ff 513.5px,#7800ff 590.5px,#8000f8 632.5px,#8800ec 855.5px,#9000e0 995.5px,#9800c8 1160.5px,#9800bd 1279px)"></div>
<div style="height:4px;background:linear-gradient(90deg,#ff0000 0px,#ff0000 47.5px,#ff0c00 48.5px,#ff2300 49.5px,#ff4300 50.5px,#ff5800 51.5px,#ff6a00 52.5px,#ff7500 53.5px,#ff8200 55.5px,#ff8f00 58.5px,#ffc000 64.5px,#ffdd00 67.5px,#fffd00 72.5px,#fbff00 73.5px,#e0ff00 78.5px,#c7ff00 84.5px,#9eff00 90.5px,#89ff00 96.5px,#81ff00 97.5px,#49ff00 103.5px,#3cff00 104.5px,#00ff00 105.5px,#00ff00 153.5px,#00ff0a 154.5px,#00ff60 156.5px,#00ff87 163.5px,#00ff9f 173.5px,#00ffa5 174.5px,#00ffdc 179.5px,#00ffe2 180.5px,#00feff 190.5px,#00e8ff 200.5px,#00d0ff 215.5px,#0090ff 266.5px,#0079ff 298.5px,#0066ff 312.5px,#004eff 334.5px,#0033ff 364.5px,#0010ff 395.5px,#0000ff 413.5px,#4000ff 515.5px,#7800ff 593.5px,#8000f8 636.5px,#8800ec 862.5px,#9000e0 1003.5px,#9800c8 1167.5px,#9800bd 1279px)"></div>
<div style="height:4px;background:linear-gradient(90deg,#ff0000 0px,#ff0000 47.5px,#ff0b00 48.5px,#ff2100 49.5px,#ff4100 50.5px,#ff5600 51.5px,#ff6900 52.5px,#ff7500 53.5px,#ff9500 59.5px,#ffdd00 67.5px,#fffd00 72.5px,#fbff00 73.5px,#e0ff00 78.5px,#c8ff00 84.5px,#9fff00 90.5px,#84ff00 97.5px,#43ff00 104.5px,#00ff00 105.5px,#00ff00 154.5px,#00ff57 156.5px,#00ff64 157.5px,#00ff89 164.5px,#00ffa2 174.5px,#00ffe1 180.5px,#00ffff 190.5px,#00e9ff 200.5px,#00d1ff 215.5px,#0091ff 266.5px,#0079ff 299.5px,#0066ff 313.5px,#004dff 336.5px,#0033ff 366.5px,#0010ff 397.5px,#0000ff 415.5px,#1f00ff 461.5px,#4000ff 518.5px,#7800ff 599.5px,#8000f8 643.5px,#8800ec 869.5px,#9000e0 1012.5px,#9800c8 1174.5px,#9800be 1279px)"></div>
<div style="height:4px;background:linear-gradient(90deg,#ff0000 0px,#ff0000 47.5px,#ff0900 48.5px,#ff1f00 49.5px,#ff3f00 50.5px,#ff5500 51.5px,#ff6800 52.5px,#ff7400 53.5px,#ff9400 59.5px,#ffdc00 67.5px,#fffc00 72.5px,#fcff00 73.5px,#e1ff00 78.5px,#c9ff00 84.5px,#a0ff00 90.5px,#86ff00 97.5px,#45ff00 104.5px,#15ff00 105.5px,#00ff00 106.5px,#00ff00 154.5px,#00ff20 155.5px,#00ff4b 156.5px,#00ff63 157.5px,#00ff88 164.5px,#00ffa0 174.5px,#00ffdf 180.5px,#00feff 191.5px,#00e8ff 201.5px,#00d0ff 216.5px,#0091ff 267.5px,#0079ff 300.5px,#0066ff 314.5px,#004eff 337.5px,#0033ff 368.5px,#0010ff 399.5px,#0000ff 417.5px,#7800ff 605.5px,#8000f8 650.5px,#8800ec 875.5px,#9000e0 1020.5px,#9800c8 1181.5px,#9800bf 1279px)"></div>
<div style="height:4px;background:linear-gradient(90deg,#ff0000 0px,#ff0000 47.5px,#ff0800 48.5px,#ff1d00 49.5px,#ff3c00 50.5px,#ff5400 51.5px,#ff7400 53.5px,#ff8100 55.5px,#ff9400 59.5px,#ffdb00 67.5px,#fffc00 72.5px,#fcff00 73.5px,#e1ff00 78.5px,#c9ff00 84.5px,#a1ff00 90.5px,#88ff00 97.5px,#48ff00 104.5px,#37ff00 105.5px,#00ff00 106.5px,#00ff00 154.5px,#00ff15 155.5px,#00ff40 156.5px,#00ff61 157.5px,#00ff87 164.5px,#00ff9f 174.5px,#00ffa5 175.5px,#00ffdc 180.5px,#00ffe2 181.5px,#00feff 191.5px,#00e9ff 201.5px,#00d0ff 217.5px,#0090ff 268.5px,#0079ff 301.5px,#0066ff 315.5px,#004dff 339.5px,#0033ff 370.5px,#0010ff 401.5px,#0000ff 419.5px,#1000ff 441.5px,#7800ff 612.5px,#8000f8 657.5px,#8800ec 882.5px,#9000e0 1028.5px,#9800c8 1188.5px,#9800bf 1279px)"></div>
<div style="height:4px;background:linear-gradient(90deg,#ff0000 0px,#ff0000 47.5px,#ff0600 48.5px,#ff1c00 49.5px,#ff3a00 50.5px,#ff5200 51.5px,#ff7300 53.5px,#ff8100 55.5px,#ff9300 59.5px,#ffda00 67.5px,#fdff00 73.5px,#e2ff00 78.5px,#caff00 84.5px,#a2ff00 90.5px,#89ff00 97.5px,#82ff00 98.5px,#42ff00 105.5px,#00ff00 106.5px,#00ff00 154.5px,#00ff0a 155.5px,#00ff60 157.5px,#00ff86 164.5px,#00ffa2 175.5px,#00ffe1 181.5px,#00fdff 192.5px,#00e8ff 202.5px,#00d1ff 217.5px,#0090ff 269.5px,#0079ff 302.5px,#0065ff 317.5px,#004eff 340.5px,#0033ff 372.5px,#0010ff 403.5px,#0000ff 421.5px,#1000ff 443.5px,#7800ff 619.5px,#8000f8 664.5px,#9000e0 1037.5px,#9800c8 1195.5px,#9800c0 1279px)"></div>
<div style="height:4px;background:linear-gradient(90deg,#ff0000 0px,#ff0000 47.5px,#ff0500 48.5px,#ff1a00 49.5px,#ff5100 51.5px,#ff7300 53.5px,#ff8100 55.5px,#ff9300 59.5px,#ffda00 67.5px,#fdff00 73.5px,#e3ff00 78.5px,#c6ff00 85.5px,#9eff00 91.5px,#84ff00 98.5px,#45ff00 105.5px,#10ff00 106.5px,#00ff00 107.5px,#00ff00 155.5px,#00ff55 157.5px,#00ff64 158.5px,#00ff89 165.5px,#00ffa0 175.5px,#00ffdf 181.5px,#00feff 192.5px,#00e9ff 202.5px,#00d0ff 218.5px,#0090ff 270.5px,#0078ff 304.5px,#0066ff 318.5px,#004dff 342.5px,#0033ff 374.5px,#0011ff 404.5px,#0100ff 424.5px,#1000ff 445.5px,#4000ff 530.5px,#6000ff 578.5px,#7800ff 625.5px,#8000f8 671.5px,#9000e0 1045.5px,#9800c8 1201.5px,#9800c1 1279px)"></div>
<div style="height:4px;background:linear-gradient(90deg,#fe0000 0px,#ff0000 47.5px,#ff0300 48.5px,#ff1900 49.5px,#ff5000 51.5px,#ff7200 53.5px,#ff8000 55.5px,#ff9200 59.5px,#ffd900 67.5px,#feff00 73.5px,#dfff00 79.5px,#c7ff00 85.5px,#9fff00 91.5px,#86ff00 98.5px,#48ff00 105.5px,#31ff00 106.5px,#00ff00 107.5px,#00ff00 155.5px,#00ff1f 156.5px,#00ff49 157.5px,#00ff63 158.5px,#00ff88 165.5px,#00ff9f 175.5px,#00ffa5 176.5px,#00ffdb 181.5px,#00ffe2 182.5px,#00ffff 192.5px,#00e8ff 203.5px,#00d1ff 218.5px,#0091ff 270.5px,#0078ff 305.5px,#0066ff 319.5px,#004dff 343.5px,#0033ff 376.5px,#0011ff 406.5px,#0000ff 426.5px,#1000ff 447.5px,#4000ff 533.5px,#6000ff 581.5px,#7800ff 631.5px,#8000f8 678.5px,#9000e0 1053.5px,#9800c8 1208.5px,#9800c1 1279px)"></div>
<div style="height:4px;background:linear-gradient(90deg,#fd0000 0px,#ff0100 48.5px,#ff1700 49.5px,#ff4e00 51.5px,#ff7200 53.5px,#ff8000 55.5px,#ff9200 59.5px,#ffe000 68.5px,#feff00 73.5px,#dfff00 79.5px,#c8ff00 85.5px,#a0ff00 91.5px,#88ff00 98.5px,#42ff00 106.5px,#00ff00 107.5px,#00ff00 155.5px,#00ff14 156.5px,#00ff3e 157.5px,#00ff61 158.5px,#00ff86 165.5px,#00ffa2 176.5px,#00ffe1 182.5px,#00feff 193.5px,#00e9ff 203.5px,#00d0ff 219.5px,#0091ff 271.5px,#0078ff 306.5px,#0066ff 320.5px,#004eff 344.5px,#0033ff 378.5px,#0011ff 408.5px,#0000ff 428.5px,#1000ff 449.5px,#4000ff 536.5px,#6000ff 584.5px,#7800ff 637.5px,#8000f8 685.5px,#9000e0 1061.5px,#9800c8 1215.5px,#9800c2 1279px)"></div>
<div style="height:4px;background:linear-gradient(90deg,#fd0000 0px,#ff0000 48.5px,#ff1600 49.5px,#ff4d00 51.5px,#ff7100 53.5px,#ff8000 55.5px,#ff9100 59.5px,#ffe000 68.5px,#ffff00 73.5px,#e0ff00 79.5px,#c9ff00 85.5px,#a1ff00 91.5px,#89ff00 98.5px,#82ff00 99.5px,#44ff00 106.5px,#0cff00 107.5px,#00ff00 108.5px,#00ff00 155.5px,#00ff09 156.5px,#00ff5e 158.5px,#00ff65 159.5px,#00ff89 166.5px,#00ffa0 176.5px,#00ffde 182.5px,#00feff 193.5px,#00e8ff 204.5px,#00d0ff 220.5px,#0090ff 272.5px,#0078ff 307.5px,#0066ff 321.5px,#004dff 346.5px,#0033ff 380.5px,#0010ff 410.5px,#0000ff 430.5px,#1000ff 451.5px,#4000ff 539.5px,#6000ff 588.5px,#7800ff 644.5px,#8000f8 692.5px,#9000e0 1070.5px,#9800c8 1222.5px,#9800c3 1279px)"></div>
<div style="height:4px;background:linear-gradient(90deg,#fc0000 0px,#ff0000 2.5px,#ff0000 48.5px,#ff1400 49.5px,#ff4c00 51.5px,#ff7100 53.5px,#ff7f00 55.5px,#ff9000 59.5px,#ffdf00 68.5px,#ffff00 73.5px,#faff00 74.5px,#e0ff00 79.5px,#c9ff00 85.5px,#a2ff00 91.5px,#84ff00 99.5px,#47ff00 106.5px,#2dff00 107.5px,#00ff00 108.5px,#00ff00 156.5px,#00ff53 158.5px,#00ff64 159.5px,#00ff88 166.5px,#00ff9f 176.5px,#00ffa5 177.5px,#00ffda 182.5px,#00ffe1 183.5px,#00fdff 194.5px,#00e8ff 204.5px,#00d1ff 220.5px,#0090ff 273.5px,#0078ff 308.5px,#0065ff 323.5px,#004eff 347.5px,#0033ff 382.5px,#0010ff 412.5px,#0000ff 432.5px,#1000ff 453.5px,#4000ff 542.5px,#6000ff 591.5px,#7800ff 650.5px,#8000f8 699.5px,#9000e0 1078.5px,#9800c3 1279px)"></div>
<div style="height:4px;background:linear-gradient(90deg,#fc0000 0px,#ff0000 2.5px,#ff0000 48.5px,#ff1300 49.5px,#ff4a00 51.5px,#ff6f00 53.5px,#ff7f00 55.5px,#ff9000 59.5px,#ffdf00 68.5px,#fffe00 73.5px,#faff00 74.5px,#e1ff00 79.5px,#caff00 85.5px,#9eff00 92.5px,#87ff00 99.5px,#41ff00 107.5px,#00ff00 108.5px,#00ff00 156.5px,#00ff1e 157.5px,#00ff48 158.5px,#00ff62 159.5px,#00ff87 166.5px,#00ffa2 177.5px,#00ffe0 183.5px,#00feff 194.5px,#00e8ff 205.5px,#00d0ff 221.5px,#0090ff 274.5px,#0078ff 309.5px,#0066ff 324.5px,#004dff 349.5px,#0033ff 384.5px,#0010ff 414.5px,#0000ff 434.5px,#1000ff 455.5px,#4000ff 545.5px,#6000ff 596.5px,#7800ff 656.5px,#8000f8 707.5px,#9000e0 1085.5px,#9800c4 1279px)"></div>
<div style="height:4px;background:linear-gradient(90deg,#fb0000 0px,#ff0000 2.5px,#ff0000 48.5px,#ff1100 49.5px,#ff2900 50.5px,#ff4800 51.5px,#ff6d00 53.5px,#ff7e00 55.5px,#ff9000 59.5px,#ffde00 68.5px,#fffe00 73.5px,#fbff00 74.5px,#e1ff00 79.5px,#c6ff00 86.5px,#9fff00 92.5px,#88ff00 99.5px,#44ff00 107.5px,#08ff00 108.5px,#00ff00 109.5px,#00ff00 156.5px,#00ff13 157.5px,#00ff3d 158.5px,#00ff61 159.5px,#00ff89 167.5px,#00ffa0 177.5px,#00ffdd 183.5px,#00ffff 194.5px,#00e8ff 205.5px,#00d1ff 221.5px,#0091ff 274.5px,#0079ff 310.5px,#004eff 350.5px,#0032ff 386.5px,#0010ff 416.5px,#0000ff 436.5px,#1000ff 458.5px,#4000ff 550.5px,#6000ff 602.5px,#7800ff 663.5px,#8000f8 714.5px,#9000e0 1091.5px,#9800c5 1279px)"></div>
<div style="height:4px;background:linear-gradient(90deg,#fa0000 0px,#ff0000 3.5px,#ff0000 48.5px,#ff0f00 49.5px,#ff2600 50.5px,#ff4500 51.5px,#ff6b00 53.5px,#ff7600 54.5px,#ff8300 56.5px,#ff8f00 59.5px,#ffde00 68.5px,#fffd00 73.5px,#fbff00 74.5px,#e2ff00 79.5px,#c7ff00 86.5px,#a0ff00 92.5px,#89ff00 99.5px,#83ff00 100.5px,#47ff00 107.5px,#28ff00 108.5px,#00ff00 109.5px,#00ff00 156.5px,#00ff08 157.5px,#00ff5c 159.5px,#00ff65 160.5px,#00ff89 167.5px,#00ff9f 177.5px,#00ffa6 178.5px,#00ffda 183.5px,#00ffe1 184.5px,#00feff 195.5px,#00e8ff 206.5px,#00d0ff 222.5px,#0091ff 275.5px,#0079ff 311.5px,#004dff 352.5px,#0033ff 387.5px,#0011ff 417.5px,#0000ff 438.5px,#1000ff 461.5px,#4000ff 554.5px,#6000ff 608.5px,#7800ff 669.5px,#8000f8 722.5px,#9000e0 1097.5px,#9800c5 1279px)"></div>
<div style="height:4px;background:linear-gradient(90deg,#f90000 0px,#ff0000 3.5px,#ff0000 48.5px,#ff0d00 49.5px,#ff2300 50.5px,#ff4200 51.5px,#ff5700 52.5px,#ff6800 53.5px,#ff7500 54.5px,#ff8200 56.5px,#ff8f00 59.5px,#ffdd00 68.5px,#fffd00 73.5px,#fcff00 74.5px,#deff00 80.5px,#c8ff00 86.5px,#a1ff00 92.5px,#85ff00 100.5px,#41ff00 108.5px,#00ff00 109.5px,#00ff00 157.5px,#00ff51 159.5px,#00ff63 160.5px,#00ff88 167.5px,#00ffa2 178.5px,#00ffe0 184.5px,#00feff 195.5px,#00e8ff 206.5px,#00d0ff 223.5px,#0090ff 276.5px,#0078ff 313.5px,#004dff 354.5px,#0033ff 389.5px,#0010ff 419.5px,#0000ff 440.5px,#6000ff 614.5px,#7800ff 675.5px,#8000f8 729.5px,#9000e0 1103.5px,#9800c6 1279px)"></div>
<div style="height:4px;background:linear-gradient(90deg,#f80000 0px,#ff0000 3.5px,#ff0000 48.5px,#ff0c00 49.5px,#ff2100 50.5px,#ff3f00 51.5px,#ff5400 52.5px,#ff7400 54.5px,#ff8200 56.5px,#ff8f00 59.5px,#ffdd00 68.5px,#fffc00 73.5px,#fcff00 74.5px,#dfff00 80.5px,#c9ff00 86.5px,#a2ff00 92.5px,#87ff00 100.5px,#43ff00 108.5px,#04ff00 109.5px,#00ff00 110.5px,#00ff00 157.5px,#00ff1d 158.5px,#00ff46 159.5px,#00ff62 160.5px,#00ff86 167.5px,#00ffa0 178.5px,#00ffdd 184.5px,#00ffe2 185.5px,#00fdff 196.5px,#00e8ff 207.5px,#00d1ff 223.5px,#0090ff 277.5px,#0079ff 314.5px,#004eff 355.5px,#0032ff 391.5px,#0010ff 421.5px,#0000ff 441.5px,#6000ff 620.5px,#7800ff 681.5px,#8000f8 737.5px,#9000e0 1109.5px,#9800c6 1279px)"></div>
<div style="height:4px;background:linear-gradient(90deg,#f70000 0px,#ff0000 3.5px,#ff0000 48.5px,#ff0a00 49.5px,#ff1f00 50.5px,#ff3c00 51.5px,#ff5200 52.5px,#ff7300 54.5px,#ff8100 56.5px,#ff8e00 59.5px,#ffdc00 68.5px,#fffc00 73.5px,#fdff00 74.5px,#dfff00 80.5px,#c9ff00 86.5px,#9fff00 93.5px,#88ff00 100.5px,#46ff00 108.5px,#00ff00 110.5px,#00ff00 157.5px,#00ff12 158.5px,#00ff61 160.5px,#00ff89 168.5px,#00ff9f 178.5px,#00ffa6 179.5px,#00ffe1 185.5px,#00feff 196.5px,#00e8ff 207.5px,#00d0ff 224.5px,#0090ff 278.5px,#0079ff 315.5px,#004dff 357.5px,#0033ff 392.5px,#0010ff 423.5px,#0000ff 443.5px,#6000ff 626.5px,#7800ff 688.5px,#8000f8 745.5px,#9000e0 1115.5px,#9800c7 1279px)"></div>
<div style="height:4px;background:linear-gradient(90deg,#f60000 0px,#ff0000 4.5px,#ff0000 48.5px,#ff0900 49.5px,#ff1d00 50.5px,#ff5100 52.5px,#ff7200 54.5px,#ff8100 56.5px,#ff9500 60.5px,#ffdb00 68.5px,#fdff00 74.5px,#e0ff00 80.5px,#caff00 86.5px,#9fff00 93.5px,#89ff00 100.5px,#83ff00 101.5px,#40ff00 109.5px,#00ff00 110.5px,#00ff00 157.5px,#00ff08 158.5px,#00ff5a 160.5px,#00ff64 161.5px,#00ff88 168.5px,#00ffa2 179.5px,#00ffe0 185.5px,#00ffff 196.5px,#00e7ff 208.5px,#00d1ff 224.5px,#0090ff 279.5px,#0078ff 317.5px,#004eff 358.5px,#0033ff 394.5px,#0011ff 424.5px,#0000ff 445.5px,#6000ff 631.5px,#7800ff 694.5px,#8000f8 752.5px,#9000e0 1121.5px,#9800c7 1279px)"></div>
<div style="height:4px;background:linear-gradient(90deg,#f50000 0px,#ff0000 4.5px,#ff0000 48.5px,#ff0700 49.5px,#ff1b00 50.5px,#ff4f00 52.5px,#ff7100 54.5px,#ff8000 56.5px,#ff9400 60.5px,#ffdb00 68.5px,#fdff00 74.5px,#e0ff00 80.5px,#c6ff00 87.5px,#a0ff00 93.5px,#85ff00 101.5px,#43ff00 109.5px,#00ff00 110.5px,#00ff00 158.5px,#00ff4f 160.5px,#00ff63 161.5px,#00ff87 168.5px,#00ffa0 179.5px,#00ffdc 185.5px,#00ffe2 186.5px,#00feff 197.5px,#00e8ff 208.5px,#00d1ff 225.5px,#0091ff 279.5px,#0078ff 318.5px,#004dff 360.5px,#0032ff 396.5px,#0010ff 426.5px,#0000ff 447.5px,#2000ff 516.5px,#6000ff 637.5px,#7800ff 700.5px,#8000f8 760.5px,#9000e0 1127.5px,#9800c8 1279px)"></div>
<div style="height:4px;background:linear-gradient(90deg,#f30000 0px,#ff0000 4.5px,#ff0000 48.5px,#ff0500 49.5px,#ff1900 50.5px,#ff4d00 52.5px,#ff6e00 54.5px,#ff7f00 56.5px,#ff9400 60.5px,#ffe100 69.5px,#feff00 74.5px,#e1ff00 80.5px,#c7ff00 87.5px,#a1ff00 93.5px,#87ff00 101.5px,#45ff00 109.5px,#1cff00 110.5px,#00ff00 111.5px,#00ff00 158.5px,#00ff1c 159.5px,#00ff45 160.5px,#00ff62 161.5px,#00ff89 169.5px,#00ff9f 179.5px,#00ffa6 180.5px,#00ffe1 186.5px,#00feff 197.5px,#00e7ff 209.5px,#00d0ff 226.5px,#0090ff 280.5px,#0079ff 319.5px,#004eff 361.5px,#0033ff 397.5px,#0010ff 428.5px,#0000ff 448.5px,#2000ff 520.5px,#6000ff 643.5px,#7800ff 707.5px,#8000f8 767.5px,#9000e0 1133.5px,#9800c9 1279px)"></div>
<div style="height:4px;background:linear-gradient(90deg,#f20000 0px,#ff0000 4.5px,#ff0000 48.5px,#ff0400 49.5px,#ff1800 50.5px,#ff4b00 52.5px,#ff6c00 54.5px,#ff7700 55.5px,#ff9300 60.5px,#ffd900 68.5px,#feff00 74.5px,#e1ff00 80.5px,#c8ff00 87.5px,#9eff00 94.5px,#89ff00 101.5px,#48ff00 109.5px,#3aff00 110.5px,#00ff00 111.5px,#00ff00 158.5px,#00ff11 159.5px,#00ff60 161.5px,#00ff88 169.5px,#00ffa2 180.5px,#00ffdf 186.5px,#00fdff 198.5px,#00e8ff 209.5px,#00d1ff 226.5px,#0090ff 281.5px,#0079ff 320.5px,#004dff 363.5px,#0033ff 399.5px,#0011ff 429.5px,#0000ff 450.5px,#2000ff 524.5px,#6000ff 649.5px,#7800ff 713.5px,#8000f8 775.5px,#9000e0 1139.5px,#9700ca 1279px)"></div>
<div style="height:4px;background:linear-gradient(90deg,#f00000 0px,#ff0000 5.5px,#ff0000 48.5px,#ff0300 49.5px,#ff1600 50.5px,#ff4900 52.5px,#ff6a00 54.5px,#ff7600 55.5px,#ff9300 60.5px,#ffe000 69.5px,#ffff00 74.5px,#e2ff00 80.5px,#c9ff00 87.5px,#9fff00 94.5px,#89ff00 101.5px,#83ff00 102.5px,#42ff00 110.5px,#00ff00 111.5px,#00ff00 158.5px,#00ff07 159.5px,#00ff58 161.5px,#00ff64 162.5px,#00ff88 169.5px,#00ffa0 180.5px,#00ffdc 186.5px,#00ffe2 187.5px,#00feff 198.5px,#00e7ff 210.5px,#00d0ff 227.5px,#0090ff 282.5px,#0078ff 322.5px,#004eff 364.5px,#0032ff 401.5px,#0010ff 431.5px,#0000ff 452.5px,#2000ff 528.5px,#6000ff 655.5px,#7800ff 719.5px,#8000f8 783.5px,#9000e0 1145.5px,#9700cb 1279px)"></div>
<div style="height:4px;background:linear-gradient(90deg,#ee0000 0px,#ff0000 5.5px,#ff0100 49.5px,#ff2b00 51.5px,#ff4700 52.5px,#ff6800 54.5px,#ff7500 55.5px,#ff9200 60.5px,#ffe000 69.5px,#ffff00 74.5px,#faff00 75.5px,#deff00 81.5px,#c9ff00 87.5px,#9fff00 94.5px,#85ff00 102.5px,#44ff00 110.5px,#16ff00 111.5px,#00ff00 112.5px,#00ff00 159.5px,#00ff4e 161.5px,#00ff63 162.5px,#00ff86 169.5px,#00ff9f 180.5px,#00ffa6 181.5px,#00ffe1 187.5px,#00ffff 198.5px,#00e8ff 210.5px,#00d0ff 228.5px,#0090ff 283.5px,#0078ff 323.5px,#004dff 366.5px,#0033ff 402.5px,#0010ff 433.5px,#0000ff 454.5px,#2000ff 533.5px,#6000ff 661.5px,#7800ff 725.5px,#8000f8 790.5px,#9000e0 1151.5px,#9700cc 1279px)"></div>
<div style="height:4px;background:linear-gradient(90deg,#eb0000 0px,#ff0000 5.5px,#ff0000 49.5px,#ff2800 51.5px,#ff4400 52.5px,#ff7400 55.5px,#ff8200 57.5px,#ff9200 60.5px,#ffdf00 69.5px,#fffe00 74.5px,#fbff00 75.5px,#dfff00 81.5px,#caff00 87.5px,#a0ff00 94.5px,#87ff00 102.5px,#47ff00 110.5px,#32ff00 111.5px,#00ff00 112.5px,#00ff00 159.5px,#00ff1b 160.5px,#00ff43 161.5px,#00ff61 162.5px,#00ff89 170.5px,#00ffa2 181.5px,#00ffdf 187.5px,#00feff 199.5px,#00e7ff 211.5px,#00d1ff 228.5px,#0091ff 283.5px,#0085ff 299.5px,#0079ff 324.5px,#004dff 368.5px,#0033ff 404.5px,#0010ff 435.5px,#0000ff 455.5px,#2000ff 537.5px,#6000ff 667.5px,#7800ff 732.5px,#8000f8 798.5px,#9000e0 1157.5px,#9600cd 1279px)"></div>
<div style="height:4px;background:linear-gradient(90deg,#e80000 0px,#ff0000 5.5px,#ff0000 49.5px,#ff2600 51.5px,#ff4100 52.5px,#ff7200 55.5px,#ff8200 57.5px,#ff9100 60.5px,#ffdf00 69.5px,#fffe00 74.5px,#fbff00 75.5px,#dfff00 81.5px,#c6ff00 88.5px,#a1ff00 94.5px,#89ff00 102.5px,#41ff00 111.5px,#00ff00 112.5px,#00ff00 159.5px,#00ff11 160.5px,#00ff60 162.5px,#00ff88 170.5px,#00ffa0 181.5px,#00ffdb 187.5px,#00ffe1 188.5px,#00feff 199.5px,#00e8ff 211.5px,#00d0ff 229.5px,#0090ff 284.5px,#0084ff 300.5px,#0078ff 326.5px,#004dff 369.5px,#0032ff 406.5px,#0011ff 436.5px,#0000ff 457.5px,#2000ff 541.5px,#6000ff 673.5px,#7800ff 738.5px,#8000f8 805.5px,#9000e0 1163.5px,#9600ce 1279px)"></div>
<div style="height:4px;background:linear-gradient(90deg,#e50000 0px,#fd0000 5.5px,#ff0000 6.5px,#ff0000 49.5px,#ff2300 51.5px,#ff3e00 52.5px,#ff5200 53.5px,#ff7100 55.5px,#ff8100 57.5px,#ff9000 60.5px,#ffde00 69.5px,#fffd00 74.5px,#fbff00 75.5px,#e0ff00 81.5px,#c7ff00 88.5px,#9eff00 95.5px,#89ff00 102.5px,#83ff00 103.5px,#44ff00 111.5px,#0fff00 112.5px,#00ff00 113.5px,#00ff00 159.5px,#00ff06 160.5px,#00ff56 162.5px,#00ff64 163.5px,#00ff87 170.5px,#00ff9f 181.5px,#00ffa6 182.5px,#00ffe0 188.5px,#00ffff 199.5px,#00e7ff 212.5px,#00d1ff 229.5px,#0090ff 285.5px,#0085ff 300.5px,#0078ff 327.5px,#004dff 371.5px,#0033ff 407.5px,#0010ff 438.5px,#0000ff 459.5px,#2000ff 545.5px,#6000ff 679.5px,#7800ff 744.5px,#8000f8 813.5px,#9000e0 1169.5px,#9600cf 1279px)"></div>
<div style="height:4px;background:linear-gradient(90deg,#e20000 0px,#ff0000 6.5px,#ff0000 49.5px,#ff2000 51.5px,#ff3b00 52.5px,#ff5000 53.5px,#ff7000 55.5px,#ff8100 57.5px,#ff9000 60.5px,#ffdd00 69.5px,#fffc00 74.5px,#fcff00 75.5px,#e0ff00 81.5px,#c8ff00 88.5px,#9fff00 95.5px,#86ff00 103.5px,#46ff00 111.5px,#2cff00 112.5px,#00ff00 113.5px,#00ff00 160.5px,#00ff1f 161.5px,#00ff47 162.5px,#00ff62 163.5px,#00ff89 171.5px,#00ffa0 182.5px,#00ffdb 188.5px,#00ffe1 189.5px,#00ffff 200.5px,#00e9ff 212.5px,#00d1ff 230.5px,#0090ff 286.5px,#0085ff 301.5px,#0079ff 328.5px,#004dff 372.5px,#0033ff 409.5px,#0010ff 440.5px,#0000ff 461.5px,#2000ff 550.5px,#6000ff 685.5px,#7800ff 751.5px,#8000f8 821.5px,#9000e0 1175.5px,#9500d0 1279px)"></div>
<div style="height:4px;background:linear-gradient(90deg,#e10000 0px,#ff0000 6.5px,#ff0000 49.5px,#ff0b00 50.5px,#ff1e00 51.5px,#ff4e00 53.5px,#ff6e00 55.5px,#ff7700 56.5px,#ff9600 61.5px,#ffdb00 69.5px,#feff00 75.5px,#e2ff00 81.5px,#c9ff00 88.5px,#a0ff00 95.5px,#88ff00 103.5px,#41ff00 112.5px,#00ff00 113.5px,#00ff00 160.5px,#00ff0a 161.5px,#00ff57 163.5px,#00ff64 164.5px,#00ff89 172.5px,#00ffa1 183.5px,#00ffdb 189.5px,#00ffe1 190.5px,#00ffff 201.5px,#00e7ff 214.5px,#00d0ff 232.5px,#0090ff 287.5px,#0085ff 302.5px,#0079ff 329.5px,#004dff 374.5px,#0032ff 411.5px,#0010ff 442.5px,#0000ff 463.5px,#2000ff 554.5px,#4000ff 617.5px,#7800ff 757.5px,#8000f8 828.5px,#9000e0 1181.5px,#9500d1 1279px)"></div>
<div style="height:4px;background:linear-gradient(90deg,#e00000 0px,#ff0000 6.5px,#ff0000 49.5px,#ff0900 50.5px,#ff1b00 51.5px,#ff4c00 53.5px,#ff6b00 55.5px,#ff7600 56.5px,#ff9300 61.5px,#ffe000 70.5px,#ffff00 75.5px,#fbff00 76.5px,#dfff00 82.5px,#c6ff00 89.5px,#a2ff00 95.5px,#89ff00 103.5px,#83ff00 104.5px,#43ff00 112.5px,#0bff00 113.5px,#00ff00 114.5px,#00ff00 161.5px,#00ff1b 162.5px,#00ff41 163.5px,#00ff61 164.5px,#00ff87 172.5px,#00ffa2 184.5px,#00ffdb 190.5px,#00ffe1 191.5px,#00feff 203.5px,#00e8ff 215.5px,#0091ff 287.5px,#0084ff 303.5px,#0078ff 331.5px,#004eff 375.5px,#0033ff 412.5px,#0010ff 443.5px,#0000ff 464.5px,#2000ff 558.5px,#4000ff 622.5px,#7800ff 763.5px,#8000f8 836.5px,#9000e0 1187.5px,#9500d2 1279px)"></div>
<div style="height:4px;background:linear-gradient(90deg,#df0000 0px,#fe0000 6.5px,#ff0000 7.5px,#ff0000 49.5px,#ff0600 50.5px,#ff1800 51.5px,#ff4a00 53.5px,#ff6900 55.5px,#ff7500 56.5px,#ff9100 61.5px,#ffde00 70.5px,#fffd00 75.5px,#fcff00 76.5px,#e0ff00 82.5px,#c8ff00 89.5px,#9fff00 96.5px,#85ff00 104.5px,#46ff00 112.5px,#28ff00 113.5px,#00ff00 114.5px,#00ff00 161.5px,#00ff05 162.5px,#00ff51 164.5px,#00ff63 165.5px,#00ff88 173.5px,#00ffa2 185.5px,#00ffdb 191.5px,#00ffe1 192.5px,#00feff 204.5px,#00e7ff 217.5px,#0090ff 288.5px,#0085ff 303.5px,#0078ff 332.5px,#004dff 377.5px,#0033ff 414.5px,#0010ff 445.5px,#0000ff 466.5px,#2000ff 563.5px,#4000ff 626.5px,#7800ff 769.5px,#8000f8 843.5px,#9000e0 1193.5px,#9400d3 1279px)"></div>
<div style="height:4px;background:linear-gradient(90deg,#de0000 0px,#ff0000 7.5px,#ff0000 49.5px,#ff0300 50.5px,#ff2c00 52.5px,#ff4700 53.5px,#ff7400 56.5px,#ff8200 58.5px,#ff9000 61.5px,#ffdc00 70.5px,#feff00 76.5px,#e2ff00 82.5px,#c9ff00 89.5px,#a0ff00 96.5px,#88ff00 104.5px,#40ff00 113.5px,#00ff00 114.5px,#00ff00 162.5px,#00ff16 163.5px,#00ff60 165.5px,#00ff89 174.5px,#00ffa3 186.5px,#00ffe1 193.5px,#00feff 205.5px,#00e7ff 218.5px,#0090ff 289.5px,#0084ff 305.5px,#0079ff 333.5px,#004eff 378.5px,#0032ff 416.5px,#0010ff 447.5px,#0000ff 468.5px,#2000ff 567.5px,#4000ff 631.5px,#7800ff 776.5px,#8000f8 851.5px,#9000e0 1199.5px,#9400d3 1279px)"></div>
<div style="height:4px;background:linear-gradient(90deg,#de0000 0px,#ff0000 7.5px,#ff0100 50.5px,#ff2800 52.5px,#ff4400 53.5px,#ff7300 56.5px,#ff8100 58.5px,#ff9500 62.5px,#ffe100 71.5px,#ffff00 76.5px,#faff00 77.5px,#dfff00 83.5px,#c6ff00 90.5px,#a2ff00 96.5px,#89ff00 104.5px,#82ff00 105.5px,#43ff00 113.5px,#07ff00 114.5px,#00ff00 115.5px,#00ff02 163.5px,#00ff4b 165.5px,#00ff62 166.5px,#00ff86 174.5px,#00ff9f 186.5px,#00ffa4 187.5px,#00ffe1 194.5px,#00ffff 206.5px,#00e8ff 219.5px,#00bfff 254.5px,#0090ff 290.5px,#0085ff 306.5px,#0078ff 335.5px,#004dff 380.5px,#0033ff 417.5px,#0011ff 448.5px,#0000ff 470.5px,#2000ff 571.5px,#4000ff 635.5px,#7800ff 782.5px,#8000f8 859.5px,#9000e0 1205.5px,#9400d4 1279px)"></div>
<div style="height:4px;background:linear-gradient(90deg,#dd0000 0px,#ff0000 7.5px,#ff0000 50.5px,#ff2500 52.5px,#ff4000 53.5px,#ff5300 54.5px,#ff7200 56.5px,#ff8000 58.5px,#ff9300 62.5px,#ffdf00 71.5px,#fffd00 76.5px,#fcff00 77.5px,#e0ff00 83.5px,#c8ff00 90.5px,#9fff00 97.5px,#85ff00 105.5px,#46ff00 113.5px,#00ff00 115.5px,#00ff00 163.5px,#00ff12 164.5px,#00ff5a 166.5px,#00ff64 167.5px,#00ff88 175.5px,#00ff9f 187.5px,#00ffa4 188.5px,#00ffe1 195.5px,#00fdff 208.5px,#00e8ff 220.5px,#00c0ff 255.5px,#0090ff 291.5px,#0085ff 307.5px,#0078ff 336.5px,#004eff 381.5px,#0033ff 419.5px,#0010ff 450.5px,#0000ff 471.5px,#2000ff 576.5px,#4000ff 640.5px,#7800ff 788.5px,#8000f8 866.5px,#9000e0 1211.5px,#9400d5 1279px)"></div>
<div style="height:4px;background:linear-gradient(90deg,#dc0000 0px,#ff0000 7.5px,#ff0000 50.5px,#ff2100 52.5px,#ff3c00 53.5px,#ff5100 54.5px,#ff7100 56.5px,#ff7f00 58.5px,#ff9100 62.5px,#ffdd00 71.5px,#fdff00 77.5px,#e1ff00 83.5px,#c9ff00 90.5px,#a0ff00 97.5px,#88ff00 105.5px,#40ff00 114.5px,#00ff00 115.5px,#00ff00 164.5px,#00ff45 166.5px,#00ff61 167.5px,#00ff88 176.5px,#00ff9f 188.5px,#00ffe1 196.5px,#00feff 209.5px,#00e7ff 222.5px,#00bfff 257.5px,#0090ff 292.5px,#0085ff 308.5px,#0078ff 337.5px,#004dff 383.5px,#0033ff 421.5px,#0010ff 452.5px,#0000ff 473.5px,#2000ff 580.5px,#4000ff 644.5px,#7800ff 795.5px,#8000f8 874.5px,#9000e0 1217.5px,#9300d6 1279px)"></div>
<div style="height:4px;background:linear-gradient(90deg,#db0000 0px,#fe0000 7.5px,#ff0000 8.5px,#ff0000 50.5px,#ff0b00 51.5px,#ff1e00 52.5px,#ff4f00 54.5px,#ff6f00 56.5px,#ff7e00 58.5px,#ff9000 62.5px,#ffda00 71.5px,#ffff00 77.5px,#dfff00 84.5px,#c6ff00 91.5px,#a1ff00 97.5px,#89ff00 105.5px,#43ff00 114.5px,#04ff00 115.5px,#00ff00 116.5px,#00ff00 164.5px,#00ff0e 165.5px,#00ff54 167.5px,#00ff63 168.5px,#00ff89 177.5px,#00ff9f 189.5px,#00ffe1 197.5px,#00feff 210.5px,#00e7ff 223.5px,#00c0ff 258.5px,#0090ff 292.5px,#0084ff 310.5px,#0079ff 338.5px,#004dff 385.5px,#0033ff 423.5px,#0010ff 455.5px,#0000ff 477.5px,#2000ff 584.5px,#4000ff 649.5px,#7800ff 801.5px,#8000f8 881.5px,#9000e0 1223.5px,#9300d7 1279px)"></div>
<div style="height:4px;background:linear-gradient(90deg,#da0000 0px,#ff0000 8.5px,#ff0000 50.5px,#ff0900 51.5px,#ff1b00 52.5px,#ff4d00 54.5px,#ff6c00 56.5px,#ff7600 57.5px,#ff8200 59.5px,#ff8f00 62.5px,#ffdf00 72.5px,#fffd00 77.5px,#fcff00 78.5px,#e0ff00 84.5px,#c8ff00 91.5px,#9fff00 98.5px,#85ff00 106.5px,#45ff00 114.5px,#00ff00 116.5px,#00ff00 165.5px,#00ff1d 166.5px,#00ff60 168.5px,#00ff87 177.5px,#00ff9f 190.5px,#00ffe1 198.5px,#00ffff 211.5px,#00e8ff 224.5px,#00bfff 260.5px,#0090ff 293.5px,#0079ff 339.5px,#004dff 387.5px,#0033ff 426.5px,#0010ff 459.5px,#0000ff 481.5px,#2000ff 589.5px,#4000ff 653.5px,#7800ff 807.5px,#8000f8 889.5px,#9000e0 1229.5px,#9300d8 1279px)"></div>
<div style="height:4px;background:linear-gradient(90deg,#d90000 0px,#ff0000 8.5px,#ff0000 50.5px,#ff0600 51.5px,#ff1900 52.5px,#ff4a00 54.5px,#ff6a00 56.5px,#ff7500 57.5px,#ff9400 63.5px,#ffde00 72.5px,#fdff00 78.5px,#e1ff00 84.5px,#c9ff00 91.5px,#9fff00 98.5px,#87ff00 106.5px,#3eff00 115.5px,#00ff00 116.5px,#00ff00 165.5px,#00ff0d 166.5px,#00ff51 168.5px,#00ff62 169.5px,#00ff88 178.5px,#00ffa0 191.5px,#00ffdc 198.5px,#00ffe1 199.5px,#00feff 212.5px,#00e8ff 225.5px,#00bfff 261.5px,#0090ff 294.5px,#0078ff 341.5px,#004eff 389.5px,#0033ff 429.5px,#0010ff 463.5px,#0000ff 486.5px,#2000ff 593.5px,#4000ff 658.5px,#7800ff 813.5px,#8000f8 897.5px,#9000e0 1235.5px,#9200d9 1279px)"></div>
<div style="height:4px;background:linear-gradient(90deg,#d80000 0px,#ff0000 8.5px,#ff0000 50.5px,#ff0400 51.5px,#ff2d00 53.5px,#ff4800 54.5px,#ff6800 56.5px,#ff7400 57.5px,#ff8100 59.5px,#ff9300 63.5px,#ffde00 72.5px,#fdff00 78.5px,#e1ff00 84.5px,#c9ff00 91.5px,#a0ff00 98.5px,#88ff00 106.5px,#42ff00 115.5px,#00ff00 116.5px,#00ff02 166.5px,#00ff46 168.5px,#00ff61 169.5px,#00ff88 178.5px,#00ffa0 191.5px,#00ffe1 199.5px,#00ffff 212.5px,#00e8ff 225.5px,#00c0ff 261.5px,#0090ff 295.5px,#0078ff 342.5px,#004dff 392.5px,#0033ff 432.5px,#0010ff 467.5px,#0000ff 491.5px,#2000ff 598.5px,#4000ff 663.5px,#7800ff 820.5px,#8000f8 904.5px,#9000e0 1241.5px,#9200da 1279px)"></div>
<div style="height:4px;background:linear-gradient(90deg,#d70000 0px,#fe0000 8.5px,#ff0100 51.5px,#ff2900 53.5px,#ff4500 54.5px,#ff7300 57.5px,#ff8100 59.5px,#ff9200 63.5px,#ffdd00 72.5px,#fdff00 78.5px,#e2ff00 84.5px,#caff00 91.5px,#a1ff00 98.5px,#89ff00 106.5px,#83ff00 107.5px,#45ff00 115.5px,#1bff00 116.5px,#00ff00 117.5px,#00ff00 166.5px,#00ff19 167.5px,#00ff5d 169.5px,#00ff64 170.5px,#00ff89 179.5px,#00ff9f 191.5px,#00ffa5 192.5px,#00ffe0 199.5px,#00ffff 212.5px,#00e7ff 226.5px,#00bfff 262.5px,#0090ff 296.5px,#0078ff 343.5px,#004dff 394.5px,#0033ff 435.5px,#0010ff 471.5px,#0000ff 496.5px,#2000ff 602.5px,#4000ff 668.5px,#7800ff 826.5px,#8000f8 912.5px,#9200db 1279px)"></div>
<div style="height:4px;background:linear-gradient(90deg,#d60000 0px,#fd0000 8.5px,#ff0000 9.5px,#ff0000 51.5px,#ff2500 53.5px,#ff4100 54.5px,#ff7200 57.5px,#ff8000 59.5px,#ff9100 63.5px,#ffdc00 72.5px,#feff00 78.5px,#deff00 85.5px,#c6ff00 92.5px,#9eff00 99.5px,#85ff00 107.5px,#47ff00 115.5px,#37ff00 116.5px,#00ff00 117.5px,#00ff00 166.5px,#00ff0e 167.5px,#00ff52 169.5px,#00ff63 170.5px,#00ff89 179.5px,#00ffa2 192.5px,#00ffdf 199.5px,#00feff 213.5px,#00e8ff 226.5px,#00c0ff 262.5px,#0090ff 296.5px,#0078ff 344.5px,#004dff 396.5px,#0033ff 438.5px,#0010ff 475.5px,#0000ff 500.5px,#2000ff 607.5px,#4000ff 672.5px,#7800ff 832.5px,#8000f8 919.5px,#9100dc 1279px)"></div>
<div style="height:4px;background:linear-gradient(90deg,#d50000 0px,#ff0000 9.5px,#ff0000 51.5px,#ff2200 53.5px,#ff3d00 54.5px,#ff5200 55.5px,#ff7100 57.5px,#ff7f00 59.5px,#ff9000 63.5px,#ffdc00 72.5px,#feff00 78.5px,#dfff00 85.5px,#c7ff00 92.5px,#9fff00 99.5px,#87ff00 107.5px,#42ff00 116.5px,#00ff00 117.5px,#00ff02 167.5px,#00ff47 169.5px,#00ff61 170.5px,#00ff88 179.5px,#00ffa0 192.5px,#00ffdc 199.5px,#00ffe1 200.5px,#00feff 213.5px,#00e8ff 226.5px,#00bfff 263.5px,#0090ff 297.5px,#0078ff 345.5px,#004dff 398.5px,#0033ff 441.5px,#0010ff 479.5px,#0000ff 505.5px,#2000ff 611.5px,#4000ff 677.5px,#7800ff 839.5px,#8000f8 927.5px,#9100dd 1279px)"></div>
<div style="height:4px;background:linear-gradient(90deg,#d40000 0px,#ff0000 9.5px,#ff0000 51.5px,#ff0c00 52.5px,#ff1f00 53.5px,#ff5000 55.5px,#ff7000 57.5px,#ff7e00 59.5px,#ff9000 63.5px,#ffdb00 72.5px,#ffff00 78.5px,#dfff00 85.5px,#c8ff00 92.5px,#9fff00 99.5px,#88ff00 107.5px,#44ff00 116.5px,#14ff00 117.5px,#00ff00 118.5px,#00ff00 167.5px,#00ff1a 168.5px,#00ff5f 170.5px,#00ff87 179.5px,#00ffa0 192.5px,#00ffe1 200.5px,#00feff 213.5px,#00e7ff 227.5px,#00c0ff 263.5px,#0090ff 298.5px,#0079ff 346.5px,#004eff 400.5px,#0033ff 444.5px,#0010ff 483.5px,#0000ff 510.5px,#2000ff 616.5px,#4000ff 682.5px,#6000ff 767.5px,#7800ff 845.5px,#8000f8 935.5px,#9100de 1279px)"></div>
<div style="height:4px;background:linear-gradient(90deg,#d30000 0px,#ff0000 9.5px,#ff0000 51.5px,#ff0900 52.5px,#ff1c00 53.5px,#ff4d00 55.5px,#ff6d00 57.5px,#ff7e00 59.5px,#ff8f00 63.5px,#ffda00 72.5px,#ffff00 78.5px,#e0ff00 85.5px,#c8ff00 92.5px,#a0ff00 99.5px,#89ff00 107.5px,#83ff00 108.5px,#46ff00 116.5px,#2fff00 117.5px,#00ff00 118.5px,#00ff00 167.5px,#00ff0e 168.5px,#00ff54 170.5px,#00ff63 171.5px,#00ff89 180.5px,#00ff9f 192.5px,#00ffa4 193.5px,#00ffe0 200.5px,#00ffff 213.5px,#00e7ff 227.5px,#00bfff 264.5px,#0090ff 299.5px,#0079ff 347.5px,#004dff 403.5px,#0033ff 447.5px,#0010ff 487.5px,#0000ff 515.5px,#2000ff 620.5px,#4000ff 686.5px,#6000ff 772.5px,#7800ff 851.5px,#8000f8 942.5px,#9000df 1279px)"></div>
<div style="height:4px;background:linear-gradient(90deg,#d20000 0px,#fe0000 9.5px,#ff0000 10.5px,#ff0000 51.5px,#ff0600 52.5px,#ff1900 53.5px,#ff4b00 55.5px,#ff6a00 57.5px,#ff7500 58.5px,#ff9600 64.5px,#ffe100 73.5px,#ffff00 78.5px,#fbff00 79.5px,#e0ff00 85.5px,#c9ff00 92.5px,#a1ff00 99.5px,#85ff00 108.5px,#40ff00 117.5px,#00ff00 118.5px,#00ff00 167.5px,#00ff03 168.5px,#00ff49 170.5px,#00ff61 171.5px,#00ff88 180.5px,#00ffa2 193.5px,#00ffdf 200.5px,#00ffff 213.5px,#00e8ff 227.5px,#00c0ff 264.5px,#0090ff 300.5px,#0079ff 348.5px,#004dff 405.5px,#0033ff 450.5px,#0010ff 491.5px,#0000ff 519.5px,#2000ff 624.5px,#4000ff 691.5px,#6000ff 777.5px,#7800ff 857.5px,#8000f8 950.5px,#9000e0 1279px)"></div>
<div style="height:4px;background:linear-gradient(90deg,#d10000 0px,#ff0000 10.5px,#ff0000 51.5px,#ff0400 52.5px,#ff2d00 54.5px,#ff4800 55.5px,#ff7400 58.5px,#ff8100 60.5px,#ff9500 64.5px,#ffe000 73.5px,#fffe00 78.5px,#fbff00 79.5px,#e0ff00 85.5px,#c9ff00 92.5px,#a2ff00 99.5px,#86ff00 108.5px,#42ff00 117.5px,#04ff00 118.5px,#00ff00 119.5px,#00ff00 168.5px,#00ff1a 169.5px,#00ff60 171.5px,#00ff87 180.5px,#00ffa0 193.5px,#00ffdd 200.5px,#00ffe1 201.5px,#00feff 214.5px,#00e8ff 227.5px,#00bfff 265.5px,#0090ff 300.5px,#0078ff 350.5px,#004dff 407.5px,#0033ff 453.5px,#0010ff 495.5px,#0000ff 524.5px,#2000ff 629.5px,#4000ff 696.5px,#6000ff 782.5px,#7800ff 864.5px,#8000f8 957.5px,#9000e0 1279px)"></div>
<div style="height:4px;background:linear-gradient(90deg,#d00000 0px,#ff0000 10.5px,#ff0100 52.5px,#ff2900 54.5px,#ff4400 55.5px,#ff7300 58.5px,#ff8100 60.5px,#ff9400 64.5px,#ffdf00 73.5px,#fffe00 78.5px,#fbff00 79.5px,#e1ff00 85.5px,#c5ff00 93.5px,#9fff00 100.5px,#88ff00 108.5px,#44ff00 117.5px,#1aff00 118.5px,#00ff00 119.5px,#00ff00 168.5px,#00ff0f 169.5px,#00ff55 171.5px,#00ff63 172.5px,#00ff89 181.5px,#00ff9f 193.5px,#00ffe1 201.5px,#00feff 214.5px,#00e7ff 228.5px,#00c0ff 265.5px,#0090ff 301.5px,#0078ff 351.5px,#004dff 409.5px,#0033ff 456.5px,#0010ff 499.5px,#0000ff 529.5px,#2000ff 634.5px,#4000ff 700.5px,#6000ff 786.5px,#7800ff 870.5px,#8000f8 965.5px,#8f00e1 1279px)"></div>
<div style="height:4px;background:linear-gradient(90deg,#cf0000 0px,#ff0000 10.5px,#ff0000 52.5px,#ff2400 54.5px,#ff3f00 55.5px,#ff5200 56.5px,#ff7100 58.5px,#ff8000 60.5px,#ff9300 64.5px,#ffdf00 73.5px,#fffd00 78.5px,#fcff00 79.5px,#e1ff00 85.5px,#c6ff00 93.5px,#9fff00 100.5px,#89ff00 108.5px,#46ff00 117.5px,#30ff00 118.5px,#00ff00 119.5px,#00ff00 168.5px,#00ff04 169.5px,#00ff4a 171.5px,#00ff62 172.5px,#00ff88 181.5px,#00ff9f 193.5px,#00ffa4 194.5px,#00ffe0 201.5px,#00feff 214.5px,#00e8ff 228.5px,#00bfff 266.5px,#0090ff 302.5px,#0078ff 352.5px,#004eff 411.5px,#0033ff 459.5px,#0010ff 503.5px,#0000ff 534.5px,#2000ff 638.5px,#4000ff 705.5px,#6000ff 791.5px,#7800ff 876.5px,#8000f8 973.5px,#8f00e1 1279px)"></div>
<div style="height:4px;background:linear-gradient(90deg,#ce0000 0px,#ff0000 10.5px,#ff0000 52.5px,#ff2000 54.5px,#ff3b00 55.5px,#ff5000 56.5px,#ff6f00 58.5px,#ff7f00 60.5px,#ff9200 64.5px,#ffde00 73.5px,#fffd00 78.5px,#fcff00 79.5px,#e2ff00 85.5px,#c7ff00 93.5px,#a0ff00 100.5px,#84ff00 109.5px,#41ff00 118.5px,#00ff00 119.5px,#00ff00 169.5px,#00ff1b 170.5px,#00ff60 172.5px,#00ff88 181.5px,#00ffa2 194.5px,#00ffdf 201.5px,#00ffff 214.5px,#00e8ff 228.5px,#00c0ff 266.5px,#0090ff 303.5px,#0078ff 353.5px,#004dff 414.5px,#0033ff 462.5px,#0010ff 507.5px,#0000ff 539.5px,#2000ff 642.5px,#4000ff 710.5px,#6000ff 796.5px,#7800ff 883.5px,#8f00e2 1279px)"></div>
<div style="height:4px;background:linear-gradient(90deg,#cd0000 0px,#fe0000 10.5px,#ff0000 11.5px,#ff0000 52.5px,#ff0b00 53.5px,#ff1d00 54.5px,#ff4d00 56.5px,#ff6c00 58.5px,#ff7600 59.5px,#ff9100 64.5px,#ffde00 73.5px,#fffd00 78.5px,#fcff00 79.5px,#deff00 86.5px,#c8ff00 93.5px,#a0ff00 100.5px,#85ff00 109.5px,#42ff00 118.5px,#06ff00 119.5px,#00ff00 120.5px,#00ff00 169.5px,#00ff10 170.5px,#00ff56 172.5px,#00ff63 173.5px,#00ff86 181.5px,#00ffa0 194.5px,#00ffdd 201.5px,#00ffff 214.5px,#00e7ff 229.5px,#00c0ff 267.5px,#0090ff 304.5px,#0079ff 354.5px,#004dff 416.5px,#0033ff 465.5px,#0010ff 511.5px,#0000ff 543.5px,#2000ff 647.5px,#4000ff 714.5px,#6000ff 801.5px,#7800ff 889.5px,#8e00e2 1279px)"></div>
<div style="height:4px;background:linear-gradient(90deg,#cb0000 0px,#ff0000 11.5px,#ff0000 52.5px,#ff0900 53.5px,#ff1b00 54.5px,#ff4b00 56.5px,#ff7500 59.5px,#ff8300 61.5px,#ff9000 64.5px,#ffdd00 73.5px,#fffc00 78.5px,#fdff00 79.5px,#dfff00 86.5px,#c8ff00 93.5px,#a1ff00 100.5px,#87ff00 109.5px,#44ff00 118.5px,#1cff00 119.5px,#00ff00 120.5px,#00ff00 169.5px,#00ff04 170.5px,#00ff4b 172.5px,#00ff62 173.5px,#00ff89 182.5px,#00ff9f 194.5px,#00ffe1 202.5px,#00feff 215.5px,#00e8ff 229.5px,#00c0ff 267.5px,#0090ff 304.5px,#0079ff 355.5px,#004dff 418.5px,#0033ff 468.5px,#0010ff 515.5px,#0000ff 548.5px,#2000ff 651.5px,#4000ff 719.5px,#6000ff 806.5px,#7800ff 895.5px,#8e00e3 1279px)"></div>
<div style="height:4px;background:linear-gradient(90deg,#ca0000 0px,#ff0000 11.5px,#ff0000 52.5px,#ff0600 53.5px,#ff1800 54.5px,#ff4800 56.5px,#ff7300 59.5px,#ff8200 61.5px,#ff9000 64.5px,#ffdd00 73.5px,#fdff00 79.5px,#dfff00 86.5px,#c9ff00 93.5px,#a2ff00 100.5px,#88ff00 109.5px,#46ff00 118.5px,#31ff00 119.5px,#00ff00 120.5px,#00ff00 170.5px,#00ff1c 171.5px,#00ff60 173.5px,#00ff88 182.5px,#00ff9f 194.5px,#00ffa4 195.5px,#00ffe0 202.5px,#00feff 215.5px,#00e8ff 229.5px,#00c0ff 268.5px,#0090ff 305.5px,#0079ff 356.5px,#004dff 420.5px,#0033ff 471.5px,#0010ff 519.5px,#0000ff 553.5px,#2000ff 656.5px,#4000ff 724.5px,#6000ff 811.5px,#7800ff 901.5px,#8e00e3 1279px)"></div>
<div style="height:4px;background:linear-gradient(90deg,#c90000 0px,#ff0000 11.5px,#ff0000 52.5px,#ff0400 53.5px,#ff2a00 55.5px,#ff4400 56.5px,#ff7200 59.5px,#ff8100 61.5px,#ff8f00 64.5px,#ffdc00 73.5px,#fdff00 79.5px,#dfff00 86.5px,#c9ff00 93.5px,#9fff00 101.5px,#89ff00 109.5px,#41ff00 119.5px,#00ff00 120.5px,#00ff00 170.5px,#00ff11 171.5px,#00ff58 173.5px,#00ff63 174.5px,#00ff87 182.5px,#00ffa1 195.5px,#00ffdf 202.5px,#00ffff 215.5px,#00e8ff 229.5px,#00c0ff 268.5px,#0090ff 306.5px,#0079ff 357.5px,#004eff 422.5px,#0033ff 474.5px,#0010ff 523.5px,#0000ff 558.5px,#2000ff 660.5px,#4000ff 728.5px,#6000ff 816.5px,#7800ff 908.5px,#8d00e4 1279px)"></div>
<div style="height:4px;background:linear-gradient(90deg,#c80000 0px,#fe0000 11.5px,#ff0100 53.5px,#ff2600 55.5px,#ff4000 56.5px,#ff7000 59.5px,#ff8000 61.5px,#ff9600 65.5px,#ffdb00 73.5px,#feff00 79.5px,#e0ff00 86.5px,#caff00 93.5px,#9fff00 101.5px,#84ff00 110.5px,#42ff00 119.5px,#08ff00 120.5px,#00ff00 121.5px,#00ff00 170.5px,#00ff05 171.5px,#00ff4c 173.5px,#00ff62 174.5px,#00ff89 183.5px,#00ffa0 195.5px,#00ffdd 202.5px,#00ffff 215.5px,#00e7ff 230.5px,#00c0ff 269.5px,#0090ff 307.5px,#0078ff 359.5px,#004dff 425.5px,#0033ff 477.5px,#0010ff 527.5px,#0000ff 562.5px,#2000ff 665.5px,#4000ff 733.5px,#6000ff 821.5px,#7800ff 914.5px,#8d00e4 1279px)"></div>
<div style="height:4px;background:linear-gradient(90deg,#c60000 0px,#fd0000 11.5px,#ff0000 12.5px,#ff0000 53.5px,#ff2200 55.5px,#ff3c00 56.5px,#ff5000 57.5px,#ff6d00 59.5px,#ff7700 60.5px,#ff9500 65.5px,#ffda00 73.5px,#feff00 79.5px,#e0ff00 86.5px,#c6ff00 94.5px,#a0ff00 101.5px,#86ff00 110.5px,#44ff00 119.5px,#1dff00 120.5px,#00ff00 121.5px,#00ff00 171.5px,#00ff1d 172.5px,#00ff61 174.5px,#00ff88 183.5px,#00ff9f 195.5px,#00ffe1 203.5px,#00feff 216.5px,#00e8ff 230.5px,#00c0ff 269.5px,#0090ff 308.5px,#0078ff 360.5px,#004dff 427.5px,#0033ff 480.5px,#0010ff 531.5px,#0000ff 567.5px,#2000ff 669.5px,#4000ff 738.5px,#6000ff 826.5px,#7800ff 920.5px,#8d00e5 1279px)"></div>
<div style="height:4px;background:linear-gradient(90deg,#c50000 0px,#ff0000 12.5px,#ff0000 53.5px,#ff1f00 55.5px,#ff4d00 57.5px,#ff7600 60.5px,#ff9400 65.5px,#ffe100 74.5px,#feff00 79.5px,#e0ff00 86.5px,#c7ff00 94.5px,#a0ff00 101.5px,#87ff00 110.5px,#46ff00 119.5px,#32ff00 120.5px,#00ff00 121.5px,#00ff00 171.5px,#00ff11 172.5px,#00ff59 174.5px,#00ff64 175.5px,#00ff87 183.5px,#00ffa3 196.5px,#00ffe1 203.5px,#00feff 216.5px,#00e8ff 230.5px,#00c0ff 270.5px,#0090ff 309.5px,#0085ff 328.5px,#0078ff 361.5px,#004dff 429.5px,#0033ff 483.5px,#0010ff 535.5px,#0000ff 572.5px,#2000ff 674.5px,#4000ff 742.5px,#6000ff 831.5px,#7800ff 927.5px,#8d00e5 1279px)"></div>
<div style="height:4px;background:linear-gradient(90deg,#c40000 0px,#ff0000 12.5px,#ff0000 53.5px,#ff0b00 54.5px,#ff1c00 55.5px,#ff4b00 57.5px,#ff7400 60.5px,#ff9300 65.5px,#ffe000 74.5px,#ffff00 79.5px,#e1ff00 86.5px,#c8ff00 94.5px,#a1ff00 101.5px,#88ff00 110.5px,#41ff00 120.5px,#00ff00 121.5px,#00ff00 171.5px,#00ff06 172.5px,#00ff4e 174.5px,#00ff62 175.5px,#00ff89 184.5px,#00ffa1 196.5px,#00ffe0 203.5px,#00feff 216.5px,#00e7ff 231.5px,#00bfff 271.5px,#0090ff 309.5px,#0084ff 329.5px,#0079ff 362.5px,#004dff 431.5px,#0032ff 487.5px,#0010ff 539.5px,#0000ff 577.5px,#2000ff 678.5px,#4000ff 747.5px,#6000ff 836.5px,#7800ff 933.5px,#8c00e6 1279px)"></div>
<div style="height:4px;background:linear-gradient(90deg,#c20000 0px,#ff0000 12.5px,#ff0000 53.5px,#ff0900 54.5px,#ff1a00 55.5px,#ff4800 57.5px,#ff7300 60.5px,#ff8200 62.5px,#ff9200 65.5px,#ffe000 74.5px,#ffff00 79.5px,#e1ff00 86.5px,#c8ff00 94.5px,#a2ff00 101.5px,#89ff00 110.5px,#83ff00 111.5px,#42ff00 120.5px,#09ff00 121.5px,#00ff00 122.5px,#00ff00 172.5px,#00ff61 175.5px,#00ff89 184.5px,#00ffa0 196.5px,#00ffdd 203.5px,#00ffff 216.5px,#00e8ff 231.5px,#00c0ff 271.5px,#0090ff 310.5px,#0085ff 329.5px,#0079ff 363.5px,#004eff 433.5px,#0032ff 490.5px,#0010ff 543.5px,#0000ff 581.5px,#2000ff 683.5px,#4000ff 752.5px,#6000ff 840.5px,#7800ff 939.5px,#8c00e6 1279px)"></div>
<div style="height:4px;background:linear-gradient(90deg,#c10000 0px,#fe0000 12.5px,#ff0000 53.5px,#ff0600 54.5px,#ff2c00 56.5px,#ff4500 57.5px,#ff7100 60.5px,#ff8200 62.5px,#ff9100 65.5px,#ffdf00 74.5px,#ffff00 79.5px,#fbff00 80.5px,#e2ff00 86.5px,#c9ff00 94.5px,#9fff00 102.5px,#84ff00 111.5px,#44ff00 120.5px,#1eff00 121.5px,#00ff00 122.5px,#00ff00 172.5px,#00ff12 173.5px,#00ff5a 175.5px,#00ff64 176.5px,#00ff88 184.5px,#00ff9f 196.5px,#00ffe1 204.5px,#00ffff 216.5px,#00e8ff 231.5px,#00bfff 272.5px,#0090ff 311.5px,#0085ff 330.5px,#0079ff 364.5px,#004dff 436.5px,#0032ff 493.5px,#0010ff 547.5px,#0000ff 586.5px,#2000ff 687.5px,#4000ff 757.5px,#6000ff 845.5px,#7800ff 945.5px,#8c00e7 1279px)"></div>
<div style="height:4px;background:linear-gradient(90deg,#c00000 0px,#fd0000 12.5px,#ff0000 13.5px,#ff0000 53.5px,#ff0400 54.5px,#ff2900 56.5px,#ff4200 57.5px,#ff7000 60.5px,#ff8100 62.5px,#ff9100 65.5px,#ffdf00 74.5px,#fffe00 79.5px,#fbff00 80.5px,#dfff00 87.5px,#c9ff00 94.5px,#9fff00 102.5px,#86ff00 111.5px,#46ff00 120.5px,#33ff00 121.5px,#00ff00 122.5px,#00ff00 172.5px,#00ff06 173.5px,#00ff4f 175.5px,#00ff62 176.5px,#00ff87 184.5px,#00ffa3 197.5px,#00ffe1 204.5px,#00feff 217.5px,#00e7ff 232.5px,#00c0ff 272.5px,#0090ff 312.5px,#0084ff 331.5px,#0079ff 365.5px,#004dff 438.5px,#0032ff 496.5px,#0010ff 551.5px,#0000ff 591.5px,#2000ff 692.5px,#4000ff 761.5px,#6000ff 850.5px,#7800ff 952.5px,#8b00e7 1279px)"></div>
<div style="height:4px;background:linear-gradient(90deg,#be0000 0px,#ff0000 13.5px,#ff0100 54.5px,#ff2500 56.5px,#ff3f00 57.5px,#ff5100 58.5px,#ff6e00 60.5px,#ff8000 62.5px,#ff9000 65.5px,#ffde00 74.5px,#fffe00 79.5px,#fcff00 80.5px,#dfff00 87.5px,#c9ff00 94.5px,#a0ff00 102.5px,#87ff00 111.5px,#41ff00 121.5px,#00ff00 122.5px,#00ff00 173.5px,#00ff1f 174.5px,#00ff43 175.5px,#00ff61 176.5px,#00ff89 185.5px,#00ffa0 197.5px,#00ffe0 204.5px,#00feff 217.5px,#00e7ff 232.5px,#00bfff 273.5px,#0090ff 313.5px,#0085ff 331.5px,#0078ff 367.5px,#004dff 440.5px,#0032ff 499.5px,#0010ff 555.5px,#0000ff 596.5px,#2000ff 696.5px,#4000ff 766.5px,#6000ff 855.5px,#7800ff 958.5px,#8b00e8 1279px)"></div>
<div style="height:4px;background:linear-gradient(90deg,#bd0000 0px,#ff0000 13.5px,#ff0000 54.5px,#ff2200 56.5px,#ff3c00 57.5px,#ff5000 58.5px,#ff6d00 60.5px,#ff7700 61.5px,#ff8000 62.5px,#ff8f00 65.5px,#ffde00 74.5px,#fffd00 79.5px,#fcff00 80.5px,#dfff00 87.5px,#c6ff00 95.5px,#a0ff00 102.5px,#88ff00 111.5px,#42ff00 121.5px,#0bff00 122.5px,#00ff00 123.5px,#00ff00 173.5px,#00ff13 174.5px,#00ff5c 176.5px,#00ff64 177.5px,#00ff88 185.5px,#00ffa0 197.5px,#00ffde 204.5px,#00feff 217.5px,#00e8ff 232.5px,#00c0ff 273.5px,#0090ff 313.5px,#0084ff 333.5px,#0078ff 368.5px,#004dff 442.5px,#0032ff 502.5px,#0010ff 559.5px,#0000ff 600.5px,#2000ff 701.5px,#4000ff 771.5px,#6000ff 860.5px,#7800ff 964.5px,#8b00e8 1279px)"></div>
<div style="height:4px;background:linear-gradient(90deg,#bb0000 0px,#ff0000 13.5px,#ff0000 54.5px,#ff1f00 56.5px,#ff4e00 58.5px,#ff6c00 60.5px,#ff7600 61.5px,#ff9600 66.5px,#ffdd00 74.5px,#fffd00 79.5px,#fcff00 80.5px,#e0ff00 87.5px,#c7ff00 95.5px,#a1ff00 102.5px,#89ff00 111.5px,#83ff00 112.5px,#44ff00 121.5px,#00ff00 123.5px,#00ff00 173.5px,#00ff07 174.5px,#00ff50 176.5px,#00ff63 177.5px,#00ff87 185.5px,#00ff9f 197.5px,#00ffa5 198.5px,#00ffdc 204.5px,#00ffe1 205.5px,#00ffff 217.5px,#00e8ff 232.5px,#00bfff 274.5px,#0090ff 314.5px,#0085ff 334.5px,#0078ff 369.5px,#004eff 444.5px,#0033ff 504.5px,#0010ff 562.5px,#0000ff 605.5px,#2000ff 705.5px,#4000ff 776.5px,#6000ff 865.5px,#7800ff 970.5px,#8a00e9 1279px)"></div>
<div style="height:4px;background:linear-gradient(90deg,#ba0000 0px,#fe0000 13.5px,#ff0000 14.5px,#ff0000 54.5px,#ff0c00 55.5px,#ff1d00 56.5px,#ff4c00 58.5px,#ff7600 61.5px,#ff9500 66.5px,#ffdc00 74.5px,#fffc00 79.5px,#fdff00 80.5px,#e0ff00 87.5px,#c7ff00 95.5px,#9eff00 103.5px,#85ff00 112.5px,#46ff00 121.5px,#34ff00 122.5px,#00ff00 123.5px,#00ff00 174.5px,#00ff44 176.5px,#00ff61 177.5px,#00ff89 186.5px,#00ffa2 198.5px,#00ffe1 205.5px,#00ffff 217.5px,#00e7ff 233.5px,#00c0ff 274.5px,#0090ff 315.5px,#0085ff 335.5px,#0078ff 370.5px,#004dff 447.5px,#0033ff 507.5px,#0010ff 566.5px,#0000ff 611.5px,#2000ff 708.5px,#4000ff 783.5px,#6000ff 870.5px,#7800ff 976.5px,#8a00e9 1279px)"></div>
<div style="height:4px;background:linear-gradient(90deg,#b80000 0px,#fd0000 13.5px,#ff0000 14.5px,#ff0000 54.5px,#ff0900 55.5px,#ff1b00 56.5px,#ff4a00 58.5px,#ff7500 61.5px,#ff9400 66.5px,#ffdc00 74.5px,#fffc00 79.5px,#fdff00 80.5px,#e0ff00 87.5px,#c8ff00 95.5px,#9fff00 103.5px,#86ff00 112.5px,#41ff00 122.5px,#00ff00 123.5px,#00ff00 174.5px,#00ff14 175.5px,#00ff5d 177.5px,#00ff64 178.5px,#00ff88 186.5px,#00ffa0 198.5px,#00ffe0 205.5px,#00feff 218.5px,#00e8ff 233.5px,#00bfff 275.5px,#0090ff 317.5px,#0085ff 336.5px,#0078ff 371.5px,#004dff 450.5px,#0033ff 510.5px,#0010ff 570.5px,#0000ff 616.5px,#2000ff 712.5px,#6000ff 874.5px,#7800ff 981.5px,#8a00e9 1279px)"></div>
<div style="height:4px;background:linear-gradient(90deg,#b80000 0px,#ff0000 14.5px,#ff0000 54.5px,#ff0800 55.5px,#ff1900 56.5px,#ff4900 58.5px,#ff7400 61.5px,#ff9400 66.5px,#ffda00 74.5px,#feff00 80.5px,#e1ff00 87.5px,#c9ff00 95.5px,#9fff00 103.5px,#88ff00 112.5px,#43ff00 122.5px,#0dff00 123.5px,#00ff00 124.5px,#00ff00 175.5px,#00ff48 177.5px,#00ff62 178.5px,#00ff86 186.5px,#00ff9f 198.5px,#00ffa3 199.5px,#00ffe1 206.5px,#00ffff 218.5px,#00e7ff 234.5px,#00c0ff 275.5px,#0090ff 318.5px,#0078ff 372.5px,#004dff 452.5px,#0033ff 512.5px,#0010ff 574.5px,#0000ff 621.5px,#2000ff 716.5px,#6000ff 879.5px,#7800ff 986.5px,#8900ea 1279px)"></div>
<div style="height:4px;background:linear-gradient(90deg,#b70000 0px,#ff0000 14.5px,#ff0000 54.5px,#ff0700 55.5px,#ff1800 56.5px,#ff4800 58.5px,#ff7300 61.5px,#ff8300 63.5px,#ff9300 66.5px,#ffe100 75.5px,#feff00 80.5px,#e2ff00 87.5px,#c9ff00 95.5px,#a0ff00 103.5px,#89ff00 112.5px,#44ff00 122.5px,#00ff00 124.5px,#00ff00 175.5px,#00ff0c 176.5px,#00ff55 178.5px,#00ff63 179.5px,#00ff88 187.5px,#00ff9f 199.5px,#00ffdd 206.5px,#00feff 219.5px,#00e8ff 234.5px,#00bfff 276.5px,#0090ff 319.5px,#0033ff 515.5px,#0010ff 577.5px,#0000ff 627.5px,#2000ff 720.5px,#6000ff 884.5px,#7800ff 992.5px,#8900ea 1279px)"></div>
<div style="height:4px;background:linear-gradient(90deg,#b60000 0px,#ff0000 14.5px,#ff0000 54.5px,#ff0600 55.5px,#ff2c00 57.5px,#ff4600 58.5px,#ff7200 61.5px,#ff8200 63.5px,#ff9200 66.5px,#ffe000 75.5px,#ffff00 80.5px,#dfff00 88.5px,#c6ff00 96.5px,#a1ff00 103.5px,#84ff00 113.5px,#46ff00 122.5px,#37ff00 123.5px,#00ff00 124.5px,#00ff00 176.5px,#00ff1a 177.5px,#00ff60 179.5px,#00ff89 188.5px,#00ffa0 200.5px,#00ffe0 207.5px,#00feff 220.5px,#00e8ff 235.5px,#00c0ff 276.5px,#0090ff 320.5px,#0033ff 518.5px,#0010ff 581.5px,#0000ff 632.5px,#6000ff 888.5px,#7800ff 997.5px,#8900eb 1279px)"></div>
<div style="height:4px;background:linear-gradient(90deg,#b60000 0px,#fe0000 14.5px,#ff0000 54.5px,#ff0500 55.5px,#ff2b00 57.5px,#ff4400 58.5px,#ff7200 61.5px,#ff8200 63.5px,#ff9200 66.5px,#ffdf00 75.5px,#fffe00 80.5px,#fbff00 81.5px,#dfff00 88.5px,#c7ff00 96.5px,#9fff00 104.5px,#86ff00 113.5px,#41ff00 123.5px,#00ff00 124.5px,#00ff00 176.5px,#00ff04 177.5px,#00ff4c 179.5px,#00ff62 180.5px,#00ff86 188.5px,#00ff9f 200.5px,#00ffa3 201.5px,#00ffe1 208.5px,#00ffff 220.5px,#00e7ff 236.5px,#00c0ff 277.5px,#0090ff 321.5px,#0033ff 520.5px,#0010ff 585.5px,#0000ff 637.5px,#4000ff 816.5px,#6000ff 893.5px,#7800ff 1002.5px,#8800eb 1279px)"></div>
<div style="height:4px;background:linear-gradient(90deg,#b50000 0px,#fe0000 14.5px,#ff0000 15.5px,#ff0000 54.5px,#ff0400 55.5px,#ff2900 57.5px,#ff4200 58.5px,#ff7100 61.5px,#ff8100 63.5px,#ff9100 66.5px,#ffde00 75.5px,#fffd00 80.5px,#fcff00 81.5px,#e0ff00 88.5px,#c8ff00 96.5px,#9fff00 104.5px,#87ff00 113.5px,#43ff00 123.5px,#10ff00 124.5px,#00ff00 125.5px,#00ff00 177.5px,#00ff11 178.5px,#00ff5a 180.5px,#00ff64 181.5px,#00ff88 189.5px,#00ff9f 201.5px,#00ffdc 208.5px,#00ffe1 209.5px,#00ffff 221.5px,#00e8ff 236.5px,#0090ff 322.5px,#0033ff 523.5px,#0010ff 588.5px,#0000ff 643.5px,#4000ff 823.5px,#6000ff 898.5px,#7800ff 1008.5px,#8800ec 1279px)"></div>
<div style="height:4px;background:linear-gradient(90deg,#b50000 0px,#fd0000 14.5px,#ff0000 15.5px,#ff0300 55.5px,#ff2700 57.5px,#ff4000 58.5px,#ff6f00 61.5px,#ff8100 63.5px,#ff9000 66.5px,#ffdd00 75.5px,#fffc00 80.5px,#fdff00 81.5px,#e0ff00 88.5px,#c9ff00 96.5px,#a0ff00 104.5px,#88ff00 113.5px,#44ff00 123.5px,#00ff00 125.5px,#00ff00 178.5px,#00ff1f 179.5px,#00ff43 180.5px,#00ff61 181.5px,#00ff89 190.5px,#00ffa0 202.5px,#00ffdf 209.5px,#00feff 222.5px,#00e8ff 237.5px,#0090ff 323.5px,#0033ff 526.5px,#0010ff 592.5px,#0000ff 648.5px,#4000ff 829.5px,#6000ff 903.5px,#7800ff 1013.5px,#8800ec 1279px)"></div>
<div style="height:4px;background:linear-gradient(90deg,#b50000 0px,#ff0000 15.5px,#ff0100 55.5px,#ff2500 57.5px,#ff3e00 58.5px,#ff5100 59.5px,#ff6e00 61.5px,#ff7800 62.5px,#ff8000 63.5px,#ff9000 66.5px,#ffdd00 75.5px,#fdff00 81.5px,#e1ff00 88.5px,#c9ff00 96.5px,#a0ff00 104.5px,#84ff00 114.5px,#46ff00 123.5px,#39ff00 124.5px,#00ff00 125.5px,#00ff00 178.5px,#00ff09 179.5px,#00ff51 181.5px,#00ff63 182.5px,#00ff87 190.5px,#00ffa3 203.5px,#00ffe0 210.5px,#00feff 223.5px,#00e7ff 238.5px,#0090ff 324.5px,#0033ff 528.5px,#001bff 570.5px,#0010ff 596.5px,#0000ff 653.5px,#1000ff 691.5px,#4000ff 836.5px,#6000ff 908.5px,#7800ff 1019.5px,#8800ed 1279px)"></div>
<div style="height:4px;background:linear-gradient(90deg,#b50000 0px,#ff0000 15.5px,#ff0000 55.5px,#ff2300 57.5px,#ff3c00 58.5px,#ff5000 59.5px,#ff6c00 61.5px,#ff7700 62.5px,#ff8000 63.5px,#ff8f00 66.5px,#ffdb00 75.5px,#feff00 81.5px,#e2ff00 88.5px,#c6ff00 97.5px,#a2ff00 104.5px,#85ff00 114.5px,#41ff00 124.5px,#00ff00 125.5px,#00ff00 179.5px,#00ff16 180.5px,#00ff5e 182.5px,#00ff64 183.5px,#00ff88 191.5px,#00ff9f 203.5px,#00ffe1 211.5px,#00ffff 223.5px,#00e8ff 238.5px,#00d0ff 260.5px,#0090ff 326.5px,#0033ff 531.5px,#001bff 573.5px,#0010ff 600.5px,#0000ff 659.5px,#1000ff 695.5px,#4000ff 843.5px,#6000ff 912.5px,#7800ff 1024.5px,#8700ed 1279px)"></div>
<div style="height:4px;background:linear-gradient(90deg,#b40000 0px,#ff0000 15.5px,#ff0000 55.5px,#ff2200 57.5px,#ff4e00 59.5px,#ff7600 62.5px,#ff9700 67.5px,#ffda00 75.5px,#ffff00 81.5px,#dfff00 89.5px,#c7ff00 97.5px,#9fff00 105.5px,#87ff00 114.5px,#43ff00 124.5px,#13ff00 125.5px,#00ff00 126.5px,#00ff00 180.5px,#00ff48 182.5px,#00ff61 183.5px,#00ff89 192.5px,#00ffa0 204.5px,#00ffde 211.5px,#00ffff 224.5px,#00e8ff 239.5px,#00d1ff 260.5px,#0090ff 327.5px,#0033ff 533.5px,#001bff 576.5px,#0010ff 604.5px,#0000ff 664.5px,#2000ff 745.5px,#4000ff 849.5px,#6000ff 917.5px,#7800ff 1030.5px,#8700ee 1279px)"></div>
<div style="height:4px;background:linear-gradient(90deg,#b40000 0px,#de0000 9.5px,#ff0000 15.5px,#ff0000 55.5px,#ff2000 57.5px,#ff4d00 59.5px,#ff7500 62.5px,#ff9600 67.5px,#ffe000 76.5px,#ffff00 81.5px,#fbff00 82.5px,#dfff00 89.5px,#c8ff00 97.5px,#9fff00 105.5px,#88ff00 114.5px,#44ff00 124.5px,#00ff00 126.5px,#00ff00 180.5px,#00ff0e 181.5px,#00ff55 183.5px,#00ff63 184.5px,#00ff87 192.5px,#00ffa2 205.5px,#00ffe0 212.5px,#00feff 225.5px,#00e7ff 240.5px,#00d0ff 261.5px,#0090ff 328.5px,#0033ff 536.5px,#001cff 578.5px,#0010ff 608.5px,#0000ff 669.5px,#2000ff 749.5px,#4000ff 856.5px,#6000ff 922.5px,#7800ff 1035.5px,#8700ee 1279px)"></div>
<div style="height:4px;background:linear-gradient(90deg,#b40000 0px,#e20000 10.5px,#fe0000 15.5px,#ff0000 55.5px,#ff1f00 57.5px,#ff4c00 59.5px,#ff7500 62.5px,#ff9500 67.5px,#ffe000 76.5px,#fffe00 81.5px,#fcff00 82.5px,#e0ff00 89.5px,#c8ff00 97.5px,#a0ff00 105.5px,#89ff00 114.5px,#46ff00 124.5px,#31ff00 125.5px,#00ff00 126.5px,#00ff00 181.5px,#00ff1b 182.5px,#00ff60 184.5px,#00ff88 193.5px,#00ff9f 205.5px,#00ffe1 213.5px,#00feff 226.5px,#00e8ff 240.5px,#00d0ff 262.5px,#0090ff 329.5px,#0033ff 539.5px,#001bff 581.5px,#0010ff 611.5px,#0000ff 674.5px,#1000ff 707.5px,#2000ff 752.5px,#4000ff 863.5px,#6000ff 926.5px,#7800ff 1041.5px,#8600ef 1279px)"></div>
<div style="height:4px;background:linear-gradient(90deg,#b30000 0px,#ff0000 16.5px,#ff0000 55.5px,#ff1e00 57.5px,#ff4b00 59.5px,#ff7400 62.5px,#ff9500 67.5px,#ffdf00 76.5px,#fffd00 81.5px,#fdff00 82.5px,#e1ff00 89.5px,#c9ff00 97.5px,#a0ff00 105.5px,#84ff00 115.5px,#3fff00 125.5px,#00ff00 126.5px,#00ff00 181.5px,#00ff05 182.5px,#00ff4c 184.5px,#00ff62 185.5px,#00ff89 194.5px,#00ffa0 206.5px,#00ffdd 213.5px,#00ffff 226.5px,#00e8ff 241.5px,#00d0ff 263.5px,#0091ff 329.5px,#0085ff 349.5px,#0033ff 541.5px,#001bff 584.5px,#0000ff 680.5px,#1000ff 711.5px,#2000ff 756.5px,#4000ff 869.5px,#6000ff 931.5px,#7800ff 1046.5px,#8600ef 1279px)"></div>
<div style="height:4px;background:linear-gradient(90deg,#b30000 0px,#e00000 10.5px,#ff0000 16.5px,#ff0000 55.5px,#ff1c00 57.5px,#ff4a00 59.5px,#ff7300 62.5px,#ff8300 64.5px,#ff9400 67.5px,#ffde00 76.5px,#fdff00 82.5px,#e1ff00 89.5px,#c9ff00 97.5px,#a1ff00 105.5px,#85ff00 115.5px,#41ff00 125.5px,#00ff00 126.5px,#00ff00 182.5px,#00ff12 183.5px,#00ff59 185.5px,#00ff64 186.5px,#00ff87 194.5px,#00ffa2 207.5px,#00ffe0 214.5px,#00feff 227.5px,#00e7ff 242.5px,#00d0ff 263.5px,#0090ff 331.5px,#0085ff 350.5px,#0080ff 368.5px,#0033ff 545.5px,#001cff 587.5px,#0000ff 684.5px,#1000ff 715.5px,#2000ff 760.5px,#4000ff 875.5px,#6000ff 936.5px,#7800ff 1051.5px,#8600f0 1279px)"></div>
<div style="height:4px;background:linear-gradient(90deg,#b30000 0px,#df0000 10.5px,#ff0000 16.5px,#ff0000 55.5px,#ff0b00 56.5px,#ff1b00 57.5px,#ff4900 59.5px,#ff7200 62.5px,#ff8200 64.5px,#ff9300 67.5px,#ffdd00 76.5px,#feff00 82.5px,#e2ff00 89.5px,#c6ff00 98.5px,#a2ff00 105.5px,#86ff00 115.5px,#42ff00 125.5px,#0cff00 126.5px,#00ff00 127.5px,#00ff00 183.5px,#00ff43 185.5px,#00ff61 186.5px,#00ff88 195.5px,#00ff9f 207.5px,#00ffa5 208.5px,#00ffe1 215.5px,#00feff 228.5px,#00e8ff 242.5px,#00d0ff 264.5px,#0090ff 332.5px,#0085ff 351.5px,#0060ff 447.5px,#0033ff 549.5px,#001bff 592.5px,#0000ff 688.5px,#1000ff 717.5px,#2000ff 762.5px,#4000ff 880.5px,#6000ff 942.5px,#7800ff 1057.5px,#8500f0 1279px)"></div>
<div style="height:4px;background:linear-gradient(90deg,#b20000 0px,#de0000 10.5px,#ff0000 16.5px,#ff0000 55.5px,#ff0a00 56.5px,#ff1a00 57.5px,#ff4700 59.5px,#ff7100 62.5px,#ff8200 64.5px,#ff9300 67.5px,#ffdc00 76.5px,#ffff00 82.5px,#dfff00 90.5px,#c7ff00 98.5px,#9fff00 106.5px,#87ff00 115.5px,#43ff00 125.5px,#19ff00 126.5px,#00ff00 127.5px,#00ff00 183.5px,#00ff0a 184.5px,#00ff50 186.5px,#00ff62 187.5px,#00ff89 196.5px,#00ffa0 208.5px,#00ffdc 215.5px,#00ffe1 216.5px,#00feff 229.5px,#00e8ff 243.5px,#00d0ff 265.5px,#0090ff 333.5px,#0085ff 352.5px,#0060ff 451.5px,#0033ff 553.5px,#001bff 596.5px,#0000ff 691.5px,#1000ff 719.5px,#2000ff 765.5px,#4000ff 884.5px,#6000ff 948.5px,#7800ff 1062.5px,#8500f1 1279px)"></div>
<div style="height:4px;background:linear-gradient(90deg,#b20000 0px,#dd0000 10.5px,#ff0000 16.5px,#ff0000 55.5px,#ff0900 56.5px,#ff1900 57.5px,#ff4500 59.5px,#ff7000 62.5px,#ff7900 63.5px,#ff9200 67.5px,#ffdb00 76.5px,#ffff00 82.5px,#fbff00 83.5px,#dfff00 90.5px,#c8ff00 98.5px,#9fff00 106.5px,#88ff00 115.5px,#45ff00 125.5px,#27ff00 126.5px,#00ff00 127.5px,#00ff00 184.5px,#00ff17 185.5px,#00ff5e 187.5px,#00ff64 188.5px,#00ff87 196.5px,#00ffa1 209.5px,#00ffdf 216.5px,#00ffff 229.5px,#00e8ff 244.5px,#00d0ff 265.5px,#0090ff 334.5px,#0085ff 352.5px,#0060ff 456.5px,#0033ff 557.5px,#001bff 601.5px,#0000ff 694.5px,#1000ff 722.5px,#2000ff 768.5px,#4000ff 888.5px,#6000ff 954.5px,#7800ff 1067.5px,#8500f1 1279px)"></div>
<div style="height:4px;background:linear-gradient(90deg,#b10000 0px,#e10000 11.5px,#fe0000 16.5px,#ff0000 55.5px,#ff0800 56.5px,#ff1800 57.5px,#ff4400 59.5px,#ff5300 60.5px,#ff6f00 62.5px,#ff7900 63.5px,#ff9100 67.5px,#ffe100 77.5px,#fffe00 82.5px,#fcff00 83.5px,#e0ff00 90.5px,#c8ff00 98.5px,#a0ff00 106.5px,#89ff00 115.5px,#46ff00 125.5px,#34ff00 126.5px,#00ff00 127.5px,#00ff01 185.5px,#00ff48 187.5px,#00ff61 188.5px,#00ff88 197.5px,#00ff9f 209.5px,#00ffa4 210.5px,#00ffe0 217.5px,#00feff 230.5px,#00e8ff 244.5px,#00d0ff 266.5px,#0090ff 335.5px,#0085ff 353.5px,#0060ff 460.5px,#0033ff 562.5px,#001bff 605.5px,#0000ff 698.5px,#1000ff 724.5px,#2000ff 771.5px,#4000ff 893.5px,#6000ff 960.5px,#7800ff 1073.5px,#8400f2 1279px)"></div>
<div style="height:4px;background:linear-gradient(90deg,#b10000 0px,#e00000 11.5px,#fd0000 16.5px,#ff0000 17.5px,#ff0000 55.5px,#ff0700 56.5px,#ff1700 57.5px,#ff4200 59.5px,#ff5200 60.5px,#ff7800 63.5px,#ff8000 64.5px,#ff9100 67.5px,#ffe000 77.5px,#fffd00 82.5px,#fcff00 83.5px,#e0ff00 90.5px,#c9ff00 98.5px,#a0ff00 106.5px,#84ff00 116.5px,#40ff00 126.5px,#00ff00 127.5px,#00ff00 185.5px,#00ff0f 186.5px,#00ff55 188.5px,#00ff63 189.5px,#00ff89 198.5px,#00ffa0 210.5px,#00ffdc 217.5px,#00ffe1 218.5px,#00feff 231.5px,#00e8ff 245.5px,#00d0ff 266.5px,#0090ff 336.5px,#0085ff 354.5px,#0060ff 464.5px,#0033ff 566.5px,#001bff 609.5px,#0000ff 701.5px,#1000ff 727.5px,#2000ff 774.5px,#4000ff 897.5px,#6000ff 966.5px,#7800ff 1078.5px,#8400f2 1279px)"></div>
<div style="height:4px;background:linear-gradient(90deg,#b10000 0px,#df0000 11.5px,#ff0000 17.5px,#ff0000 55.5px,#ff0600 56.5px,#ff2800 58.5px,#ff4000 59.5px,#ff5100 60.5px,#ff7700 63.5px,#ff8000 64.5px,#ff9000 67.5px,#ffdf00 77.5px,#fdff00 83.5px,#e1ff00 90.5px,#c9ff00 98.5px,#a1ff00 106.5px,#85ff00 116.5px,#41ff00 126.5px,#01ff00 127.5px,#00ff00 128.5px,#00ff00 186.5px,#00ff1c 187.5px,#00ff60 189.5px,#00ff88 198.5px,#00ffa1 211.5px,#00ffde 218.5px,#00ffff 231.5px,#00e8ff 246.5px,#00d0ff 267.5px,#0090ff 337.5px,#0085ff 356.5px,#0060ff 468.5px,#0033ff 570.5px,#001bff 614.5px,#0000ff 704.5px,#1000ff 730.5px,#2000ff 777.5px,#4000ff 901.5px,#6000ff 972.5px,#7800ff 1084.5px,#8400f3 1279px)"></div>
<div style="height:4px;background:linear-gradient(90deg,#b00000 0px,#de0000 11.5px,#ff0000 17.5px,#ff0000 55.5px,#ff0500 56.5px,#ff2700 58.5px,#ff3e00 59.5px,#ff5000 60.5px,#ff6b00 62.5px,#ff7f00 64.5px,#ff9000 67.5px,#ffdf00 77.5px,#feff00 83.5px,#e2ff00 90.5px,#c6ff00 99.5px,#a2ff00 106.5px,#86ff00 116.5px,#42ff00 126.5px,#0eff00 127.5px,#00ff00 128.5px,#00ff00 186.5px,#00ff06 187.5px,#00ff4c 189.5px,#00ff62 190.5px,#00ff88 199.5px,#00ff9f 211.5px,#00ffa4 212.5px,#00ffe0 219.5px,#00ffff 232.5px,#00e8ff 246.5px,#00d0ff 268.5px,#0091ff 338.5px,#0085ff 358.5px,#0060ff 473.5px,#0010ff 647.5px,#0000ff 708.5px,#1000ff 732.5px,#2000ff 780.5px,#4000ff 906.5px,#6000ff 978.5px,#7800ff 1089.5px,#8300f3 1279px)"></div>
<div style="height:4px;background:linear-gradient(90deg,#b00000 0px,#dd0000 11.5px,#ff0000 17.5px,#ff0000 55.5px,#ff0400 56.5px,#ff2500 58.5px,#ff4f00 60.5px,#ff6a00 62.5px,#ff7e00 64.5px,#ff8f00 67.5px,#ffde00 77.5px,#feff00 83.5px,#dfff00 91.5px,#c7ff00 99.5px,#9fff00 107.5px,#87ff00 116.5px,#44ff00 126.5px,#1cff00 127.5px,#00ff00 128.5px,#00ff00 187.5px,#00ff13 188.5px,#00ff59 190.5px,#00ff63 191.5px,#00ff86 199.5px,#00ffa0 212.5px,#00ffe1 220.5px,#00feff 233.5px,#00e8ff 247.5px,#00d0ff 268.5px,#0091ff 339.5px,#0085ff 359.5px,#0060ff 477.5px,#0033ff 578.5px,#001bff 622.5px,#0000ff 711.5px,#1000ff 734.5px,#2000ff 783.5px,#4000ff 910.5px,#6000ff 984.5px,#7800ff 1094.5px,#8300f4 1279px)"></div>
<div style="height:4px;background:linear-gradient(90deg,#af0000 0px,#e10000 12.5px,#ff0000 17.5px,#ff0000 55.5px,#ff0300 56.5px,#ff2300 58.5px,#ff4e00 60.5px,#ff7400 63.5px,#ff9600 68.5px,#ffdd00 77.5px,#ffff00 83.5px,#dfff00 91.5px,#c8ff00 99.5px,#9fff00 107.5px,#88ff00 116.5px,#45ff00 126.5px,#29ff00 127.5px,#00ff00 128.5px,#00ff00 188.5px,#00ff43 190.5px,#00ff61 191.5px,#00ff88 200.5px,#00ffa1 213.5px,#00ffdd 220.5px,#00ffe2 221.5px,#00feff 234.5px,#00e8ff 248.5px,#00d0ff 269.5px,#0090ff 341.5px,#0085ff 361.5px,#0060ff 481.5px,#0033ff 583.5px,#001bff 627.5px,#0000ff 714.5px,#1000ff 737.5px,#2000ff 786.5px,#4000ff 915.5px,#6000ff 990.5px,#7800ff 1100.5px,#8300f4 1279px)"></div>
<div style="height:4px;background:linear-gradient(90deg,#ae0000 0px,#e00000 12.5px,#fe0000 17.5px,#ff0200 56.5px,#ff2200 58.5px,#ff4d00 60.5px,#ff7300 63.5px,#ff7d00 64.5px,#ff9500 68.5px,#ffdc00 77.5px,#fffe00 83.5px,#fcff00 84.5px,#e0ff00 91.5px,#c8ff00 99.5px,#a0ff00 107.5px,#89ff00 116.5px,#83ff00 117.5px,#46ff00 126.5px,#37ff00 127.5px,#00ff00 128.5px,#00ff00 188.5px,#00ff0b 189.5px,#00ff50 191.5px,#00ff62 192.5px,#00ff89 201.5px,#00ff9f 213.5px,#00ffa3 214.5px,#00ffe0 221.5px,#00ffff 234.5px,#00e9ff 248.5px,#00cfff 270.5px,#0090ff 342.5px,#0085ff 363.5px,#0060ff 485.5px,#0033ff 587.5px,#001bff 631.5px,#0000ff 718.5px,#1000ff 739.5px,#2000ff 789.5px,#4000ff 919.5px,#6000ff 996.5px,#7800ff 1105.5px,#8200f5 1279px)"></div>
<div style="height:4px;background:linear-gradient(90deg,#ae0000 0px,#df0000 12.5px,#fd0000 17.5px,#ff0000 18.5px,#ff0100 56.5px,#ff2000 58.5px,#ff4b00 60.5px,#ff7300 63.5px,#ff7c00 64.5px,#ff9500 68.5px,#ffdb00 77.5px,#fffd00 83.5px,#fcff00 84.5px,#e0ff00 91.5px,#c9ff00 99.5px,#a0ff00 107.5px,#84ff00 117.5px,#40ff00 127.5px,#00ff00 128.5px,#00ff00 189.5px,#00ff18 190.5px,#00ff5d 192.5px,#00ff64 193.5px,#00ff87 201.5px,#00ff9f 214.5px,#00ffe1 222.5px,#00feff 235.5px,#00e8ff 249.5px,#00d0ff 270.5px,#0090ff 344.5px,#0085ff 365.5px,#0060ff 489.5px,#004dff 536.5px,#001bff 635.5px,#0000ff 721.5px,#1000ff 742.5px,#2000ff 792.5px,#4000ff 923.5px,#6000ff 1002.5px,#7800ff 1110.5px,#8200f5 1279px)"></div>
<div style="height:4px;background:linear-gradient(90deg,#ad0000 0px,#de0000 12.5px,#fc0000 17.5px,#ff0000 18.5px,#ff0000 56.5px,#ff1f00 58.5px,#ff4a00 60.5px,#ff7200 63.5px,#ff7b00 64.5px,#ff9400 68.5px,#ffe000 78.5px,#fdff00 84.5px,#e1ff00 91.5px,#c9ff00 99.5px,#a1ff00 107.5px,#85ff00 117.5px,#42ff00 127.5px,#04ff00 128.5px,#00ff00 129.5px,#00ff00 189.5px,#00ff03 190.5px,#00ff48 192.5px,#00ff61 193.5px,#00ff88 202.5px,#00ffa0 215.5px,#00ffdc 222.5px,#00ffe1 223.5px,#00feff 236.5px,#00e8ff 250.5px,#00d0ff 271.5px,#0090ff 345.5px,#0085ff 367.5px,#0060ff 494.5px,#004dff 540.5px,#001bff 640.5px,#0000ff 724.5px,#1000ff 744.5px,#2000ff 794.5px,#4000ff 928.5px,#6000ff 1008.5px,#7800ff 1116.5px,#8100f6 1279px)"></div>
<div style="height:4px;background:linear-gradient(90deg,#ac0000 0px,#de0000 12.5px,#ff0000 18.5px,#ff0000 56.5px,#ff1e00 58.5px,#ff4900 60.5px,#ff7100 63.5px,#ff7a00 64.5px,#ff9300 68.5px,#ffe000 78.5px,#fdff00 84.5px,#e1ff00 91.5px,#caff00 99.5px,#a2ff00 107.5px,#86ff00 117.5px,#43ff00 127.5px,#11ff00 128.5px,#00ff00 129.5px,#00ff00 190.5px,#00ff1d 191.5px,#00ff60 193.5px,#00ff87 202.5px,#00ffa0 215.5px,#00ffe1 223.5px,#00ffff 236.5px,#00e8ff 250.5px,#00d0ff 271.5px,#0090ff 346.5px,#0084ff 369.5px,#0060ff 498.5px,#004dff 545.5px,#001bff 644.5px,#0000ff 728.5px,#1000ff 747.5px,#2000ff 797.5px,#4000ff 932.5px,#6000ff 1014.5px,#7800ff 1121.5px,#8100f6 1279px)"></div>
<div style="height:4px;background:linear-gradient(90deg,#ab0000 0px,#dd0000 12.5px,#ff0000 18.5px,#ff0000 56.5px,#ff1d00 58.5px,#ff4900 60.5px,#ff7000 63.5px,#ff7900 64.5px,#ff9200 68.5px,#ffe000 78.5px,#fdff00 84.5px,#e2ff00 91.5px,#c6ff00 100.5px,#9fff00 108.5px,#87ff00 117.5px,#44ff00 127.5px,#1eff00 128.5px,#00ff00 129.5px,#00ff00 190.5px,#00ff17 191.5px,#00ff5c 193.5px,#00ff64 194.5px,#00ff89 203.5px,#00ff9f 215.5px,#00ffa5 216.5px,#00ffe0 223.5px,#00ffff 236.5px,#00e8ff 251.5px,#00d0ff 272.5px,#0090ff 347.5px,#0085ff 370.5px,#0060ff 502.5px,#004dff 550.5px,#001bff 649.5px,#0000ff 731.5px,#1000ff 749.5px,#2000ff 800.5px,#4000ff 937.5px,#6000ff 1020.5px,#7800ff 1126.5px,#8100f7 1279px)"></div>
<div style="height:4px;background:linear-gradient(90deg,#aa0000 0px,#e20000 13.5px,#ff0000 18.5px,#ff0000 56.5px,#ff1d00 58.5px,#ff4700 60.5px,#ff7800 64.5px,#ff9100 68.5px,#ffdf00 78.5px,#fdff00 84.5px,#e2ff00 91.5px,#c6ff00 100.5px,#9fff00 108.5px,#88ff00 117.5px,#45ff00 127.5px,#2bff00 128.5px,#00ff00 129.5px,#00ff00 190.5px,#00ff11 191.5px,#00ff56 193.5px,#00ff63 194.5px,#00ff89 203.5px,#00ffa3 216.5px,#00ffdf 223.5px,#00feff 237.5px,#00e8ff 251.5px,#00d0ff 273.5px,#0090ff 348.5px,#0085ff 372.5px,#0060ff 506.5px,#004dff 554.5px,#0010ff 679.5px,#0000ff 735.5px,#1000ff 752.5px,#2000ff 803.5px,#4000ff 941.5px,#6000ff 1026.5px,#7800ff 1132.5px,#8000f8 1279px)"></div>
<div style="height:4px;background:linear-gradient(90deg,#a80000 0px,#e10000 13.5px,#ff0000 18.5px,#ff0000 56.5px,#ff1c00 58.5px,#ff4600 60.5px,#ff7700 64.5px,#ff8000 65.5px,#ff9100 68.5px,#ffdf00 78.5px,#feff00 84.5px,#dfff00 92.5px,#c7ff00 100.5px,#9fff00 108.5px,#88ff00 117.5px,#46ff00 127.5px,#38ff00 128.5px,#00ff00 129.5px,#00ff00 190.5px,#00ff0b 191.5px,#00ff4f 193.5px,#00ff62 194.5px,#00ff88 203.5px,#00ffa1 216.5px,#00ffdd 223.5px,#00ffe2 224.5px,#00feff 237.5px,#00e7ff 252.5px,#00d0ff 273.5px,#0090ff 349.5px,#0085ff 374.5px,#0060ff 511.5px,#004dff 559.5px,#0010ff 683.5px,#0000ff 738.5px,#1000ff 754.5px,#2000ff 806.5px,#4000ff 945.5px,#6000ff 1032.5px,#7800ff 1137.5px,#8000f8 1279px)"></div>
<div style="height:4px;background:linear-gradient(90deg,#a70000 0px,#e00000 13.5px,#ff0000 18.5px,#ff0000 56.5px,#ff1b00 58.5px,#ff4400 60.5px,#ff5300 61.5px,#ff6c00 63.5px,#ff8000 65.5px,#ff9000 68.5px,#ffdf00 78.5px,#feff00 84.5px,#dfff00 92.5px,#c7ff00 100.5px,#9fff00 108.5px,#89ff00 117.5px,#83ff00 118.5px,#40ff00 128.5px,#00ff00 129.5px,#00ff00 190.5px,#00ff05 191.5px,#00ff49 193.5px,#00ff61 194.5px,#00ff88 203.5px,#00ffa0 216.5px,#00ffe1 224.5px,#00feff 237.5px,#00e8ff 252.5px,#00d0ff 274.5px,#0090ff 350.5px,#0084ff 376.5px,#0060ff 515.5px,#004dff 564.5px,#0010ff 687.5px,#0000ff 741.5px,#1000ff 756.5px,#2000ff 809.5px,#4000ff 950.5px,#6000ff 1038.5px,#7800ff 1143.5px,#8000f8 1279px)"></div>
<div style="height:4px;background:linear-gradient(90deg,#a60000 0px,#e00000 13.5px,#ff0000 18.5px,#ff0000 56.5px,#ff1a00 58.5px,#ff4300 60.5px,#ff5200 61.5px,#ff7600 64.5px,#ff9700 69.5px,#ffde00 78.5px,#feff00 84.5px,#dfff00 92.5px,#c8ff00 100.5px,#a0ff00 108.5px,#84ff00 118.5px,#41ff00 128.5px,#04ff00 129.5px,#00ff00 130.5px,#00ff00 191.5px,#00ff43 193.5px,#00ff61 194.5px,#00ff87 203.5px,#00ff9f 216.5px,#00ffe0 224.5px,#00ffff 237.5px,#00e8ff 252.5px,#00d0ff 275.5px,#0090ff 351.5px,#0085ff 377.5px,#0060ff 519.5px,#004dff 568.5px,#0010ff 691.5px,#0000ff 745.5px,#1000ff 759.5px,#2000ff 812.5px,#4000ff 954.5px,#6000ff 1044.5px,#7800ff 1148.5px,#7f00f9 1279px)"></div>
<div style="height:4px;background:linear-gradient(90deg,#a50000 0px,#df0000 13.5px,#ff0000 18.5px,#ff0000 56.5px,#ff1900 58.5px,#ff4100 60.5px,#ff5100 61.5px,#ff7500 64.5px,#ff9600 69.5px,#ffde00 78.5px,#feff00 84.5px,#dfff00 92.5px,#c8ff00 100.5px,#a0ff00 108.5px,#85ff00 118.5px,#43ff00 128.5px,#11ff00 129.5px,#00ff00 130.5px,#00ff00 191.5px,#00ff1b 192.5px,#00ff5f 194.5px,#00ff86 203.5px,#00ff9f 216.5px,#00ffa4 217.5px,#00ffe0 224.5px,#00feff 238.5px,#00e8ff 253.5px,#00d0ff 275.5px,#0090ff 352.5px,#0085ff 379.5px,#0060ff 524.5px,#004dff 573.5px,#0010ff 695.5px,#0000ff 748.5px,#1000ff 761.5px,#2000ff 815.5px,#4000ff 959.5px,#6000ff 1050.5px,#7800ff 1153.5px,#7f00f9 1279px)"></div>
<div style="height:4px;background:linear-gradient(90deg,#a40000 0px,#df0000 13.5px,#fe0000 18.5px,#ff0000 56.5px,#ff1900 58.5px,#ff4000 60.5px,#ff5000 61.5px,#ff7400 64.5px,#ff9500 69.5px,#ffdd00 78.5px,#feff00 84.5px,#dfff00 92.5px,#c8ff00 100.5px,#a0ff00 108.5px,#86ff00 118.5px,#44ff00 128.5px,#1eff00 129.5px,#00ff00 130.5px,#00ff00 191.5px,#00ff15 192.5px,#00ff59 194.5px,#00ff63 195.5px,#00ff89 204.5px,#00ffa2 217.5px,#00ffde 224.5px,#00ffe2 225.5px,#00feff 238.5px,#00e8ff 253.5px,#00d0ff 276.5px,#0090ff 353.5px,#0085ff 381.5px,#0060ff 528.5px,#004dff 578.5px,#0010ff 699.5px,#0000ff 751.5px,#1000ff 764.5px,#2000ff 817.5px,#4000ff 963.5px,#6000ff 1056.5px,#7800ff 1159.5px,#7f00f9 1279px)"></div>
<div style="height:4px;background:linear-gradient(90deg,#a30000 0px,#df0000 13.5px,#fe0000 18.5px,#ff0000 56.5px,#ff0900 57.5px,#ff1800 58.5px,#ff4f00 61.5px,#ff7300 64.5px,#ff8300 66.5px,#ff9400 69.5px,#ffdd00 78.5px,#feff00 84.5px,#dfff00 92.5px,#c9ff00 100.5px,#a1ff00 108.5px,#87ff00 118.5px,#45ff00 128.5px,#2bff00 129.5px,#00ff00 130.5px,#00ff00 191.5px,#00ff0f 192.5px,#00ff53 194.5px,#00ff63 195.5px,#00ff88 204.5px,#00ffa0 217.5px,#00ffdc 224.5px,#00ffe1 225.5px,#00feff 238.5px,#00e7ff 254.5px,#00d0ff 277.5px,#0090ff 355.5px,#0085ff 383.5px,#0060ff 532.5px,#004dff 582.5px,#0010ff 704.5px,#0000ff 755.5px,#1000ff 766.5px,#2000ff 820.5px,#4000ff 967.5px,#6000ff 1062.5px,#7800ff 1164.5px,#7e00fa 1279px)"></div>
<div style="height:4px;background:linear-gradient(90deg,#a20000 0px,#b60000 5.5px,#de0000 13.5px,#fd0000 18.5px,#ff0000 56.5px,#ff0900 57.5px,#ff1700 58.5px,#ff4e00 61.5px,#ff7200 64.5px,#ff8200 66.5px,#ff9300 69.5px,#ffdc00 78.5px,#ffff00 84.5px,#e0ff00 92.5px,#c9ff00 100.5px,#a1ff00 108.5px,#88ff00 118.5px,#46ff00 128.5px,#37ff00 129.5px,#00ff00 130.5px,#00ff00 191.5px,#00ff09 192.5px,#00ff4d 194.5px,#00ff62 195.5px,#00ff88 204.5px,#00ffa0 217.5px,#00ffe1 225.5px,#00ffff 238.5px,#00e8ff 254.5px,#00d0ff 277.5px,#0090ff 356.5px,#0085ff 384.5px,#0060ff 536.5px,#004dff 587.5px,#0010ff 708.5px,#0000ff 758.5px,#1000ff 769.5px,#2000ff 823.5px,#4000ff 972.5px,#6000ff 1068.5px,#7800ff 1169.5px,#7e00fa 1279px)"></div>
<div style="height:4px;background:linear-gradient(90deg,#a00000 0px,#ba0000 6.5px,#de0000 13.5px,#fd0000 18.5px,#ff0000 19.5px,#ff0000 56.5px,#ff0800 57.5px,#ff1600 58.5px,#ff4d00 61.5px,#ff7100 64.5px,#ff8200 66.5px,#ff9200 69.5px,#ffdc00 78.5px,#ffff00 84.5px,#e0ff00 92.5px,#c9ff00 100.5px,#a2ff00 108.5px,#88ff00 118.5px,#40ff00 129.5px,#00ff00 130.5px,#00ff00 191.5px,#00ff03 192.5px,#00ff47 194.5px,#00ff61 195.5px,#00ff87 204.5px,#00ff9f 217.5px,#00ffe0 225.5px,#00feff 239.5px,#00e8ff 254.5px,#00d0ff 278.5px,#0090ff 356.5px,#0084ff 386.5px,#0060ff 540.5px,#004dff 591.5px,#0010ff 712.5px,#0000ff 762.5px,#1000ff 774.5px,#2000ff 827.5px,#4000ff 976.5px,#6000ff 1074.5px,#7800ff 1175.5px,#7e00fa 1279px)"></div>
<div style="height:4px;background:linear-gradient(90deg,#9f0000 0px,#a50000 2.5px,#be0000 7.5px,#e30000 14.5px,#fc0000 18.5px,#ff0000 19.5px,#ff0000 56.5px,#ff0700 57.5px,#ff2600 59.5px,#ff4c00 61.5px,#ff7000 64.5px,#ff8100 66.5px,#ff9100 69.5px,#ffdb00 78.5px,#ffff00 84.5px,#e0ff00 92.5px,#c9ff00 100.5px,#9fff00 109.5px,#89ff00 118.5px,#41ff00 129.5px,#05ff00 130.5px,#00ff00 131.5px,#00ff00 192.5px,#00ff60 195.5px,#00ff86 204.5px,#00ff9f 217.5px,#00ffa4 218.5px,#00ffdf 225.5px,#00feff 239.5px,#00e8ff 255.5px,#00d0ff 279.5px,#0090ff 356.5px,#0085ff 387.5px,#0060ff 544.5px,#004dff 594.5px,#0010ff 715.5px,#0000ff 766.5px,#1000ff 780.5px,#2000ff 830.5px,#4000ff 981.5px,#6000ff 1080.5px,#7800ff 1180.5px,#7d00fa 1279px)"></div>
<div style="height:4px;background:linear-gradient(90deg,#9e0000 0px,#a40000 2.5px,#b80000 6.5px,#ff0000 19.5px,#ff0000 56.5px,#ff0700 57.5px,#ff1500 58.5px,#ff2400 59.5px,#ff4b00 61.5px,#ff7900 65.5px,#ff9100 69.5px,#ffdb00 78.5px,#ffff00 84.5px,#fbff00 85.5px,#e0ff00 92.5px,#c6ff00 101.5px,#9fff00 109.5px,#84ff00 119.5px,#42ff00 129.5px,#11ff00 130.5px,#00ff00 131.5px,#00ff00 192.5px,#00ff16 193.5px,#00ff5a 195.5px,#00ff63 196.5px,#00ff89 205.5px,#00ffa1 218.5px,#00ffdc 225.5px,#00ffe1 226.5px,#00ffff 239.5px,#00e8ff 255.5px,#00d0ff 279.5px,#0090ff 356.5px,#0085ff 388.5px,#0060ff 547.5px,#004dff 598.5px,#0010ff 719.5px,#0000ff 771.5px,#1000ff 786.5px,#2000ff 833.5px,#4000ff 985.5px,#6000ff 1086.5px,#7800ff 1185.5px,#7d00fb 1279px)"></div>
<div style="height:4px;background:linear-gradient(90deg,#9e0000 0px,#b70000 6.5px,#ff0000 19.5px,#ff0000 56.5px,#ff0600 57.5px,#ff1400 58.5px,#ff2300 59.5px,#ff4a00 61.5px,#ff7800 65.5px,#ff8000 66.5px,#ff9000 69.5px,#ffe100 79.5px,#fffe00 84.5px,#fcff00 85.5px,#e1ff00 92.5px,#c6ff00 101.5px,#9fff00 109.5px,#85ff00 119.5px,#44ff00 129.5px,#1eff00 130.5px,#00ff00 131.5px,#00ff00 192.5px,#00ff0a 193.5px,#00ff4e 195.5px,#00ff62 196.5px,#00ff88 205.5px,#00ffa0 218.5px,#00ffe0 226.5px,#00ffff 239.5px,#00e8ff 256.5px,#00d1ff 279.5px,#0090ff 356.5px,#0085ff 389.5px,#0060ff 551.5px,#004dff 601.5px,#0010ff 723.5px,#0000ff 775.5px,#1000ff 792.5px,#2000ff 837.5px,#4000ff 990.5px,#6000ff 1091.5px,#7800ff 1190.5px,#7d00fb 1279px)"></div>
<div style="height:4px;background:linear-gradient(90deg,#9e0000 0px,#a70000 3.5px,#b60000 6.5px,#ff0000 19.5px,#ff0000 56.5px,#ff0600 57.5px,#ff2200 59.5px,#ff4a00 61.5px,#ff6d00 64.5px,#ff8000 66.5px,#ff8f00 69.5px,#ffe000 79.5px,#fffe00 84.5px,#fcff00 85.5px,#e1ff00 92.5px,#c7ff00 101.5px,#a0ff00 109.5px,#86ff00 119.5px,#45ff00 129.5px,#2aff00 130.5px,#00ff00 131.5px,#00ff00 193.5px,#00ff60 196.5px,#00ff86 205.5px,#00ff9f 218.5px,#00ffa3 219.5px,#00ffde 226.5px,#00feff 240.5px,#00e8ff 256.5px,#00d0ff 280.5px,#0090ff 356.5px,#0085ff 390.5px,#0060ff 555.5px,#004dff 605.5px,#0010ff 727.5px,#0000ff 779.5px,#1000ff 797.5px,#2000ff 841.5px,#4000ff 995.5px,#6000ff 1096.5px,#7800ff 1195.5px,#7c00fb 1279px)"></div>
<div style="height:4px;background:linear-gradient(90deg,#9d0000 0px,#a70000 3.5px,#b60000 6.5px,#e00000 14.5px,#ff0000 19.5px,#ff0000 56.5px,#ff0500 57.5px,#ff2100 59.5px,#ff4900 61.5px,#ff6c00 64.5px,#ff7f00 66.5px,#ff8f00 69.5px,#ffe000 79.5px,#fffe00 84.5px,#fcff00 85.5px,#e1ff00 92.5px,#c7ff00 101.5px,#a0ff00 109.5px,#87ff00 119.5px,#46ff00 129.5px,#37ff00 130.5px,#00ff00 131.5px,#00ff00 193.5px,#00ff13 194.5px,#00ff56 196.5px,#00ff63 197.5px,#00ff88 206.5px,#00ffa0 219.5px,#00ffe1 227.5px,#00ffff 240.5px,#00e8ff 256.5px,#00d0ff 280.5px,#0090ff 357.5px,#0084ff 392.5px,#0060ff 559.5px,#004dff 608.5px,#0010ff 731.5px,#0000ff 784.5px,#1000ff 803.5px,#2000ff 844.5px,#4000ff 1000.5px,#6000ff 1100.5px,#7800ff 1200.5px,#7c00fb 1279px)"></div>
<div style="height:4px;background:linear-gradient(90deg,#9d0000 0px,#a60000 3.5px,#b50000 6.5px,#e00000 14.5px,#ff0000 19.5px,#ff0000 56.5px,#ff0400 57.5px,#ff2000 59.5px,#ff4800 61.5px,#ff7e00 66.5px,#ff9600 70.5px,#ffe000 79.5px,#fffd00 84.5px,#fcff00 85.5px,#e2ff00 92.5px,#c8ff00 101.5px,#a0ff00 109.5px,#88ff00 119.5px,#40ff00 130.5px,#00ff00 131.5px,#00ff00 193.5px,#00ff06 194.5px,#00ff4a 196.5px,#00ff61 197.5px,#00ff87 206.5px,#00ff9f 219.5px,#00ffe0 227.5px,#00feff 241.5px,#00e8ff 257.5px,#00d1ff 280.5px,#0090ff 357.5px,#0085ff 393.5px,#0060ff 562.5px,#004dff 612.5px,#0010ff 735.5px,#0000ff 788.5px,#1000ff 809.5px,#2000ff 848.5px,#4000ff 1005.5px,#6000ff 1105.5px,#7800ff 1205.5px,#7c00fc 1279px)"></div>
<div style="height:4px;background:linear-gradient(90deg,#9c0000 0px,#a50000 3.5px,#b90000 7.5px,#df0000 14.5px,#ff0000 19.5px,#ff0000 56.5px,#ff0400 57.5px,#ff1f00 59.5px,#ff4600 61.5px,#ff7d00 66.5px,#ff9500 70.5px,#ffdf00 79.5px,#fffd00 84.5px,#fdff00 85.5px,#dfff00 93.5px,#c8ff00 101.5px,#a1ff00 109.5px,#88ff00 119.5px,#41ff00 130.5px,#05ff00 131.5px,#00ff00 132.5px,#00ff00 194.5px,#00ff1c 195.5px,#00ff5f 197.5px,#00ff89 207.5px,#00ffa2 220.5px,#00ffdd 227.5px,#00ffe2 228.5px,#00feff 241.5px,#00e8ff 257.5px,#00d0ff 281.5px,#0090ff 357.5px,#0085ff 394.5px,#0060ff 566.5px,#004dff 615.5px,#0010ff 739.5px,#0000ff 792.5px,#1000ff 815.5px,#2000ff 851.5px,#4000ff 1010.5px,#6000ff 1110.5px,#7800ff 1210.5px,#7c00fc 1279px)"></div>
<div style="height:4px;background:linear-gradient(90deg,#9c0000 0px,#a50000 3.5px,#b90000 7.5px,#df0000 14.5px,#ff0000 19.5px,#ff0000 56.5px,#ff0300 57.5px,#ff1e00 59.5px,#ff4500 61.5px,#ff7d00 66.5px,#ff9500 70.5px,#ffdf00 79.5px,#fffd00 84.5px,#fdff00 85.5px,#dfff00 93.5px,#c8ff00 101.5px,#a2ff00 109.5px,#89ff00 119.5px,#42ff00 130.5px,#12ff00 131.5px,#00ff00 132.5px,#00ff00 194.5px,#00ff0f 195.5px,#00ff53 197.5px,#00ff63 198.5px,#00ff88 207.5px,#00ffa0 220.5px,#00ffe1 228.5px,#00ffff 241.5px,#00e8ff 257.5px,#00d0ff 281.5px,#0090ff 357.5px,#0085ff 395.5px,#0060ff 570.5px,#004dff 619.5px,#0010ff 743.5px,#0000ff 797.5px,#1000ff 821.5px,#2000ff 855.5px,#4000ff 1015.5px,#6000ff 1115.5px,#7800ff 1215.5px,#7b00fc 1279px)"></div>
<div style="height:4px;background:linear-gradient(90deg,#9c0000 0px,#a40000 3.5px,#b80000 7.5px,#de0000 14.5px,#ff0000 19.5px,#ff0000 56.5px,#ff0300 57.5px,#ff1d00 59.5px,#ff4400 61.5px,#ff7300 65.5px,#ff8300 67.5px,#ff9400 70.5px,#ffde00 79.5px,#fffc00 84.5px,#fdff00 85.5px,#dfff00 93.5px,#c9ff00 101.5px,#9fff00 110.5px,#84ff00 120.5px,#44ff00 130.5px,#1eff00 131.5px,#00ff00 132.5px,#00ff00 194.5px,#00ff03 195.5px,#00ff46 197.5px,#00ff61 198.5px,#00ff87 207.5px,#00ff9f 220.5px,#00ffa4 221.5px,#00ffdf 228.5px,#00feff 242.5px,#00e8ff 258.5px,#00d1ff 281.5px,#0090ff 357.5px,#0085ff 396.5px,#0060ff 573.5px,#004dff 622.5px,#0030ff 677.5px,#0010ff 747.5px,#0000ff 801.5px,#2000ff 858.5px,#4000ff 1020.5px,#6000ff 1120.5px,#7800ff 1220.5px,#7b00fc 1279px)"></div>
<div style="height:4px;background:linear-gradient(90deg,#9b0000 0px,#a40000 3.5px,#b70000 7.5px,#de0000 14.5px,#fe0000 19.5px,#ff0200 57.5px,#ff1d00 59.5px,#ff4200 61.5px,#ff7200 65.5px,#ff8200 67.5px,#ff9300 70.5px,#ffde00 79.5px,#fdff00 85.5px,#dfff00 93.5px,#c9ff00 101.5px,#9fff00 110.5px,#84ff00 120.5px,#44ff00 130.5px,#26ff00 131.5px,#00ff00 132.5px,#00ff00 195.5px,#00ff18 196.5px,#00ff5b 198.5px,#00ff64 199.5px,#00ff89 208.5px,#00ffa1 221.5px,#00ffdc 228.5px,#00ffe1 229.5px,#00ffff 242.5px,#00e8ff 258.5px,#00d0ff 282.5px,#0090ff 357.5px,#0085ff 398.5px,#0060ff 577.5px,#004dff 626.5px,#0030ff 680.5px,#0010ff 751.5px,#0000ff 805.5px,#2000ff 862.5px,#4000ff 1025.5px,#6000ff 1125.5px,#7800ff 1225.5px,#7b00fd 1279px)"></div>
<div style="height:4px;background:linear-gradient(90deg,#9b0000 0px,#a40000 3.5px,#b60000 7.5px,#e30000 15.5px,#fe0000 19.5px,#ff0100 57.5px,#ff1c00 59.5px,#ff4100 61.5px,#ff4f00 62.5px,#ff7100 65.5px,#ff8200 67.5px,#ff9300 70.5px,#ffde00 79.5px,#feff00 85.5px,#dfff00 93.5px,#c9ff00 101.5px,#9fff00 110.5px,#85ff00 120.5px,#45ff00 130.5px,#2dff00 131.5px,#00ff00 132.5px,#00ff00 195.5px,#00ff0b 196.5px,#00ff4f 198.5px,#00ff62 199.5px,#00ff88 208.5px,#00ffa0 221.5px,#00ffe0 229.5px,#00feff 243.5px,#00e9ff 258.5px,#00d0ff 282.5px,#0090ff 357.5px,#0060ff 581.5px,#004dff 629.5px,#0030ff 684.5px,#0010ff 755.5px,#0000ff 809.5px,#2000ff 866.5px,#4000ff 1030.5px,#6000ff 1130.5px,#7800ff 1230.5px,#7b00fd 1279px)"></div>
<div style="height:4px;background:linear-gradient(90deg,#9a0000 0px,#a70000 4.5px,#b50000 7.5px,#e20000 15.5px,#fd0000 19.5px,#ff0100 57.5px,#ff1b00 59.5px,#ff4e00 62.5px,#ff7900 66.5px,#ff9200 70.5px,#ffdd00 79.5px,#feff00 85.5px,#e0ff00 93.5px,#c9ff00 101.5px,#9fff00 110.5px,#86ff00 120.5px,#45ff00 130.5px,#33ff00 131.5px,#00ff00 132.5px,#00ff00 196.5px,#00ff61 199.5px,#00ff86 208.5px,#00ffa3 222.5px,#00ffde 229.5px,#00ffe2 230.5px,#00feff 243.5px,#00e8ff 259.5px,#00d0ff 282.5px,#0090ff 357.5px,#0060ff 584.5px,#004dff 632.5px,#0030ff 686.5px,#0010ff 758.5px,#0000ff 813.5px,#2000ff 869.5px,#4000ff 1035.5px,#6000ff 1135.5px,#7800ff 1235.5px,#7a00fd 1279px)"></div>
<div style="height:4px;background:linear-gradient(90deg,#9a0000 0px,#a60000 4.5px,#b50000 7.5px,#e20000 15.5px,#fd0000 19.5px,#ff0000 20.5px,#ff0000 57.5px,#ff1b00 59.5px,#ff4e00 62.5px,#ff7800 66.5px,#ff9100 70.5px,#ffdd00 79.5px,#feff00 85.5px,#e0ff00 93.5px,#c6ff00 102.5px,#9fff00 110.5px,#86ff00 120.5px,#46ff00 130.5px,#3aff00 131.5px,#00ff00 132.5px,#00ff00 196.5px,#00ff14 197.5px,#00ff58 199.5px,#00ff63 200.5px,#00ff88 209.5px,#00ffa0 222.5px,#00ffe1 230.5px,#00ffff 243.5px,#00e8ff 259.5px,#00d0ff 283.5px,#0090ff 358.5px,#0060ff 582.5px,#004eff 630.5px,#0030ff 685.5px,#0010ff 756.5px,#0000ff 811.5px,#2000ff 873.5px,#4000ff 1040.5px,#6000ff 1140.5px,#7800ff 1240.5px,#7a00fd 1279px)"></div>
<div style="height:4px;background:linear-gradient(90deg,#9a0000 0px,#a50000 4.5px,#b40000 7.5px,#e10000 15.5px,#fc0000 19.5px,#ff0000 20.5px,#ff0000 57.5px,#ff1a00 59.5px,#ff4d00 62.5px,#ff7800 66.5px,#ff8000 67.5px,#ff9100 70.5px,#ffdc00 79.5px,#feff00 85.5px,#e0ff00 93.5px,#c6ff00 102.5px,#a0ff00 110.5px,#87ff00 120.5px,#40ff00 131.5px,#00ff00 132.5px,#00ff00 196.5px,#00ff08 197.5px,#00ff4b 199.5px,#00ff62 200.5px,#00ff88 209.5px,#00ff9f 222.5px,#00ffe0 230.5px,#00feff 244.5px,#00e7ff 260.5px,#00d0ff 283.5px,#0090ff 358.5px,#0060ff 581.5px,#004dff 629.5px,#0030ff 683.5px,#0010ff 754.5px,#0000ff 809.5px,#2000ff 876.5px,#4000ff 1045.5px,#6000ff 1146.5px,#7800ff 1245.5px,#7a00fd 1279px)"></div>
<div style="height:4px;background:linear-gradient(90deg,#990000 0px,#a50000 4.5px,#b30000 7.5px,#e00000 15.5px,#fc0000 19.5px,#ff0000 20.5px,#ff0000 57.5px,#ff1900 59.5px,#ff4c00 62.5px,#ff8000 67.5px,#ff9000 70.5px,#ffdb00 79.5px,#feff00 85.5px,#e0ff00 93.5px,#c7ff00 102.5px,#a0ff00 110.5px,#87ff00 120.5px,#41ff00 131.5px,#00ff00 132.5px,#00ff00 197.5px,#00ff1d 198.5px,#00ff60 200.5px,#00ff89 210.5px,#00ffa2 223.5px,#00ffdd 230.5px,#00ffe1 231.5px,#00ffff 244.5px,#00e8ff 260.5px,#00d0ff 283.5px,#0090ff 358.5px,#0060ff 580.5px,#004dff 627.5px,#0030ff 681.5px,#0010ff 752.5px,#0000ff 807.5px,#1000ff 837.5px,#2000ff 879.5px,#4000ff 1050.5px,#6000ff 1151.5px,#7800ff 1250.5px,#7900fe 1279px)"></div>
<div style="height:4px;background:linear-gradient(90deg,#990000 0px,#a40000 4.5px,#b80000 8.5px,#ff0000 20.5px,#ff0000 57.5px,#ff1800 59.5px,#ff4b00 62.5px,#ff7f00 67.5px,#ff9000 70.5px,#ffdb00 79.5px,#ffff00 85.5px,#e1ff00 93.5px,#c7ff00 102.5px,#a0ff00 110.5px,#88ff00 120.5px,#41ff00 131.5px,#03ff00 132.5px,#00ff00 133.5px,#00ff00 197.5px,#00ff11 198.5px,#00ff54 200.5px,#00ff63 201.5px,#00ff88 210.5px,#00ffa0 223.5px,#00ffe1 231.5px,#00ffff 244.5px,#00e8ff 260.5px,#00d1ff 283.5px,#0090ff 358.5px,#0060ff 578.5px,#004dff 625.5px,#0030ff 679.5px,#0010ff 750.5px,#0000ff 805.5px,#1000ff 835.5px,#2000ff 883.5px,#4000ff 1055.5px,#6000ff 1156.5px,#7800ff 1255.5px,#7900fe 1279px)"></div>
<div style="height:4px;background:linear-gradient(90deg,#980000 0px,#a40000 4.5px,#b70000 8.5px,#ff0000 20.5px,#ff0000 57.5px,#ff2600 60.5px,#ff4a00 62.5px,#ff7e00 67.5px,#ff8f00 70.5px,#ffda00 79.5px,#ffff00 85.5px,#e1ff00 93.5px,#c7ff00 102.5px,#a0ff00 110.5px,#88ff00 120.5px,#42ff00 131.5px,#0aff00 132.5px,#00ff00 133.5px,#00ff00 197.5px,#00ff04 198.5px,#00ff48 200.5px,#00ff61 201.5px,#00ff87 210.5px,#00ff9f 223.5px,#00ffa4 224.5px,#00ffdf 231.5px,#00feff 245.5px,#00e8ff 261.5px,#00d0ff 284.5px,#0090ff 358.5px,#0079ff 453.5px,#0060ff 577.5px,#004dff 623.5px,#0030ff 677.5px,#0010ff 748.5px,#0000ff 803.5px,#1000ff 833.5px,#2000ff 886.5px,#4000ff 1060.5px,#6000ff 1161.5px,#7800ff 1260.5px,#7900fe 1279px)"></div>
<div style="height:4px;background:linear-gradient(90deg,#980000 0px,#a40000 4.5px,#b60000 8.5px,#ff0000 20.5px,#ff0000 57.5px,#ff2500 60.5px,#ff4900 62.5px,#ff7d00 67.5px,#ff9600 71.5px,#ffe100 80.5px,#ffff00 85.5px,#fbff00 86.5px,#e1ff00 93.5px,#c8ff00 102.5px,#a1ff00 110.5px,#88ff00 120.5px,#42ff00 131.5px,#10ff00 132.5px,#00ff00 133.5px,#00ff00 198.5px,#00ff19 199.5px,#00ff5d 201.5px,#00ff64 202.5px,#00ff89 211.5px,#00ffa1 224.5px,#00ffdc 231.5px,#00ffe1 232.5px,#00ffff 245.5px,#00e8ff 261.5px,#00d0ff 284.5px,#0090ff 358.5px,#0078ff 452.5px,#0060ff 575.5px,#004eff 621.5px,#0030ff 676.5px,#0010ff 746.5px,#0000ff 801.5px,#1000ff 831.5px,#2000ff 890.5px,#4000ff 1065.5px,#6000ff 1166.5px,#7900fe 1279px)"></div>
<div style="height:4px;background:linear-gradient(90deg,#980000 0px,#a70000 5.5px,#b50000 8.5px,#ff0000 20.5px,#ff0000 57.5px,#ff2400 60.5px,#ff4800 62.5px,#ff7c00 67.5px,#ff9600 71.5px,#ffe000 80.5px,#fffe00 85.5px,#fcff00 86.5px,#e1ff00 93.5px,#c8ff00 102.5px,#a1ff00 110.5px,#88ff00 120.5px,#43ff00 131.5px,#17ff00 132.5px,#00ff00 133.5px,#00ff00 198.5px,#00ff0d 199.5px,#00ff50 201.5px,#00ff62 202.5px,#00ff88 211.5px,#00ff9f 224.5px,#00ffe0 232.5px,#00feff 246.5px,#00e8ff 261.5px,#00d1ff 284.5px,#0090ff 358.5px,#0078ff 451.5px,#0060ff 574.5px,#004dff 620.5px,#0030ff 674.5px,#0010ff 744.5px,#0000ff 799.5px,#1000ff 830.5px,#2000ff 893.5px,#4000ff 1070.5px,#6000ff 1170.5px,#7800ff 1279px)"></div>
<div style="height:4px;background:linear-gradient(90deg,#970000 0px,#a60000 5.5px,#b40000 8.5px,#ff0000 20.5px,#ff0000 57.5px,#ff2300 60.5px,#ff4700 62.5px,#ff7b00 67.5px,#ff9500 71.5px,#ffe000 80.5px,#fffe00 85.5px,#fcff00 86.5px,#e2ff00 93.5px,#c8ff00 102.5px,#a1ff00 110.5px,#89ff00 120.5px,#83ff00 121.5px,#43ff00 131.5px,#1dff00 132.5px,#00ff00 133.5px,#00ff01 199.5px,#00ff44 201.5px,#00ff61 202.5px,#00ff87 211.5px,#00ffa3 225.5px,#00ffde 232.5px,#00ffe2 233.5px,#00feff 246.5px,#00e8ff 262.5px,#00d0ff 285.5px,#0090ff 358.5px,#0079ff 449.5px,#0060ff 572.5px,#004dff 618.5px,#0030ff 672.5px,#0010ff 742.5px,#0000ff 797.5px,#1000ff 828.5px,#2000ff 897.5px,#4000ff 1075.5px,#6000ff 1175.5px,#7800ff 1279px)"></div>
<div style="height:4px;background:linear-gradient(90deg,#970000 0px,#a50000 5.5px,#b40000 8.5px,#dd0000 15.5px,#ff0000 20.5px,#ff0000 57.5px,#ff0900 58.5px,#ff2200 60.5px,#ff4600 62.5px,#ff7a00 67.5px,#ff9400 71.5px,#ffdf00 80.5px,#fffd00 85.5px,#fcff00 86.5px,#dfff00 94.5px,#c8ff00 102.5px,#a2ff00 110.5px,#84ff00 121.5px,#44ff00 131.5px,#00ff00 133.5px,#00ff00 199.5px,#00ff16 200.5px,#00ff59 202.5px,#00ff63 203.5px,#00ff88 212.5px,#00ffa0 225.5px,#00ffe1 233.5px,#00ffff 246.5px,#00e8ff 262.5px,#00d0ff 285.5px,#0090ff 359.5px,#0078ff 448.5px,#0060ff 571.5px,#004dff 616.5px,#0030ff 670.5px,#0010ff 740.5px,#0000ff 795.5px,#1000ff 826.5px,#4000ff 1080.5px,#6000ff 1180.5px,#7700ff 1279px)"></div>
<div style="height:4px;background:linear-gradient(90deg,#970000 0px,#a50000 5.5px,#b30000 8.5px,#e30000 16.5px,#ff0000 20.5px,#ff0000 57.5px,#ff0800 58.5px,#ff2100 60.5px,#ff4400 62.5px,#ff7900 67.5px,#ff9300 71.5px,#ffdf00 80.5px,#fffd00 85.5px,#fcff00 86.5px,#dfff00 94.5px,#c9ff00 102.5px,#9fff00 111.5px,#84ff00 121.5px,#44ff00 131.5px,#2aff00 132.5px,#00ff00 133.5px,#00ff00 199.5px,#00ff09 200.5px,#00ff4d 202.5px,#00ff62 203.5px,#00ff88 212.5px,#00ff9f 225.5px,#00ffa5 226.5px,#00ffe0 233.5px,#00feff 247.5px,#00e8ff 262.5px,#00d1ff 285.5px,#0090ff 359.5px,#0079ff 447.5px,#0060ff 570.5px,#004dff 615.5px,#0030ff 669.5px,#0010ff 739.5px,#0000ff 794.5px,#1000ff 825.5px,#4000ff 1085.5px,#6000ff 1185.5px,#7600ff 1279px)"></div>
<div style="height:4px;background:linear-gradient(90deg,#960000 0px,#a40000 5.5px,#b70000 9.5px,#e20000 16.5px,#fe0000 20.5px,#ff0000 57.5px,#ff0700 58.5px,#ff2000 60.5px,#ff4300 62.5px,#ff4f00 63.5px,#ff8100 68.5px,#ff9300 71.5px,#ffde00 80.5px,#fffd00 85.5px,#fdff00 86.5px,#dfff00 94.5px,#c9ff00 102.5px,#9fff00 111.5px,#85ff00 121.5px,#45ff00 131.5px,#30ff00 132.5px,#00ff00 133.5px,#00ff00 200.5px,#00ff60 203.5px,#00ff89 213.5px,#00ffa2 226.5px,#00ffdc 233.5px,#00ffe1 234.5px,#00ffff 247.5px,#00e8ff 263.5px,#00d0ff 286.5px,#0090ff 360.5px,#0078ff 453.5px,#0060ff 575.5px,#004dff 621.5px,#0010ff 746.5px,#0000ff 801.5px,#1000ff 831.5px,#4000ff 1090.5px,#6000ff 1190.5px,#7500ff 1279px)"></div>
<div style="height:4px;background:linear-gradient(90deg,#960000 0px,#a40000 5.5px,#b70000 9.5px,#e10000 16.5px,#fe0000 20.5px,#ff0000 57.5px,#ff0700 58.5px,#ff1f00 60.5px,#ff4200 62.5px,#ff4e00 63.5px,#ff8000 68.5px,#ff9200 71.5px,#ffde00 80.5px,#fffc00 85.5px,#fdff00 86.5px,#dfff00 94.5px,#c9ff00 102.5px,#9fff00 111.5px,#85ff00 121.5px,#46ff00 131.5px,#37ff00 132.5px,#00ff00 133.5px,#00ff00 200.5px,#00ff12 201.5px,#00ff55 203.5px,#00ff63 204.5px,#00ff88 213.5px,#00ffa0 226.5px,#00ffe0 234.5px,#00feff 248.5px,#00e8ff 263.5px,#00d0ff 286.5px,#0090ff 360.5px,#0060ff 581.5px,#004dff 627.5px,#0010ff 753.5px,#0000ff 807.5px,#1000ff 837.5px,#4000ff 1095.5px,#6000ff 1195.5px,#7400ff 1279px)"></div>
<div style="height:4px;background:linear-gradient(90deg,#950000 0px,#a40000 5.5px,#b60000 9.5px,#e10000 16.5px,#fd0000 20.5px,#ff0000 57.5px,#ff0600 58.5px,#ff1e00 60.5px,#ff4e00 63.5px,#ff8000 68.5px,#ff9100 71.5px,#ffde00 80.5px,#fdff00 86.5px,#dfff00 94.5px,#c9ff00 102.5px,#9fff00 111.5px,#86ff00 121.5px,#3dff00 132.5px,#00ff00 133.5px,#00ff00 200.5px,#00ff06 201.5px,#00ff49 203.5px,#00ff61 204.5px,#00ff87 213.5px,#00ff9f 226.5px,#00ffa4 227.5px,#00ffde 234.5px,#00feff 248.5px,#00e7ff 264.5px,#00d1ff 286.5px,#0090ff 361.5px,#0060ff 586.5px,#004dff 633.5px,#0010ff 760.5px,#0000ff 814.5px,#1000ff 843.5px,#4000ff 1100.5px,#6000ff 1200.5px,#7300ff 1279px)"></div>
<div style="height:4px;background:linear-gradient(90deg,#940000 0px,#a70000 6.5px,#b50000 9.5px,#e00000 16.5px,#fd0000 20.5px,#ff0000 21.5px,#ff0000 57.5px,#ff0600 58.5px,#ff1d00 60.5px,#ff4d00 63.5px,#ff7f00 68.5px,#ff9100 71.5px,#ffdd00 80.5px,#fdff00 86.5px,#e0ff00 94.5px,#c9ff00 102.5px,#9fff00 111.5px,#86ff00 121.5px,#40ff00 132.5px,#00ff00 133.5px,#00ff00 201.5px,#00ff1b 202.5px,#00ff5e 204.5px,#00ff64 205.5px,#00ff89 214.5px,#00ffa0 227.5px,#00ffe1 235.5px,#00ffff 248.5px,#00e8ff 264.5px,#00d0ff 287.5px,#0090ff 362.5px,#0060ff 591.5px,#004dff 639.5px,#0010ff 767.5px,#0000ff 820.5px,#1000ff 849.5px,#4000ff 1105.5px,#6000ff 1205.5px,#7100ff 1279px)"></div>
<div style="height:4px;background:linear-gradient(90deg,#930000 0px,#a60000 6.5px,#b40000 9.5px,#df0000 16.5px,#fc0000 20.5px,#ff0000 21.5px,#ff0000 57.5px,#ff0500 58.5px,#ff1d00 60.5px,#ff4c00 63.5px,#ff7e00 68.5px,#ff9000 71.5px,#ffdd00 80.5px,#feff00 86.5px,#e0ff00 94.5px,#c6ff00 103.5px,#a0ff00 111.5px,#87ff00 121.5px,#41ff00 132.5px,#01ff00 133.5px,#00ff00 134.5px,#00ff00 201.5px,#00ff0f 202.5px,#00ff52 204.5px,#00ff62 205.5px,#00ff88 214.5px,#00ff9f 227.5px,#00ffe0 235.5px,#00feff 249.5px,#00e8ff 264.5px,#00d0ff 287.5px,#0090ff 362.5px,#0060ff 596.5px,#004dff 645.5px,#0010ff 775.5px,#0000ff 827.5px,#1000ff 855.5px,#4000ff 1110.5px,#6000ff 1210.5px,#7000ff 1279px)"></div>
<div style="height:4px;background:linear-gradient(90deg,#920000 0px,#a50000 6.5px,#b40000 9.5px,#df0000 16.5px,#fc0000 20.5px,#ff0000 21.5px,#ff0000 57.5px,#ff0500 58.5px,#ff1c00 60.5px,#ff4b00 63.5px,#ff7d00 68.5px,#ff9000 71.5px,#ffdc00 80.5px,#feff00 86.5px,#e0ff00 94.5px,#c6ff00 103.5px,#a0ff00 111.5px,#88ff00 121.5px,#41ff00 132.5px,#07ff00 133.5px,#00ff00 134.5px,#00ff00 201.5px,#00ff02 202.5px,#00ff45 204.5px,#00ff61 205.5px,#00ff87 214.5px,#00ffa2 228.5px,#00ffdd 235.5px,#00ffe2 236.5px,#00ffff 249.5px,#00e7ff 265.5px,#00d1ff 287.5px,#0090ff 363.5px,#0060ff 602.5px,#004eff 650.5px,#0010ff 782.5px,#0000ff 834.5px,#1000ff 861.5px,#4000ff 1115.5px,#6000ff 1215.5px,#6f00ff 1279px)"></div>
<div style="height:4px;background:linear-gradient(90deg,#910000 0px,#970000 1.5px,#a50000 6.5px,#b30000 9.5px,#ff0000 21.5px,#ff0000 57.5px,#ff0400 58.5px,#ff1b00 60.5px,#ff4a00 63.5px,#ff7c00 68.5px,#ff8f00 71.5px,#ffdb00 80.5px,#feff00 86.5px,#e0ff00 94.5px,#c7ff00 103.5px,#a0ff00 111.5px,#88ff00 121.5px,#42ff00 132.5px,#0eff00 133.5px,#00ff00 134.5px,#00ff00 202.5px,#00ff17 203.5px,#00ff5a 205.5px,#00ff63 206.5px,#00ff89 215.5px,#00ffa0 228.5px,#00ffe1 236.5px,#00feff 250.5px,#00e8ff 265.5px,#00d0ff 288.5px,#0090ff 364.5px,#0060ff 607.5px,#004dff 656.5px,#0010ff 789.5px,#0000ff 840.5px,#1000ff 867.5px,#4000ff 1120.5px,#6000ff 1220.5px,#6e00ff 1279px)"></div>
<div style="height:4px;background:linear-gradient(90deg,#900000 0px,#960000 1.5px,#a40000 6.5px,#b70000 10.5px,#ff0000 21.5px,#ff0000 57.5px,#ff0400 58.5px,#ff1b00 60.5px,#ff4900 63.5px,#ff7b00 68.5px,#ff9600 72.5px,#ffdb00 80.5px,#feff00 86.5px,#e0ff00 94.5px,#c7ff00 103.5px,#a0ff00 111.5px,#88ff00 121.5px,#43ff00 132.5px,#14ff00 133.5px,#00ff00 134.5px,#00ff00 202.5px,#00ff0b 203.5px,#00ff4e 205.5px,#00ff62 206.5px,#00ff88 215.5px,#00ff9f 228.5px,#00ffa4 229.5px,#00ffdf 236.5px,#00feff 250.5px,#00e8ff 265.5px,#00d0ff 288.5px,#0090ff 364.5px,#0060ff 612.5px,#004dff 662.5px,#0010ff 796.5px,#0000ff 847.5px,#1000ff 873.5px,#4000ff 1125.5px,#6000ff 1225.5px,#6d00ff 1279px)"></div>
<div style="height:4px;background:linear-gradient(90deg,#8f0000 0px,#960000 1.5px,#a40000 6.5px,#b60000 10.5px,#ff0000 21.5px,#ff0000 57.5px,#ff0300 58.5px,#ff2800 61.5px,#ff4900 63.5px,#ff7900 68.5px,#ff9600 72.5px,#ffda00 80.5px,#ffff00 86.5px,#e1ff00 94.5px,#c7ff00 103.5px,#a1ff00 111.5px,#88ff00 121.5px,#43ff00 132.5px,#1aff00 133.5px,#00ff00 134.5px,#00ff00 203.5px,#00ff60 206.5px,#00ff89 216.5px,#00ffa1 229.5px,#00ffdc 236.5px,#00ffe1 237.5px,#00ffff 250.5px,#00e8ff 266.5px,#00d1ff 288.5px,#0090ff 365.5px,#0060ff 617.5px,#004dff 668.5px,#0010ff 803.5px,#0000ff 853.5px,#1000ff 879.5px,#4000ff 1130.5px,#6000ff 1230.5px,#6b00ff 1279px)"></div>
<div style="height:4px;background:linear-gradient(90deg,#8e0000 0px,#950000 1.5px,#a40000 6.5px,#b50000 10.5px,#ff0000 21.5px,#ff0000 57.5px,#ff0300 58.5px,#ff2600 61.5px,#ff4700 63.5px,#ff8100 69.5px,#ff9500 72.5px,#ffd900 80.5px,#ffff00 86.5px,#e1ff00 94.5px,#c8ff00 103.5px,#a2ff00 111.5px,#84ff00 122.5px,#45ff00 132.5px,#32ff00 133.5px,#00ff00 134.5px,#00ff00 203.5px,#00ff14 204.5px,#00ff57 206.5px,#00ff63 207.5px,#00ff88 216.5px,#00ffa0 229.5px,#00ffe0 237.5px,#00feff 251.5px,#00e8ff 266.5px,#00d0ff 289.5px,#0090ff 366.5px,#0080ff 467.5px,#0060ff 623.5px,#004dff 674.5px,#0010ff 810.5px,#0000ff 860.5px,#1000ff 885.5px,#4000ff 1135.5px,#6a00ff 1279px)"></div>
<div style="height:4px;background:linear-gradient(90deg,#8d0000 0px,#940000 1.5px,#a70000 7.5px,#b50000 10.5px,#ff0000 21.5px,#ff0200 58.5px,#ff2500 61.5px,#ff4600 63.5px,#ff8100 69.5px,#ff9400 72.5px,#ffe000 81.5px,#ffff00 86.5px,#fbff00 87.5px,#dfff00 95.5px,#c9ff00 103.5px,#a0ff00 112.5px,#88ff00 122.5px,#44ff00 133.5px,#2aff00 134.5px,#00ff00 135.5px,#00ff00 203.5px,#00ff07 204.5px,#00ff4a 206.5px,#00ff61 207.5px,#00ff87 216.5px,#00ff9f 229.5px,#00ffa3 230.5px,#00ffde 237.5px,#00feff 251.5px,#00e8ff 266.5px,#00d0ff 289.5px,#0090ff 367.5px,#0080ff 472.5px,#0060ff 628.5px,#004dff 680.5px,#0010ff 817.5px,#0000ff 867.5px,#1000ff 891.5px,#4000ff 1140.5px,#6900ff 1279px)"></div>
<div style="height:4px;background:linear-gradient(90deg,#8c0000 0px,#980000 2.5px,#a60000 7.5px,#b40000 10.5px,#ff0000 21.5px,#ff0200 58.5px,#ff2400 61.5px,#ff4400 63.5px,#ff8000 69.5px,#ff9400 72.5px,#ffe000 81.5px,#fffe00 86.5px,#fcff00 87.5px,#dfff00 95.5px,#c7ff00 104.5px,#a2ff00 112.5px,#87ff00 123.5px,#43ff00 134.5px,#00ff00 136.5px,#00ff00 204.5px,#00ff1d 205.5px,#00ff5f 207.5px,#00ff89 217.5px,#00ffa0 230.5px,#00ffe1 238.5px,#00ffff 251.5px,#00e8ff 267.5px,#00d0ff 289.5px,#0090ff 368.5px,#0080ff 478.5px,#0060ff 633.5px,#004dff 686.5px,#0010ff 824.5px,#0000ff 873.5px,#1000ff 898.5px,#4000ff 1145.5px,#6800ff 1279px)"></div>
<div style="height:4px;background:linear-gradient(90deg,#8b0000 0px,#970000 2.5px,#a50000 7.5px,#b30000 10.5px,#ff0000 21.5px,#ff0100 58.5px,#ff2300 61.5px,#ff4300 63.5px,#ff4e00 64.5px,#ff7f00 69.5px,#ff9300 72.5px,#ffdf00 81.5px,#fffe00 86.5px,#fcff00 87.5px,#e0ff00 95.5px,#c8ff00 104.5px,#a0ff00 113.5px,#85ff00 124.5px,#43ff00 135.5px,#19ff00 136.5px,#00ff00 137.5px,#00ff00 204.5px,#00ff10 205.5px,#00ff53 207.5px,#00ff63 208.5px,#00ff88 217.5px,#00ff9f 230.5px,#00ffe0 238.5px,#00feff 252.5px,#00e8ff 267.5px,#00d0ff 290.5px,#0090ff 369.5px,#0080ff 484.5px,#0060ff 638.5px,#004dff 692.5px,#0010ff 831.5px,#0000ff 880.5px,#1000ff 904.5px,#4000ff 1150.5px,#6700ff 1279px)"></div>
<div style="height:4px;background:linear-gradient(90deg,#8a0000 0px,#970000 2.5px,#a50000 7.5px,#b80000 11.5px,#fe0000 21.5px,#ff0100 58.5px,#ff2200 61.5px,#ff4100 63.5px,#ff4d00 64.5px,#ff7d00 69.5px,#ff9200 72.5px,#ffdf00 81.5px,#fffe00 86.5px,#fcff00 87.5px,#e0ff00 95.5px,#c9ff00 104.5px,#a2ff00 113.5px,#88ff00 124.5px,#42ff00 136.5px,#11ff00 137.5px,#00ff00 138.5px,#00ff00 204.5px,#00ff04 205.5px,#00ff47 207.5px,#00ff61 208.5px,#00ff87 217.5px,#00ffa2 231.5px,#00ffdd 238.5px,#00ffe1 239.5px,#00ffff 252.5px,#00e9ff 267.5px,#00d0ff 290.5px,#0090ff 370.5px,#0080ff 489.5px,#0060ff 643.5px,#004dff 698.5px,#0010ff 838.5px,#0000ff 886.5px,#1000ff 910.5px,#4000ff 1155.5px,#6500ff 1279px)"></div>
<div style="height:4px;background:linear-gradient(90deg,#8a0000 0px,#970000 2.5px,#a50000 7.5px,#b70000 11.5px,#fe0000 21.5px,#ff0000 58.5px,#ff2100 61.5px,#ff4d00 64.5px,#ff7c00 69.5px,#ff9200 72.5px,#ffde00 81.5px,#fffd00 86.5px,#fdff00 87.5px,#e1ff00 95.5px,#c7ff00 105.5px,#a0ff00 114.5px,#87ff00 125.5px,#41ff00 137.5px,#09ff00 138.5px,#00ff00 139.5px,#00ff00 205.5px,#00ff19 206.5px,#00ff5c 208.5px,#00ff64 209.5px,#00ff89 218.5px,#00ffa0 231.5px,#00ffe1 239.5px,#00feff 253.5px,#00e8ff 268.5px,#00d0ff 291.5px,#0090ff 371.5px,#0080ff 495.5px,#0060ff 649.5px,#004dff 703.5px,#0010ff 845.5px,#0000ff 893.5px,#1000ff 916.5px,#4000ff 1160.5px,#6400ff 1279px)"></div>
<div style="height:4px;background:linear-gradient(90deg,#890000 0px,#960000 2.5px,#a40000 7.5px,#b60000 11.5px,#fd0000 21.5px,#ff0000 58.5px,#ff2000 61.5px,#ff4c00 64.5px,#ff8300 70.5px,#ff9100 72.5px,#ffde00 81.5px,#fffd00 86.5px,#fdff00 87.5px,#dfff00 96.5px,#c8ff00 105.5px,#a2ff00 114.5px,#85ff00 126.5px,#40ff00 138.5px,#02ff00 139.5px,#00ff00 140.5px,#00ff00 205.5px,#00ff0d 206.5px,#00ff4f 208.5px,#00ff62 209.5px,#00ff88 218.5px,#00ff9f 231.5px,#00ffa4 232.5px,#00ffdf 239.5px,#00feff 253.5px,#00e8ff 268.5px,#00d0ff 291.5px,#0090ff 372.5px,#0080ff 500.5px,#0060ff 654.5px,#004dff 709.5px,#0010ff 853.5px,#0000ff 900.5px,#1000ff 922.5px,#4000ff 1165.5px,#6300ff 1279px)"></div>
<div style="height:4px;background:linear-gradient(90deg,#890000 0px,#960000 2.5px,#a40000 7.5px,#b50000 11.5px,#fd0000 21.5px,#ff0000 22.5px,#ff0000 58.5px,#ff1f00 61.5px,#ff4b00 64.5px,#ff8300 70.5px,#ff9000 72.5px,#ffde00 81.5px,#fffc00 86.5px,#fdff00 87.5px,#dfff00 96.5px,#c6ff00 106.5px,#a0ff00 115.5px,#88ff00 126.5px,#45ff00 138.5px,#3cff00 139.5px,#00ff00 140.5px,#00ff00 206.5px,#00ff43 208.5px,#00ff61 209.5px,#00ff89 219.5px,#00ffa1 232.5px,#00ffe1 240.5px,#00ffff 253.5px,#00e7ff 269.5px,#00d0ff 291.5px,#0090ff 373.5px,#0080ff 506.5px,#0060ff 659.5px,#004dff 715.5px,#0010ff 860.5px,#0000ff 906.5px,#1000ff 928.5px,#4000ff 1170.5px,#6200ff 1279px)"></div>
<div style="height:4px;background:linear-gradient(90deg,#880000 0px,#950000 2.5px,#a70000 8.5px,#b40000 11.5px,#fc0000 21.5px,#ff0000 22.5px,#ff0000 58.5px,#ff1e00 61.5px,#ff4a00 64.5px,#ff8200 70.5px,#ff9000 72.5px,#ffdd00 81.5px,#fffc00 86.5px,#fdff00 87.5px,#e0ff00 96.5px,#c8ff00 106.5px,#a2ff00 115.5px,#87ff00 127.5px,#45ff00 139.5px,#34ff00 140.5px,#00ff00 141.5px,#00ff00 206.5px,#00ff15 207.5px,#00ff58 209.5px,#00ff63 210.5px,#00ff88 219.5px,#00ffa0 232.5px,#00ffe0 240.5px,#00feff 254.5px,#00e8ff 269.5px,#00cfff 292.5px,#0090ff 374.5px,#0080ff 512.5px,#0060ff 664.5px,#004dff 721.5px,#0010ff 867.5px,#0000ff 913.5px,#1000ff 934.5px,#4000ff 1175.5px,#6100ff 1279px)"></div>
<div style="height:4px;background:linear-gradient(90deg,#880000 0px,#940000 2.5px,#a60000 8.5px,#b40000 11.5px,#fc0000 21.5px,#ff0000 22.5px,#ff0000 58.5px,#ff1e00 61.5px,#ff4900 64.5px,#ff8100 70.5px,#ffc100 78.5px,#ffdd00 81.5px,#fffc00 86.5px,#fdff00 87.5px,#e0ff00 96.5px,#c9ff00 106.5px,#a0ff00 116.5px,#85ff00 128.5px,#44ff00 140.5px,#2cff00 141.5px,#00ff00 142.5px,#00ff00 206.5px,#00ff11 207.5px,#00ff53 209.5px,#00ff63 210.5px,#00ff88 219.5px,#00ff9f 232.5px,#00ffdf 240.5px,#00feff 254.5px,#00e8ff 269.5px,#00d0ff 292.5px,#0090ff 375.5px,#0080ff 517.5px,#0060ff 670.5px,#004dff 727.5px,#0000ff 919.5px,#1000ff 940.5px,#4000ff 1180.5px,#5f00ff 1279px)"></div>
<div style="height:2px;background:linear-gradient(90deg,#880000 0px,#980000 3.5px,#a60000 8.5px,#b30000 11.5px,#fb0000 21.5px,#ff0000 22.5px,#ff0000 58.5px,#ff1e00 61.5px,#ff4900 64.5px,#ff6c00 68.5px,#ff8100 70.5px,#ffc100 78.5px,#ffdd00 81.5px,#fffc00 86.5px,#fdff00 87.5px,#e1ff00 96.5px,#c9ff00 106.5px,#a0ff00 116.5px,#87ff00 128.5px,#40ff00 141.5px,#03ff00 142.5px,#00ff00 143.5px,#00ff00 206.5px,#00ff11 207.5px,#00ff53 209.5px,#00ff63 210.5px,#00ff88 219.5px,#00ff9f 232.5px,#00ffdf 240.5px,#00feff 254.5px,#00e8ff 269.5px,#00d0ff 292.5px,#0090ff 376.5px,#0080ff 520.5px,#0060ff 673.5px,#004dff 731.5px,#0000ff 923.5px,#1000ff 944.5px,#4000ff 1183.5px,#5e00ff 1279px)"></div>
</div>
<div id="cbw"></div><div id="cb"></div>
<svg width="1959" height="1541" viewBox="0 0 1959 1541">
<defs><clipPath id="pc"><rect x="216" y="103" width="1279" height="1218"/></clipPath>
<pattern id="hp" patternUnits="userSpaceOnUse" width="16" height="16" patternTransform="translate(8 0)"><path d="M-4,4 L4,-4 M0,16 L16,0 M12,20 L20,12" stroke="#595959" stroke-width="1.6"/></pattern></defs>
<g clip-path="url(#pc)" fill="none" stroke="#383838" stroke-width="2.7" stroke-linejoin="round">
<polyline points="216,276.7 223.1,361.3 225.9,461.7 228.3,582.3 231.1,719.4 233.6,753 235.6,904.3 239.7,1006.5 243.8,1129.1 245.9,1190.4 247.9,1272.1 249.1,1319.1"/>
<polyline points="243.2,102 249.2,180.4 255.2,260.8 261.3,361.3 265.3,502 268.1,719.4 269.6,802.2 273.7,924.8 276.5,986.1 279.4,1108.7 281.8,1210.8 283.5,1272.1 285.1,1319.1"/>
<polyline points="286.6,102 291.4,200.5 297.4,301 303.5,421.5 309.5,542.1 317.5,719.4 321.5,749 327.6,822.6 335.8,924.8 343.9,1047.4 350.1,1190.4 352.1,1280.3 361.1,1319.1"/>
<polyline points="385.8,102 395.6,158.4 409.2,224.7 413.1,263.6 422.9,302.6 428.7,341.5 438.4,392.2 442.3,427.2 443.1,470.1 457.9,509 461.8,567.5 469.6,622 485.2,672.6 492.7,722.2 507.5,806.5 520.1,874 537,928.8 547.5,992.1 562.3,1038.5 570.7,1080.7 600.3,1148.2 617.1,1203 615,1241 642.4,1278.9 699.4,1319"/>
</g>
<polygon points="1495,346 1411,385.5 1411,507.6 1326,547 1326,793.7 1239.7,833.2 1239.7,997 1157,1034 1155,1034 1155,1321 1495,1321" fill="#fff"/>
<polygon points="1495,346 1411,385.5 1411,507.6 1326,547 1326,793.7 1239.7,833.2 1239.7,997 1157,1034 1155,1034 1155,1321 1495,1321" fill="url(#hp)"/>
<g stroke="#ff840a" stroke-width="14" stroke-linecap="round"><line x1="1151.8" y1="419.5" x2="1151.8" y2="511"/><line x1="1151.8" y1="581.4" x2="1151.8" y2="1271.6"/></g>
<g fill="#72ee00">
<path d="M632.2,495.9h16.5l-8.2,-17.5z"/>
<path d="M669,496.8h16.5l-8.2,-17.5z"/>
<path d="M663.8,501.9h16.5l-8.2,-17.5z"/>
<path d="M697.8,482.9h16.5l-8.2,-17.5z"/>
<path d="M705.5,483.8h16.5l-8.2,-17.5z"/>
<path d="M720.2,485.4h16.5l-8.2,-17.5z"/>
<path d="M689.9,493.2h16.5l-8.2,-17.5z"/>
<path d="M703.8,498.4h16.5l-8.2,-17.5z"/>
<path d="M702,507.1h16.5l-8.2,-17.5z"/>
<path d="M709,512.4h16.5l-8.2,-17.5z"/>
<path d="M729.8,509.8h16.5l-8.2,-17.5z"/>
<path d="M722.8,519.2h16.5l-8.2,-17.5z"/>
<path d="M714.1,528h16.5l-8.2,-17.5z"/>
<path d="M750.5,491.6h16.5l-8.2,-17.5z"/>
<path d="M769.6,494.1h16.5l-8.2,-17.5z"/>
<path d="M790.5,499.4h16.5l-8.2,-17.5z"/>
<path d="M740.1,533.1h16.5l-8.2,-17.5z"/>
<path d="M750.5,540.1h16.5l-8.2,-17.5z"/>
<path d="M756.8,535h16.5l-8.2,-17.5z"/>
<path d="M767,536.6h16.5l-8.2,-17.5z"/>
<path d="M770.5,547h16.5l-8.2,-17.5z"/>
<path d="M847,517.5h16.5l-8.2,-17.5z"/>
<path d="M884.5,528h16.5l-8.2,-17.5z"/>
<path d="M918,539.2h16.5l-8.2,-17.5z"/>
<path d="M947.5,545.4h16.5l-8.2,-17.5z"/>
<path d="M851,580h16.5l-8.2,-17.5z"/>
<path d="M921.5,609.5h16.5l-8.2,-17.5z"/>
<path d="M875.9,362.9h16.5l-8.2,-17.5z"/>
<path d="M895.6,363.9h16.5l-8.2,-17.5z"/>
<path d="M915.1,358.9h16.5l-8.2,-17.5z"/>
<path d="M920.1,366.9h16.5l-8.2,-17.5z"/>
<path d="M917.1,377.9h16.5l-8.2,-17.5z"/>
<path d="M950.4,364.9h16.5l-8.2,-17.5z"/>
<path d="M990.5,373.9h16.5l-8.2,-17.5z"/>
<path d="M936.2,391.1h16.5l-8.2,-17.5z"/>
<path d="M959.4,401.1h16.5l-8.2,-17.5z"/>
<path d="M996.5,420.2h16.5l-8.2,-17.5z"/>
<path d="M1030.8,434.4h16.5l-8.2,-17.5z"/>
<path d="M1053,447.4h16.5l-8.2,-17.5z"/>
<path d="M1055,455.4h16.5l-8.2,-17.5z"/>
<path d="M1069,467.4h16.5l-8.2,-17.5z"/>
<path d="M1073,475.6h16.5l-8.2,-17.5z"/>
<path d="M1086.2,487.6h16.5l-8.2,-17.5z"/>
<path d="M1097.2,499.6h16.5l-8.2,-17.5z"/>
<path d="M1119.3,517.8h16.5l-8.2,-17.5z"/>
<path d="M1135.3,538h16.5l-8.2,-17.5z"/>
<path d="M989.5,557h16.5l-8.2,-17.5z"/>
<path d="M1023.8,564h16.5l-8.2,-17.5z"/>
<path d="M1059,570h16.5l-8.2,-17.5z"/>
<path d="M1085.2,574.1h16.5l-8.2,-17.5z"/>
<path d="M1098.2,573.1h16.5l-8.2,-17.5z"/>
<path d="M1113.2,573.1h16.5l-8.2,-17.5z"/>
<path d="M1125.3,572.1h16.5l-8.2,-17.5z"/>
<path d="M1137.5,608.4h16.5l-8.2,-17.5z"/>
<path d="M1139.5,624.5h16.5l-8.2,-17.5z"/>
<path d="M1133.3,628.5h16.5l-8.2,-17.5z"/>
<path d="M1138,623.8h16.5l-8.2,-17.5z"/>
<path d="M975.9,636h16.5l-8.2,-17.5z"/>
<path d="M990.4,648.2h16.5l-8.2,-17.5z"/>
<path d="M998.8,658.6h16.5l-8.2,-17.5z"/>
<path d="M1007.2,668h16.5l-8.2,-17.5z"/>
<path d="M1057.2,693.5h16.5l-8.2,-17.5z"/>
<path d="M1070.7,714.1h16.5l-8.2,-17.5z"/>
<path d="M1076.8,768.8h16.5l-8.2,-17.5z"/>
<path d="M1082.5,787.5h16.5l-8.2,-17.5z"/>
<path d="M1091,799.8h16.5l-8.2,-17.5z"/>
<path d="M1099.5,812h16.5l-8.2,-17.5z"/>
<path d="M1108.8,823.2h16.5l-8.2,-17.5z"/>
<path d="M1113.5,832.8h16.5l-8.2,-17.5z"/>
<path d="M1103.2,838.4h16.5l-8.2,-17.5z"/>
<path d="M1083.5,841.1h16.5l-8.2,-17.5z"/>
<path d="M1083.5,851.5h16.5l-8.2,-17.5z"/>
<path d="M1091,861.9h16.5l-8.2,-17.5z"/>
<path d="M1098.5,872.2h16.5l-8.2,-17.5z"/>
<path d="M1089.2,877.9h16.5l-8.2,-17.5z"/>
<path d="M1058,877h16.5l-8.2,-17.5z"/>
<path d="M1013.9,816.8h16.5l-8.2,-17.5z"/>
<path d="M1028,813.9h16.5l-8.2,-17.5z"/>
</g>
<g fill="#c6c8c8">
<path d="M231,206.6l8.8,10l-8.8,10l-8.8,-10z"/>
<path d="M288.5,224.2l8.8,10l-8.8,10l-8.8,-10z"/>
<path d="M293.4,230.7l8.8,10l-8.8,10l-8.8,-10z"/>
<path d="M297.5,235.6l8.8,10l-8.8,10l-8.8,-10z"/>
<path d="M379.2,237.3l8.8,10l-8.8,10l-8.8,-10z"/>
<path d="M375.9,250.3l8.8,10l-8.8,10l-8.8,-10z"/>
<path d="M362,247l8.8,10l-8.8,10l-8.8,-10z"/>
<path d="M353.8,255.2l8.8,10l-8.8,10l-8.8,-10z"/>
<path d="M344,261.8l8.8,10l-8.8,10l-8.8,-10z"/>
<path d="M335,270l8.8,10l-8.8,10l-8.8,-10z"/>
<path d="M365.3,266.7l8.8,10l-8.8,10l-8.8,-10z"/>
<path d="M380,270l8.8,10l-8.8,10l-8.8,-10z"/>
<path d="M352.2,276.5l8.8,10l-8.8,10l-8.8,-10z"/>
<path d="M371.8,281.4l8.8,10l-8.8,10l-8.8,-10z"/>
<path d="M350.6,289.5l8.8,10l-8.8,10l-8.8,-10z"/>
<path d="M375,289.5l8.8,10l-8.8,10l-8.8,-10z"/>
<path d="M349,302.6l8.8,10l-8.8,10l-8.8,-10z"/>
<path d="M367,305.9l8.8,10l-8.8,10l-8.8,-10z"/>
<path d="M357,296l8.8,10l-8.8,10l-8.8,-10z"/>
<path d="M393.9,249l8.8,10l-8.8,10l-8.8,-10z"/>
<path d="M401.2,270l8.8,10l-8.8,10l-8.8,-10z"/>
<path d="M408.6,278l8.8,10l-8.8,10l-8.8,-10z"/>
<path d="M389.8,320.6l8.8,10l-8.8,10l-8.8,-10z"/>
<path d="M426.9,259.3l8.8,10l-8.8,10l-8.8,-10z"/>
<path d="M443.7,258.5l8.8,10l-8.8,10l-8.8,-10z"/>
<path d="M448,263l8.8,10l-8.8,10l-8.8,-10z"/>
<path d="M453.5,268.3l8.8,10l-8.8,10l-8.8,-10z"/>
<path d="M473,278l8.8,10l-8.8,10l-8.8,-10z"/>
<path d="M478,271.6l8.8,10l-8.8,10l-8.8,-10z"/>
<path d="M481,266.7l8.8,10l-8.8,10l-8.8,-10z"/>
<path d="M445.3,342.6l8.8,10l-8.8,10l-8.8,-10z"/>
<path d="M478.8,352.4l8.8,10l-8.8,10l-8.8,-10z"/>
<path d="M515.5,363l8.8,10l-8.8,10l-8.8,-10z"/>
<path d="M624.7,298.7l8.8,10l-8.8,10l-8.8,-10z"/>
<path d="M676.2,274.3l8.8,10l-8.8,10l-8.8,-10z"/>
<path d="M706.4,280.6l8.8,10l-8.8,10l-8.8,-10z"/>
<path d="M743.8,287l8.8,10l-8.8,10l-8.8,-10z"/>
<path d="M747.7,288.9l8.8,10l-8.8,10l-8.8,-10z"/>
<path d="M752,290l8.8,10l-8.8,10l-8.8,-10z"/>
<path d="M778.2,304.1l8.8,10l-8.8,10l-8.8,-10z"/>
<path d="M804.1,296.7l8.8,10l-8.8,10l-8.8,-10z"/>
<path d="M820.7,317.2l8.8,10l-8.8,10l-8.8,-10z"/>
<path d="M876.2,314.8l8.8,10l-8.8,10l-8.8,-10z"/>
<path d="M752.2,335.7l8.8,10l-8.8,10l-8.8,-10z"/>
<path d="M617.3,385.3l8.8,10l-8.8,10l-8.8,-10z"/>
<path d="M686,408l8.8,10l-8.8,10l-8.8,-10z"/>
<path d="M746.7,424.2l8.8,10l-8.8,10l-8.8,-10z"/>
<path d="M800.6,437.9l8.8,10l-8.8,10l-8.8,-10z"/>
<path d="M850.3,366.4l8.8,10l-8.8,10l-8.8,-10z"/>
<path d="M876.2,378.9l8.8,10l-8.8,10l-8.8,-10z"/>
<path d="M890.2,342.1l8.8,10l-8.8,10l-8.8,-10z"/>
<path d="M948.5,365.3l8.8,10l-8.8,10l-8.8,-10z"/>
<path d="M892.6,389.4l8.8,10l-8.8,10l-8.8,-10z"/>
<path d="M907.7,398.5l8.8,10l-8.8,10l-8.8,-10z"/>
<path d="M986.7,380.4l8.8,10l-8.8,10l-8.8,-10z"/>
<path d="M996.8,389.4l8.8,10l-8.8,10l-8.8,-10z"/>
<path d="M1011.9,399.5l8.8,10l-8.8,10l-8.8,-10z"/>
<path d="M1027,410.5l8.8,10l-8.8,10l-8.8,-10z"/>
<path d="M1030,416.6l8.8,10l-8.8,10l-8.8,-10z"/>
<path d="M1049.1,428.6l8.8,10l-8.8,10l-8.8,-10z"/>
<path d="M1069.2,441.7l8.8,10l-8.8,10l-8.8,-10z"/>
<path d="M996.4,433.7l8.8,10l-8.8,10l-8.8,-10z"/>
<path d="M1020,452.8l8.8,10l-8.8,10l-8.8,-10z"/>
<path d="M1031,450.8l8.8,10l-8.8,10l-8.8,-10z"/>
<path d="M1043,469.9l8.8,10l-8.8,10l-8.8,-10z"/>
<path d="M1060.2,483l8.8,10l-8.8,10l-8.8,-10z"/>
<path d="M1074.2,495l8.8,10l-8.8,10l-8.8,-10z"/>
<path d="M1109.4,463.8l8.8,10l-8.8,10l-8.8,-10z"/>
<path d="M1127.6,479l8.8,10l-8.8,10l-8.8,-10z"/>
<path d="M1135.6,491l8.8,10l-8.8,10l-8.8,-10z"/>
<path d="M1143.6,501l8.8,10l-8.8,10l-8.8,-10z"/>
<path d="M1147.7,509.1l8.8,10l-8.8,10l-8.8,-10z"/>
<path d="M874.5,460.8l8.8,10l-8.8,10l-8.8,-10z"/>
<path d="M937,479l8.8,10l-8.8,10l-8.8,-10z"/>
<path d="M999.8,497l8.8,10l-8.8,10l-8.8,-10z"/>
<path d="M918.7,512.1l8.8,10l-8.8,10l-8.8,-10z"/>
<path d="M942.5,516.1l8.8,10l-8.8,10l-8.8,-10z"/>
<path d="M1047.1,509.1l8.8,10l-8.8,10l-8.8,-10z"/>
<path d="M1044,521.2l8.8,10l-8.8,10l-8.8,-10z"/>
<path d="M1074.2,513.1l8.8,10l-8.8,10l-8.8,-10z"/>
<path d="M1077.3,521.2l8.8,10l-8.8,10l-8.8,-10z"/>
<path d="M1094.4,513.1l8.8,10l-8.8,10l-8.8,-10z"/>
<path d="M1118.5,519.2l8.8,10l-8.8,10l-8.8,-10z"/>
<path d="M1135.6,521.2l8.8,10l-8.8,10l-8.8,-10z"/>
<path d="M998.4,531.2l8.8,10l-8.8,10l-8.8,-10z"/>
<path d="M1057.1,533.2l8.8,10l-8.8,10l-8.8,-10z"/>
<path d="M1054.1,545.3l8.8,10l-8.8,10l-8.8,-10z"/>
<path d="M1070.2,543.3l8.8,10l-8.8,10l-8.8,-10z"/>
<path d="M1151.7,577.5l8.8,10l-8.8,10l-8.8,-10z"/>
</g>
<circle cx="951.1" cy="1051" r="7.2" fill="#ff840a"/>
<path d="M942.5,1128h16.5l-8.2,-17.5z" fill="#72ee00"/>
<path d="M951,1182.7l8.75,10l-8.75,10l-8.75,-10z" fill="#c6c8c8"/>
<g font-family="Liberation Serif, serif" font-size="57" fill="#fff" text-anchor="middle"><text transform="translate(1050,1068) scale(0.87,1)">0%</text><text transform="translate(1050,1139) scale(0.87,1)">50%</text><text transform="translate(1050,1210) scale(0.87,1)">90%</text></g>
<g fill="#000">
<rect x="208" y="99" width="1292" height="4"/>
<rect x="208" y="99" width="8" height="1227"/>
<rect x="1495" y="99" width="5" height="1227"/>
<rect x="208" y="1320.8" width="1292" height="4.5"/>
<rect x="189.5" y="98.6" width="20" height="6.6"/>
<rect x="200.3" y="200.9" width="9" height="5.6"/>
<rect x="189.5" y="302.2" width="20" height="6.6"/>
<rect x="200.3" y="404.5" width="9" height="5.6"/>
<rect x="189.5" y="505.8" width="20" height="6.6"/>
<rect x="200.3" y="608.1" width="9" height="5.6"/>
<rect x="189.5" y="709.4" width="20" height="6.6"/>
<rect x="200.3" y="811.7" width="9" height="5.6"/>
<rect x="189.5" y="913" width="20" height="6.6"/>
<rect x="200.3" y="1015.3" width="9" height="5.6"/>
<rect x="189.5" y="1116.6" width="20" height="6.6"/>
<rect x="200.3" y="1218.9" width="9" height="5.6"/>
<rect x="189.5" y="1320.5" width="20" height="5"/>
<rect x="208.8" y="1322" width="7.6" height="24"/>
<rect x="423.1" y="1322" width="6.6" height="12.5"/>
<rect x="636.5" y="1322" width="7.6" height="24"/>
<rect x="850.9" y="1322" width="6.6" height="12.5"/>
<rect x="1064.2" y="1322" width="7.6" height="24"/>
<rect x="1278.5" y="1322" width="6.6" height="12.5"/>
<rect x="1491.9" y="1322" width="7.6" height="24"/>
</g>
<g font-family="Liberation Serif, serif" font-size="54" fill="#000">
<text x="175" y="115.9" text-anchor="end">130</text>
<text x="175" y="319.5" text-anchor="end">125</text>
<text x="175" y="523.1" text-anchor="end">120</text>
<text x="175" y="726.7" text-anchor="end">115</text>
<text x="175" y="930.3" text-anchor="end">110</text>
<text x="175" y="1133.9" text-anchor="end">105</text>
<text x="175" y="1337.5" text-anchor="end">100</text>
<text x="214.6" y="1403" text-anchor="middle">100</text>
<text x="642.3" y="1403" text-anchor="middle">600</text>
<text x="1070" y="1403" text-anchor="middle">1100</text>
<text x="1497.7" y="1403" text-anchor="middle">1600</text>
</g>
<text x="664" y="1502.5" font-family="Liberation Serif, serif" font-size="64.2" fill="#000">Output (MW)</text>
<text transform="translate(68.3,838) rotate(-90)" font-family="Liberation Serif, serif" font-size="64" fill="#000">H-net (m)</text>
<rect x="1692.9" y="100.5" width="102.2" height="1219.5" fill="none" stroke="#000" stroke-width="3.5"/>
<rect x="1691.2" y="1316.3" width="105.6" height="7" fill="#000"/>
<g fill="#000">
<rect x="1796.8" y="105" width="22" height="2.6"/>
<rect x="1796.8" y="346.9" width="22" height="2.6"/>
<rect x="1796.8" y="588.8" width="22" height="2.6"/>
<rect x="1796.8" y="830.7" width="22" height="2.6"/>
<rect x="1796.8" y="1072.6" width="22" height="2.6"/>
<rect x="1796.8" y="1314.5" width="22" height="2.6"/>
</g><g font-family="Liberation Serif, serif" font-size="42" fill="#000">
<text x="1833.5" y="120.3">9.480</text>
<text x="1833.5" y="362.2">8.192</text>
<text x="1833.5" y="604.1">6.904</text>
<text x="1833.5" y="846">5.616</text>
<text x="1833.5" y="1087.9">4.328</text>
<text x="1833.5" y="1329.8">3.040</text>
</g>
<text x="1046.6" y="75" font-family="Liberation Serif, serif" font-size="64" fill="#000">Water consumption rate (m<tspan dy="-29.5" font-size="38">3</tspan><tspan dy="29.5">/kWh)</tspan></text>
</svg>
</body></html>
